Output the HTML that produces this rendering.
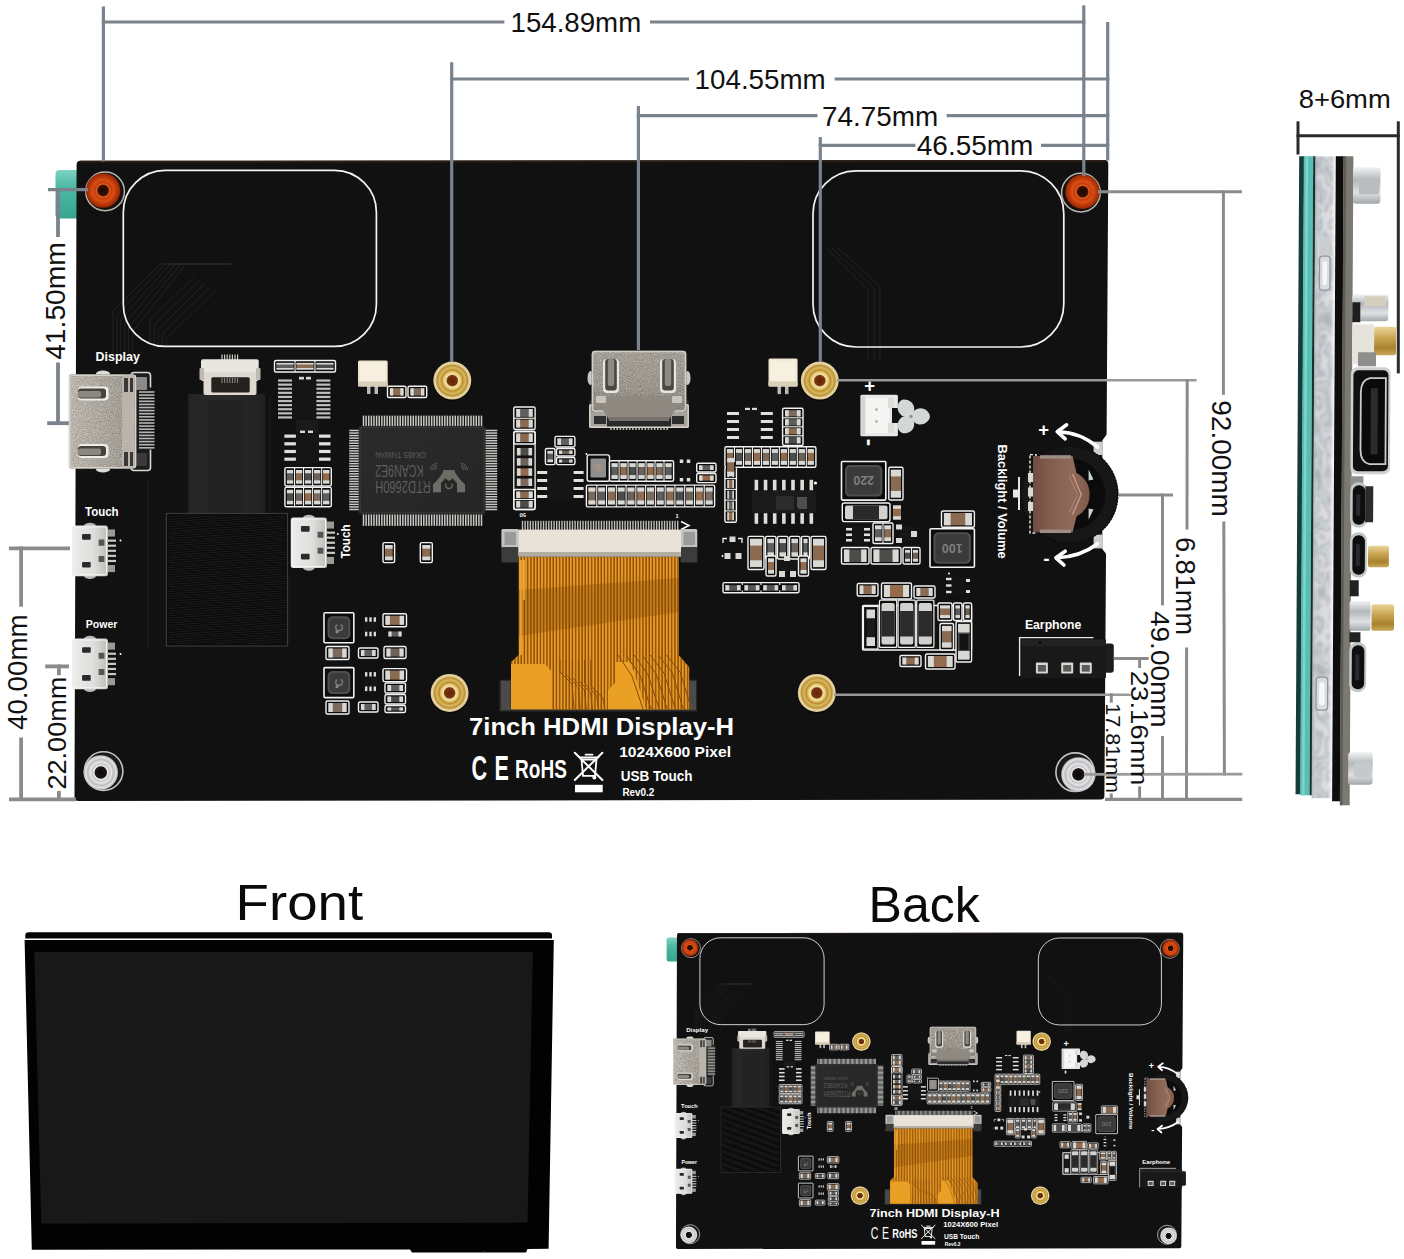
<!DOCTYPE html>
<html lang="en"><head><meta charset="utf-8"><title>7inch HDMI Display-H dimensions</title>
<style>html,body{margin:0;padding:0;background:#fff}body{width:1404px;height:1259px;overflow:hidden}svg{display:block}text{font-family:'Liberation Sans', 'Noto Sans CJK SC', sans-serif}</style></head><body>
<svg width="1404" height="1259" viewBox="0 0 1404 1259">

<defs>
<linearGradient id="gTeal" x1="0" y1="0" x2="0" y2="1"><stop offset="0" stop-color="#7fd3c2"/><stop offset="0.35" stop-color="#4db9a4"/><stop offset="1" stop-color="#36a48f"/></linearGradient>
<linearGradient id="gSheen" x1="0" y1="0" x2="1" y2="0"><stop offset="0" stop-color="#1a1a1a" stop-opacity="0"/><stop offset="0.5" stop-color="#1a1a1a" stop-opacity="0.6"/><stop offset="1" stop-color="#1a1a1a" stop-opacity="0"/></linearGradient>
<linearGradient id="gHdmi" x1="0" y1="0" x2="1" y2="0"><stop offset="0" stop-color="#b9b5ad"/><stop offset="0.5" stop-color="#aaa69e"/><stop offset="1" stop-color="#9a968e"/></linearGradient>
<linearGradient id="gHdmiC" x1="0" y1="0" x2="0" y2="1"><stop offset="0" stop-color="#a29e96"/><stop offset="0.6" stop-color="#9a968e"/><stop offset="1" stop-color="#86827a"/></linearGradient>
<linearGradient id="gUsb" x1="0" y1="0" x2="1" y2="0"><stop offset="0" stop-color="#ececea"/><stop offset="0.6" stop-color="#dededc"/><stop offset="1" stop-color="#bcbcb8"/></linearGradient>
<linearGradient id="gTape" x1="0" y1="0" x2="1" y2="0"><stop offset="0" stop-color="#242424"/><stop offset="0.5" stop-color="#2b2b2b"/><stop offset="1" stop-color="#202020"/></linearGradient>
<linearGradient id="gChip" x1="0" y1="0" x2="1" y2="1"><stop offset="0" stop-color="#2b2b2b"/><stop offset="1" stop-color="#252525"/></linearGradient>
<linearGradient id="gCopper" x1="0" y1="0" x2="1" y2="0"><stop offset="0" stop-color="#6e4d42"/><stop offset="0.35" stop-color="#85604f"/><stop offset="0.7" stop-color="#8f6a5a"/><stop offset="1" stop-color="#80584a"/></linearGradient>
<linearGradient id="gMetal" x1="0" y1="0" x2="1" y2="0"><stop offset="0" stop-color="#8e9498" stop-opacity="0.55"/><stop offset="0.25" stop-color="#ffffff" stop-opacity="0"/><stop offset="0.8" stop-color="#ffffff" stop-opacity="0.15"/><stop offset="1" stop-color="#ffffff" stop-opacity="0.7"/></linearGradient>
<linearGradient id="gSilverV" x1="0" y1="0" x2="0" y2="1"><stop offset="0" stop-color="#f2f3f4"/><stop offset="0.35" stop-color="#b4b8bb"/><stop offset="0.7" stop-color="#dfe1e3"/><stop offset="1" stop-color="#a4a8ab"/></linearGradient>
<linearGradient id="gBrass" x1="0" y1="0" x2="0" y2="1"><stop offset="0" stop-color="#e9d59a"/><stop offset="0.4" stop-color="#c9a552"/><stop offset="0.75" stop-color="#a8822e"/><stop offset="1" stop-color="#c8a85a"/></linearGradient>
<filter id="fMetal" x="0" y="0" width="100%" height="100%" color-interpolation-filters="sRGB"><feTurbulence type="fractalNoise" baseFrequency="0.075 0.04" numOctaves="2" seed="11"/><feColorMatrix type="matrix" values="1.5 0 0 0 -0.25  1.5 0 0 0 -0.25  1.5 0 0 0 -0.25  0 0 0 0 1"/><feComponentTransfer><feFuncR type="discrete" tableValues="0.66 0.70 0.78 0.72 0.84 0.76 0.70 0.80"/><feFuncG type="discrete" tableValues="0.68 0.72 0.80 0.74 0.85 0.78 0.72 0.81"/><feFuncB type="discrete" tableValues="0.70 0.74 0.81 0.76 0.86 0.80 0.74 0.82"/></feComponentTransfer><feGaussianBlur stdDeviation="0.8"/><feComposite in2="SourceGraphic" operator="in"/></filter>
<radialGradient id="gRed"><stop offset="0" stop-color="#1c0802"/><stop offset="0.30" stop-color="#3a0e02"/><stop offset="0.37" stop-color="#e2601f"/><stop offset="0.47" stop-color="#c43d0c"/><stop offset="0.62" stop-color="#d94e14"/><stop offset="0.8" stop-color="#bb380a"/><stop offset="1" stop-color="#932604"/></radialGradient>
<radialGradient id="gGold"><stop offset="0" stop-color="#5e2406"/><stop offset="0.27" stop-color="#7a3510"/><stop offset="0.33" stop-color="#f3e2a4"/><stop offset="0.45" stop-color="#e6cc7c"/><stop offset="0.55" stop-color="#bb8e30"/><stop offset="0.68" stop-color="#d9b95e"/><stop offset="0.8" stop-color="#b98f38"/><stop offset="0.9" stop-color="#e9d8a6"/><stop offset="1" stop-color="#d7c190"/></radialGradient>
<radialGradient id="gSilver"><stop offset="0" stop-color="#0c0808"/><stop offset="0.33" stop-color="#1a1414"/><stop offset="0.39" stop-color="#f0f0f0"/><stop offset="0.5" stop-color="#c6c6ca"/><stop offset="0.62" stop-color="#e6e6e8"/><stop offset="0.75" stop-color="#bcbcc0"/><stop offset="0.88" stop-color="#e2e2e4"/><stop offset="1" stop-color="#b4b4b8"/></radialGradient>
<filter id="fGrain" x="0" y="0" width="100%" height="100%" color-interpolation-filters="sRGB"><feTurbulence type="fractalNoise" baseFrequency="0.75" numOctaves="2" seed="4" result="n"/><feColorMatrix in="n" type="matrix" values="0.33 0.33 0.33 0 0  0.33 0.33 0.33 0 0  0.33 0.33 0.33 0 0  0 0 0 0 1" result="g"/><feComposite in="SourceGraphic" in2="g" operator="arithmetic" k1="0" k2="1" k3="0.55" k4="-0.27" result="c"/><feComposite in="c" in2="SourceGraphic" operator="in"/></filter>
<pattern id="pRib" width="6" height="2.4" patternUnits="userSpaceOnUse" patternTransform="rotate(-4)"><rect width="6" height="2.4" fill="#0a0a0a"/><rect y="1.5" width="6" height="0.9" fill="#1c1c1c"/></pattern>
<pattern id="pFlex" x="518.8" width="3.2" height="8" patternUnits="userSpaceOnUse"><rect x="1.8" width="1.4" height="8" fill="#8c4c0a"/></pattern>
<pattern id="pMetal" width="19.8" height="46" patternUnits="userSpaceOnUse"><rect width="19.8" height="46" fill="#b5babe"/><path d="M0 4 L9 0 L14 9 L6 15 Z" fill="#cfd3d6"/><path d="M10 14 L19.8 10 L19.8 24 L12 27 Z" fill="#9fa5a9"/><path d="M1 22 L9 19 L12 31 L3 34 Z" fill="#d9dcde"/><path d="M9 33 L18 30 L19.8 42 L11 46 Z" fill="#c3c7ca"/><path d="M0 38 L7 36 L8 46 L0 46 Z" fill="#a7adb1"/></pattern>
</defs>

<rect x="0" y="0" width="1404" height="1259" fill="#ffffff"/>
<g id="board-large" font-weight="bold">
<rect x="55.5" y="170" width="23.5" height="48.5" rx="4" fill="url(#gTeal)"/>
<path d="M80.5 160.8 L1104.5 160 Q1108.3 160 1108.3 164 L1106.6 434.5 L1102.3 440.4 L1102.3 549 L1106 553.8 L1104.4 796 Q1104.4 799.6 1100.5 799.6 L78.5 801 Q74.4 801 74.5 797 L76.6 165 Q76.6 160.8 80.5 160.8 Z" fill="#111111"/>
<path d="M80.5 160.8 L1104.5 160 L1104.5 162 L80.5 162.8 Z" fill="#2a1c16"/>
<path d="M232 264 L160 264 L113 311 L113 360" stroke="#262626" stroke-width="0.9" fill="none"/>
<path d="M230.96 264 L165.2 264 L116.9 315.16 L116.9 360" stroke="#262626" stroke-width="0.9" fill="none"/>
<path d="M229.92 264 L170.4 264 L120.8 319.32 L120.8 360" stroke="#262626" stroke-width="0.9" fill="none"/>
<path d="M228.88 264 L175.6 264 L124.7 323.48 L124.7 360" stroke="#262626" stroke-width="0.9" fill="none"/>
<path d="M227.84 264 L180.8 264 L128.6 327.64 L128.6 360" stroke="#262626" stroke-width="0.9" fill="none"/>
<path d="M226.8 264 L186 264 L132.5 331.8 L132.5 360" stroke="#262626" stroke-width="0.9" fill="none"/>
<path d="M196 275 L150 320 L150 345" stroke="#262626" stroke-width="0.9" fill="none"/>
<path d="M200.6 279.14 L154.14 324.6 L154.14 345" stroke="#262626" stroke-width="0.9" fill="none"/>
<path d="M205.2 283.28 L158.28 329.2 L158.28 345" stroke="#262626" stroke-width="0.9" fill="none"/>
<path d="M209.8 287.42 L162.42 333.8 L162.42 345" stroke="#262626" stroke-width="0.9" fill="none"/>
<path d="M214.4 291.56 L166.56 338.4 L166.56 345" stroke="#262626" stroke-width="0.9" fill="none"/>
<path d="M826 248 L868 290 L868 360" stroke="#262626" stroke-width="0.9" fill="none"/>
<path d="M832 248 L874 288.2 L874 360" stroke="#262626" stroke-width="0.9" fill="none"/>
<path d="M838 248 L880 286.4 L880 360" stroke="#262626" stroke-width="0.9" fill="none"/>
<path d="M148 480 L148 650 M270 395 L270 512 M289 575 L289 645" stroke="#1f1f1f" stroke-width="1" fill="none"/>
<rect x="123.3" y="170.4" width="253.1" height="176" rx="42" fill="none" stroke="#f4f4f4" stroke-width="1.7"/>
<rect x="813" y="170.8" width="250.8" height="176.2" rx="43" fill="none" stroke="#f4f4f4" stroke-width="1.7"/>
<rect x="131" y="372.5" width="20" height="98" rx="2" fill="#1c1c1c"/>
<rect x="131" y="372.5" width="19.5" height="98" rx="3" fill="none" stroke="#d8d8d4" stroke-width="1.6" stroke-dasharray="30 62 200"/>
<rect x="139" y="391.2" width="15.5" height="1.6" fill="#b4b4b0"/>
<rect x="139" y="394.3" width="15.5" height="1.6" fill="#b4b4b0"/>
<rect x="139" y="397.4" width="15.5" height="1.6" fill="#b4b4b0"/>
<rect x="139" y="400.5" width="15.5" height="1.6" fill="#b4b4b0"/>
<rect x="139" y="403.6" width="15.5" height="1.6" fill="#b4b4b0"/>
<rect x="139" y="406.7" width="15.5" height="1.6" fill="#b4b4b0"/>
<rect x="139" y="409.8" width="15.5" height="1.6" fill="#b4b4b0"/>
<rect x="139" y="412.9" width="15.5" height="1.6" fill="#b4b4b0"/>
<rect x="139" y="416" width="15.5" height="1.6" fill="#b4b4b0"/>
<rect x="139" y="419.1" width="15.5" height="1.6" fill="#b4b4b0"/>
<rect x="139" y="422.2" width="15.5" height="1.6" fill="#b4b4b0"/>
<rect x="139" y="425.3" width="15.5" height="1.6" fill="#b4b4b0"/>
<rect x="139" y="428.4" width="15.5" height="1.6" fill="#b4b4b0"/>
<rect x="139" y="431.5" width="15.5" height="1.6" fill="#b4b4b0"/>
<rect x="139" y="434.6" width="15.5" height="1.6" fill="#b4b4b0"/>
<rect x="139" y="437.7" width="15.5" height="1.6" fill="#b4b4b0"/>
<rect x="139" y="440.8" width="15.5" height="1.6" fill="#b4b4b0"/>
<rect x="139" y="443.9" width="15.5" height="1.6" fill="#b4b4b0"/>
<rect x="139" y="447" width="15.5" height="1.6" fill="#b4b4b0"/>
<rect x="135" y="377" width="12" height="13" rx="1" fill="#8a8a88"/>
<rect x="135" y="453" width="12" height="13" rx="1" fill="#3a3a3a"/>
<ellipse cx="103" cy="373.5" rx="7" ry="3" fill="#dcdcd8"/>
<ellipse cx="103" cy="469.5" rx="7" ry="3" fill="#dcdcd8"/>
<rect x="68.8" y="374.3" width="67.7" height="94.4" rx="3" fill="url(#gHdmi)" filter="url(#fGrain)"/>
<rect x="69.8" y="375.3" width="65.7" height="92.4" rx="3" fill="none" stroke="#d6d2ca" stroke-width="1.6"/>
<rect x="122" y="375.3" width="12" height="92.4" fill="#b9b5ad"/>
<rect x="124" y="378" width="4" height="14" fill="#3a3836"/>
<rect x="130" y="378" width="3" height="14" fill="#3a3836"/>
<rect x="124" y="452" width="4" height="14" fill="#3a3836"/>
<rect x="130" y="452" width="3" height="14" fill="#3a3836"/>
<rect x="78" y="386.5" width="30.5" height="14" rx="4" fill="#efece6"/>
<rect x="78" y="388.5" width="28" height="10" rx="3" fill="#46423e"/>
<rect x="78" y="391" width="23" height="6.5" rx="2" fill="#8c8880"/>
<rect x="78" y="444" width="30.5" height="14" rx="4" fill="#efece6"/>
<rect x="78" y="446" width="28" height="10" rx="3" fill="#46423e"/>
<rect x="78" y="448.5" width="23" height="6.5" rx="2" fill="#8c8880"/>
<text x="95.6" y="361.2" font-size="12.6" fill="#fff" font-weight="bold" textLength="44.3" lengthAdjust="spacingAndGlyphs">Display</text>
<rect x="107" y="539.54" width="9" height="2.2" fill="#c8c8c4"/>
<rect x="107" y="544.62" width="9" height="2.2" fill="#c8c8c4"/>
<rect x="107" y="549.7" width="9" height="2.2" fill="#c8c8c4"/>
<rect x="107" y="554.78" width="9" height="2.2" fill="#c8c8c4"/>
<rect x="107" y="559.86" width="9" height="2.2" fill="#c8c8c4"/>
<rect x="106" y="529.46" width="9" height="7.11" fill="#9a9a96"/>
<rect x="106" y="565.02" width="9" height="7.11" fill="#9a9a96"/>
<ellipse cx="90" cy="525.9" rx="6" ry="3.2" fill="#b8b8b4"/>
<ellipse cx="90" cy="575.7" rx="6" ry="3.2" fill="#b8b8b4"/>
<rect x="72" y="525.4" width="36" height="50.8" rx="2.5" fill="url(#gUsb)"/>
<rect x="73.5" y="526.9" width="33" height="47.8" rx="2" fill="none" stroke="#f4f4f2" stroke-width="1"/>
<rect x="82.08" y="534.04" width="8.64" height="5.59" rx="1" fill="#2a2a2a"/>
<rect x="82.08" y="561.98" width="8.64" height="5.59" rx="1" fill="#2a2a2a"/>
<rect x="98.64" y="539.62" width="5.76" height="6.1" rx="0.5" fill="#555"/>
<rect x="98.64" y="555.88" width="5.76" height="6.1" rx="0.5" fill="#555"/>
<circle cx="120.5" cy="540.5" r="1" fill="#fff"/>
<text x="85" y="515.8" font-size="12" fill="#fff" font-weight="bold" textLength="33.6" lengthAdjust="spacingAndGlyphs">Touch</text>
<rect x="107" y="652.64" width="9" height="2.2" fill="#c8c8c4"/>
<rect x="107" y="657.72" width="9" height="2.2" fill="#c8c8c4"/>
<rect x="107" y="662.8" width="9" height="2.2" fill="#c8c8c4"/>
<rect x="107" y="667.88" width="9" height="2.2" fill="#c8c8c4"/>
<rect x="107" y="672.96" width="9" height="2.2" fill="#c8c8c4"/>
<rect x="106" y="642.56" width="9" height="7.11" fill="#9a9a96"/>
<rect x="106" y="678.12" width="9" height="7.11" fill="#9a9a96"/>
<ellipse cx="90" cy="639" rx="6" ry="3.2" fill="#b8b8b4"/>
<ellipse cx="90" cy="688.8" rx="6" ry="3.2" fill="#b8b8b4"/>
<rect x="72" y="638.5" width="36" height="50.8" rx="2.5" fill="url(#gUsb)"/>
<rect x="73.5" y="640" width="33" height="47.8" rx="2" fill="none" stroke="#f4f4f2" stroke-width="1"/>
<rect x="82.08" y="647.14" width="8.64" height="5.59" rx="1" fill="#2a2a2a"/>
<rect x="82.08" y="675.08" width="8.64" height="5.59" rx="1" fill="#2a2a2a"/>
<rect x="98.64" y="652.72" width="5.76" height="6.1" rx="0.5" fill="#555"/>
<rect x="98.64" y="668.98" width="5.76" height="6.1" rx="0.5" fill="#555"/>
<circle cx="120.5" cy="654" r="1" fill="#fff"/>
<text x="85.8" y="628.4" font-size="11.6" fill="#fff" font-weight="bold" textLength="31.6" lengthAdjust="spacingAndGlyphs">Power</text>
<rect x="188.2" y="394" width="77" height="120" fill="url(#gTape)"/>
<rect x="208" y="400" width="38" height="114" fill="#232323"/>
<rect x="221.4" y="354.5" width="1.2" height="6.5" fill="#c8c8c4"/>
<rect x="224" y="354.5" width="1.2" height="6.5" fill="#c8c8c4"/>
<rect x="226.6" y="354.5" width="1.2" height="6.5" fill="#c8c8c4"/>
<rect x="229.2" y="354.5" width="1.2" height="6.5" fill="#c8c8c4"/>
<rect x="231.8" y="354.5" width="1.2" height="6.5" fill="#c8c8c4"/>
<rect x="234.4" y="354.5" width="1.2" height="6.5" fill="#c8c8c4"/>
<rect x="237" y="354.5" width="1.2" height="6.5" fill="#c8c8c4"/>
<rect x="201" y="359.2" width="57.7" height="21.8" rx="2" fill="#e9e6e0"/>
<rect x="203.5" y="372" width="53" height="23" rx="2" fill="#dedad2"/>
<rect x="199.5" y="368" width="4.5" height="12" rx="1" fill="#bdbab4"/>
<rect x="256" y="368" width="4.5" height="12" rx="1" fill="#bdbab4"/>
<rect x="211.3" y="377.2" width="38.4" height="15.4" rx="1.5" fill="#24221f"/>
<rect x="221.5" y="378" width="1" height="5" fill="#8c8a84"/>
<rect x="224.1" y="378" width="1" height="5" fill="#8c8a84"/>
<rect x="226.7" y="378" width="1" height="5" fill="#8c8a84"/>
<rect x="229.3" y="378" width="1" height="5" fill="#8c8a84"/>
<rect x="231.9" y="378" width="1" height="5" fill="#8c8a84"/>
<rect x="234.5" y="378" width="1" height="5" fill="#8c8a84"/>
<rect x="237.1" y="378" width="1" height="5" fill="#8c8a84"/>
<rect x="166.4" y="513.5" width="121" height="132.5" fill="#0b0b0b" stroke="#3a3a3a" stroke-width="1.2"/>
<rect x="168.5" y="515.5" width="117" height="128.5" fill="url(#pRib)"/>
<rect x="274.5" y="360.5" width="61" height="11.5" rx="1.5" fill="#0c0c0c" stroke="#f2f2f2" stroke-width="1.4"/>
<rect x="276.5" y="362.9" width="17.13" height="6.7" fill="#5e5e5c"/>
<rect x="276.5" y="362.9" width="17.13" height="1.61" fill="#d8d8d4"/>
<rect x="276.5" y="367.99" width="17.13" height="1.61" fill="#d8d8d4"/>
<line x1="295.03" y1="360.5" x2="295.03" y2="372" stroke="#f2f2f2" stroke-width="1.1"/>
<rect x="296.43" y="362.9" width="17.13" height="6.7" fill="#8a6a50"/>
<rect x="296.43" y="362.9" width="17.13" height="1.61" fill="#d8d8d4"/>
<rect x="296.43" y="367.99" width="17.13" height="1.61" fill="#d8d8d4"/>
<line x1="314.97" y1="360.5" x2="314.97" y2="372" stroke="#f2f2f2" stroke-width="1.1"/>
<rect x="316.37" y="362.9" width="17.13" height="6.7" fill="#4c4c4a"/>
<rect x="316.37" y="362.9" width="17.13" height="1.61" fill="#d8d8d4"/>
<rect x="316.37" y="367.99" width="17.13" height="1.61" fill="#d8d8d4"/>
<rect x="278" y="379.42" width="15" height="2.25" fill="#bcbcb8"/>
<rect x="315.4" y="379.42" width="15" height="2.25" fill="#bcbcb8"/>
<rect x="278" y="383.52" width="15" height="2.25" fill="#bcbcb8"/>
<rect x="315.4" y="383.52" width="15" height="2.25" fill="#bcbcb8"/>
<rect x="278" y="387.62" width="15" height="2.25" fill="#bcbcb8"/>
<rect x="315.4" y="387.62" width="15" height="2.25" fill="#bcbcb8"/>
<rect x="278" y="391.72" width="15" height="2.25" fill="#bcbcb8"/>
<rect x="315.4" y="391.72" width="15" height="2.25" fill="#bcbcb8"/>
<rect x="278" y="395.82" width="15" height="2.25" fill="#bcbcb8"/>
<rect x="315.4" y="395.82" width="15" height="2.25" fill="#bcbcb8"/>
<rect x="278" y="399.92" width="15" height="2.25" fill="#bcbcb8"/>
<rect x="315.4" y="399.92" width="15" height="2.25" fill="#bcbcb8"/>
<rect x="278" y="404.02" width="15" height="2.25" fill="#bcbcb8"/>
<rect x="315.4" y="404.02" width="15" height="2.25" fill="#bcbcb8"/>
<rect x="278" y="408.12" width="15" height="2.25" fill="#bcbcb8"/>
<rect x="315.4" y="408.12" width="15" height="2.25" fill="#bcbcb8"/>
<rect x="278" y="412.22" width="15" height="2.25" fill="#bcbcb8"/>
<rect x="315.4" y="412.22" width="15" height="2.25" fill="#bcbcb8"/>
<rect x="278" y="416.32" width="15" height="2.25" fill="#bcbcb8"/>
<rect x="315.4" y="416.32" width="15" height="2.25" fill="#bcbcb8"/>
<rect x="292" y="378.5" width="24.4" height="41" rx="1" fill="#151515"/>
<rect x="299" y="376.8" width="5" height="2.7" fill="#d8d8d4"/>
<rect x="306" y="376.8" width="5" height="2.7" fill="#d8d8d4"/>
<rect x="296" y="420" width="22" height="12" fill="#1a1a1a"/>
<rect x="284.4" y="434.54" width="12.5" height="3.2" fill="#e0e0dc"/>
<rect x="318" y="434.54" width="12.5" height="3.2" fill="#e0e0dc"/>
<rect x="284.4" y="442.21" width="12.5" height="3.2" fill="#e0e0dc"/>
<rect x="318" y="442.21" width="12.5" height="3.2" fill="#e0e0dc"/>
<rect x="284.4" y="449.89" width="12.5" height="3.2" fill="#e0e0dc"/>
<rect x="318" y="449.89" width="12.5" height="3.2" fill="#e0e0dc"/>
<rect x="284.4" y="457.56" width="12.5" height="3.2" fill="#e0e0dc"/>
<rect x="318" y="457.56" width="12.5" height="3.2" fill="#e0e0dc"/>
<rect x="295.9" y="432.3" width="23.1" height="30.7" rx="1" fill="#151515"/>
<rect x="300" y="430.6" width="5" height="2.4" fill="#d8d8d4"/>
<rect x="308" y="430.6" width="5" height="2.4" fill="#d8d8d4"/>
<rect x="284.9" y="467.6" width="46.4" height="18.4" rx="1.5" fill="#0c0c0c" stroke="#f2f2f2" stroke-width="1.4"/>
<rect x="286.9" y="470" width="6.24" height="13.6" fill="#5e5e5c"/>
<rect x="286.9" y="470" width="6.24" height="3.26" fill="#d8d8d4"/>
<rect x="286.9" y="480.34" width="6.24" height="3.26" fill="#d8d8d4"/>
<line x1="294.54" y1="467.6" x2="294.54" y2="486" stroke="#f2f2f2" stroke-width="1.1"/>
<rect x="295.94" y="470" width="6.24" height="13.6" fill="#8a6a50"/>
<rect x="295.94" y="470" width="6.24" height="3.26" fill="#d8d8d4"/>
<rect x="295.94" y="480.34" width="6.24" height="3.26" fill="#d8d8d4"/>
<line x1="303.58" y1="467.6" x2="303.58" y2="486" stroke="#f2f2f2" stroke-width="1.1"/>
<rect x="304.98" y="470" width="6.24" height="13.6" fill="#4c4c4a"/>
<rect x="304.98" y="470" width="6.24" height="3.26" fill="#d8d8d4"/>
<rect x="304.98" y="480.34" width="6.24" height="3.26" fill="#d8d8d4"/>
<line x1="312.62" y1="467.6" x2="312.62" y2="486" stroke="#f2f2f2" stroke-width="1.1"/>
<rect x="314.02" y="470" width="6.24" height="13.6" fill="#6c625a"/>
<rect x="314.02" y="470" width="6.24" height="3.26" fill="#d8d8d4"/>
<rect x="314.02" y="480.34" width="6.24" height="3.26" fill="#d8d8d4"/>
<line x1="321.66" y1="467.6" x2="321.66" y2="486" stroke="#f2f2f2" stroke-width="1.1"/>
<rect x="323.06" y="470" width="6.24" height="13.6" fill="#946b4c"/>
<rect x="323.06" y="470" width="6.24" height="3.26" fill="#d8d8d4"/>
<rect x="323.06" y="480.34" width="6.24" height="3.26" fill="#d8d8d4"/>
<rect x="284.9" y="487.4" width="46.4" height="19.3" rx="1.5" fill="#0c0c0c" stroke="#f2f2f2" stroke-width="1.4"/>
<rect x="286.9" y="489.8" width="6.24" height="14.5" fill="#4c4c4a"/>
<rect x="286.9" y="489.8" width="6.24" height="3.48" fill="#d8d8d4"/>
<rect x="286.9" y="500.82" width="6.24" height="3.48" fill="#d8d8d4"/>
<line x1="294.54" y1="487.4" x2="294.54" y2="506.7" stroke="#f2f2f2" stroke-width="1.1"/>
<rect x="295.94" y="489.8" width="6.24" height="14.5" fill="#6c625a"/>
<rect x="295.94" y="489.8" width="6.24" height="3.48" fill="#d8d8d4"/>
<rect x="295.94" y="500.82" width="6.24" height="3.48" fill="#d8d8d4"/>
<line x1="303.58" y1="487.4" x2="303.58" y2="506.7" stroke="#f2f2f2" stroke-width="1.1"/>
<rect x="304.98" y="489.8" width="6.24" height="14.5" fill="#946b4c"/>
<rect x="304.98" y="489.8" width="6.24" height="3.48" fill="#d8d8d4"/>
<rect x="304.98" y="500.82" width="6.24" height="3.48" fill="#d8d8d4"/>
<line x1="312.62" y1="487.4" x2="312.62" y2="506.7" stroke="#f2f2f2" stroke-width="1.1"/>
<rect x="314.02" y="489.8" width="6.24" height="14.5" fill="#7c6a5c"/>
<rect x="314.02" y="489.8" width="6.24" height="3.48" fill="#d8d8d4"/>
<rect x="314.02" y="500.82" width="6.24" height="3.48" fill="#d8d8d4"/>
<line x1="321.66" y1="487.4" x2="321.66" y2="506.7" stroke="#f2f2f2" stroke-width="1.1"/>
<rect x="323.06" y="489.8" width="6.24" height="14.5" fill="#5e5e5c"/>
<rect x="323.06" y="489.8" width="6.24" height="3.48" fill="#d8d8d4"/>
<rect x="323.06" y="500.82" width="6.24" height="3.48" fill="#d8d8d4"/>
<rect x="367" y="385.5" width="3.5" height="8.5" fill="#b8b8b4"/>
<rect x="374.5" y="385.5" width="3.5" height="8.5" fill="#b8b8b4"/>
<rect x="358" y="360.5" width="29.7" height="26" rx="1.5" fill="#efe6d2"/>
<rect x="360" y="362.5" width="25.7" height="19" rx="1" fill="#f7f0e0"/>
<rect x="358" y="381.5" width="29.7" height="5" rx="1" fill="#d9cfb8"/>
<rect x="387.5" y="386.2" width="18.5" height="11.3" rx="1.5" fill="#0c0c0c" stroke="#f2f2f2" stroke-width="1.4"/>
<rect x="389.9" y="388.2" width="13.7" height="7.3" fill="#8a6a50"/>
<rect x="389.9" y="388.2" width="3.29" height="7.3" fill="#d8d8d4"/>
<rect x="400.31" y="388.2" width="3.29" height="7.3" fill="#d8d8d4"/>
<rect x="408" y="386.2" width="18.7" height="11.3" rx="1.5" fill="#0c0c0c" stroke="#f2f2f2" stroke-width="1.4"/>
<rect x="410.4" y="388.2" width="13.9" height="7.3" fill="#7c6a5c"/>
<rect x="410.4" y="388.2" width="3.34" height="7.3" fill="#d8d8d4"/>
<rect x="420.96" y="388.2" width="3.34" height="7.3" fill="#d8d8d4"/>
<g fill="#c9c9c5">
<rect x="362.75" y="415.6" width="1.5" height="11.4" fill="#c9c9c5"/>
<rect x="362.75" y="513" width="1.5" height="12.9" fill="#c9c9c5"/>
<rect x="365.37" y="415.6" width="1.5" height="11.4" fill="#c9c9c5"/>
<rect x="365.37" y="513" width="1.5" height="12.9" fill="#c9c9c5"/>
<rect x="367.99" y="415.6" width="1.5" height="11.4" fill="#c9c9c5"/>
<rect x="367.99" y="513" width="1.5" height="12.9" fill="#c9c9c5"/>
<rect x="370.62" y="415.6" width="1.5" height="11.4" fill="#c9c9c5"/>
<rect x="370.62" y="513" width="1.5" height="12.9" fill="#c9c9c5"/>
<rect x="373.24" y="415.6" width="1.5" height="11.4" fill="#c9c9c5"/>
<rect x="373.24" y="513" width="1.5" height="12.9" fill="#c9c9c5"/>
<rect x="375.86" y="415.6" width="1.5" height="11.4" fill="#c9c9c5"/>
<rect x="375.86" y="513" width="1.5" height="12.9" fill="#c9c9c5"/>
<rect x="378.48" y="415.6" width="1.5" height="11.4" fill="#c9c9c5"/>
<rect x="378.48" y="513" width="1.5" height="12.9" fill="#c9c9c5"/>
<rect x="381.11" y="415.6" width="1.5" height="11.4" fill="#c9c9c5"/>
<rect x="381.11" y="513" width="1.5" height="12.9" fill="#c9c9c5"/>
<rect x="383.73" y="415.6" width="1.5" height="11.4" fill="#c9c9c5"/>
<rect x="383.73" y="513" width="1.5" height="12.9" fill="#c9c9c5"/>
<rect x="386.35" y="415.6" width="1.5" height="11.4" fill="#c9c9c5"/>
<rect x="386.35" y="513" width="1.5" height="12.9" fill="#c9c9c5"/>
<rect x="388.97" y="415.6" width="1.5" height="11.4" fill="#c9c9c5"/>
<rect x="388.97" y="513" width="1.5" height="12.9" fill="#c9c9c5"/>
<rect x="391.59" y="415.6" width="1.5" height="11.4" fill="#c9c9c5"/>
<rect x="391.59" y="513" width="1.5" height="12.9" fill="#c9c9c5"/>
<rect x="394.22" y="415.6" width="1.5" height="11.4" fill="#c9c9c5"/>
<rect x="394.22" y="513" width="1.5" height="12.9" fill="#c9c9c5"/>
<rect x="396.84" y="415.6" width="1.5" height="11.4" fill="#c9c9c5"/>
<rect x="396.84" y="513" width="1.5" height="12.9" fill="#c9c9c5"/>
<rect x="399.46" y="415.6" width="1.5" height="11.4" fill="#c9c9c5"/>
<rect x="399.46" y="513" width="1.5" height="12.9" fill="#c9c9c5"/>
<rect x="402.08" y="415.6" width="1.5" height="11.4" fill="#c9c9c5"/>
<rect x="402.08" y="513" width="1.5" height="12.9" fill="#c9c9c5"/>
<rect x="404.71" y="415.6" width="1.5" height="11.4" fill="#c9c9c5"/>
<rect x="404.71" y="513" width="1.5" height="12.9" fill="#c9c9c5"/>
<rect x="407.33" y="415.6" width="1.5" height="11.4" fill="#c9c9c5"/>
<rect x="407.33" y="513" width="1.5" height="12.9" fill="#c9c9c5"/>
<rect x="409.95" y="415.6" width="1.5" height="11.4" fill="#c9c9c5"/>
<rect x="409.95" y="513" width="1.5" height="12.9" fill="#c9c9c5"/>
<rect x="412.57" y="415.6" width="1.5" height="11.4" fill="#c9c9c5"/>
<rect x="412.57" y="513" width="1.5" height="12.9" fill="#c9c9c5"/>
<rect x="415.19" y="415.6" width="1.5" height="11.4" fill="#c9c9c5"/>
<rect x="415.19" y="513" width="1.5" height="12.9" fill="#c9c9c5"/>
<rect x="417.82" y="415.6" width="1.5" height="11.4" fill="#c9c9c5"/>
<rect x="417.82" y="513" width="1.5" height="12.9" fill="#c9c9c5"/>
<rect x="420.44" y="415.6" width="1.5" height="11.4" fill="#c9c9c5"/>
<rect x="420.44" y="513" width="1.5" height="12.9" fill="#c9c9c5"/>
<rect x="423.06" y="415.6" width="1.5" height="11.4" fill="#c9c9c5"/>
<rect x="423.06" y="513" width="1.5" height="12.9" fill="#c9c9c5"/>
<rect x="425.68" y="415.6" width="1.5" height="11.4" fill="#c9c9c5"/>
<rect x="425.68" y="513" width="1.5" height="12.9" fill="#c9c9c5"/>
<rect x="428.31" y="415.6" width="1.5" height="11.4" fill="#c9c9c5"/>
<rect x="428.31" y="513" width="1.5" height="12.9" fill="#c9c9c5"/>
<rect x="430.93" y="415.6" width="1.5" height="11.4" fill="#c9c9c5"/>
<rect x="430.93" y="513" width="1.5" height="12.9" fill="#c9c9c5"/>
<rect x="433.55" y="415.6" width="1.5" height="11.4" fill="#c9c9c5"/>
<rect x="433.55" y="513" width="1.5" height="12.9" fill="#c9c9c5"/>
<rect x="436.17" y="415.6" width="1.5" height="11.4" fill="#c9c9c5"/>
<rect x="436.17" y="513" width="1.5" height="12.9" fill="#c9c9c5"/>
<rect x="438.79" y="415.6" width="1.5" height="11.4" fill="#c9c9c5"/>
<rect x="438.79" y="513" width="1.5" height="12.9" fill="#c9c9c5"/>
<rect x="441.42" y="415.6" width="1.5" height="11.4" fill="#c9c9c5"/>
<rect x="441.42" y="513" width="1.5" height="12.9" fill="#c9c9c5"/>
<rect x="444.04" y="415.6" width="1.5" height="11.4" fill="#c9c9c5"/>
<rect x="444.04" y="513" width="1.5" height="12.9" fill="#c9c9c5"/>
<rect x="446.66" y="415.6" width="1.5" height="11.4" fill="#c9c9c5"/>
<rect x="446.66" y="513" width="1.5" height="12.9" fill="#c9c9c5"/>
<rect x="449.28" y="415.6" width="1.5" height="11.4" fill="#c9c9c5"/>
<rect x="449.28" y="513" width="1.5" height="12.9" fill="#c9c9c5"/>
<rect x="451.91" y="415.6" width="1.5" height="11.4" fill="#c9c9c5"/>
<rect x="451.91" y="513" width="1.5" height="12.9" fill="#c9c9c5"/>
<rect x="454.53" y="415.6" width="1.5" height="11.4" fill="#c9c9c5"/>
<rect x="454.53" y="513" width="1.5" height="12.9" fill="#c9c9c5"/>
<rect x="457.15" y="415.6" width="1.5" height="11.4" fill="#c9c9c5"/>
<rect x="457.15" y="513" width="1.5" height="12.9" fill="#c9c9c5"/>
<rect x="459.77" y="415.6" width="1.5" height="11.4" fill="#c9c9c5"/>
<rect x="459.77" y="513" width="1.5" height="12.9" fill="#c9c9c5"/>
<rect x="462.39" y="415.6" width="1.5" height="11.4" fill="#c9c9c5"/>
<rect x="462.39" y="513" width="1.5" height="12.9" fill="#c9c9c5"/>
<rect x="465.02" y="415.6" width="1.5" height="11.4" fill="#c9c9c5"/>
<rect x="465.02" y="513" width="1.5" height="12.9" fill="#c9c9c5"/>
<rect x="467.64" y="415.6" width="1.5" height="11.4" fill="#c9c9c5"/>
<rect x="467.64" y="513" width="1.5" height="12.9" fill="#c9c9c5"/>
<rect x="470.26" y="415.6" width="1.5" height="11.4" fill="#c9c9c5"/>
<rect x="470.26" y="513" width="1.5" height="12.9" fill="#c9c9c5"/>
<rect x="472.88" y="415.6" width="1.5" height="11.4" fill="#c9c9c5"/>
<rect x="472.88" y="513" width="1.5" height="12.9" fill="#c9c9c5"/>
<rect x="475.51" y="415.6" width="1.5" height="11.4" fill="#c9c9c5"/>
<rect x="475.51" y="513" width="1.5" height="12.9" fill="#c9c9c5"/>
<rect x="478.13" y="415.6" width="1.5" height="11.4" fill="#c9c9c5"/>
<rect x="478.13" y="513" width="1.5" height="12.9" fill="#c9c9c5"/>
<rect x="480.75" y="415.6" width="1.5" height="11.4" fill="#c9c9c5"/>
<rect x="480.75" y="513" width="1.5" height="12.9" fill="#c9c9c5"/>
<rect x="349.2" y="429.75" width="10.8" height="1.5" fill="#c9c9c5"/>
<rect x="484.5" y="429.75" width="12.7" height="1.5" fill="#c9c9c5"/>
<rect x="349.2" y="432.3" width="10.8" height="1.5" fill="#c9c9c5"/>
<rect x="484.5" y="432.3" width="12.7" height="1.5" fill="#c9c9c5"/>
<rect x="349.2" y="434.85" width="10.8" height="1.5" fill="#c9c9c5"/>
<rect x="484.5" y="434.85" width="12.7" height="1.5" fill="#c9c9c5"/>
<rect x="349.2" y="437.4" width="10.8" height="1.5" fill="#c9c9c5"/>
<rect x="484.5" y="437.4" width="12.7" height="1.5" fill="#c9c9c5"/>
<rect x="349.2" y="439.94" width="10.8" height="1.5" fill="#c9c9c5"/>
<rect x="484.5" y="439.94" width="12.7" height="1.5" fill="#c9c9c5"/>
<rect x="349.2" y="442.49" width="10.8" height="1.5" fill="#c9c9c5"/>
<rect x="484.5" y="442.49" width="12.7" height="1.5" fill="#c9c9c5"/>
<rect x="349.2" y="445.04" width="10.8" height="1.5" fill="#c9c9c5"/>
<rect x="484.5" y="445.04" width="12.7" height="1.5" fill="#c9c9c5"/>
<rect x="349.2" y="447.59" width="10.8" height="1.5" fill="#c9c9c5"/>
<rect x="484.5" y="447.59" width="12.7" height="1.5" fill="#c9c9c5"/>
<rect x="349.2" y="450.14" width="10.8" height="1.5" fill="#c9c9c5"/>
<rect x="484.5" y="450.14" width="12.7" height="1.5" fill="#c9c9c5"/>
<rect x="349.2" y="452.69" width="10.8" height="1.5" fill="#c9c9c5"/>
<rect x="484.5" y="452.69" width="12.7" height="1.5" fill="#c9c9c5"/>
<rect x="349.2" y="455.23" width="10.8" height="1.5" fill="#c9c9c5"/>
<rect x="484.5" y="455.23" width="12.7" height="1.5" fill="#c9c9c5"/>
<rect x="349.2" y="457.78" width="10.8" height="1.5" fill="#c9c9c5"/>
<rect x="484.5" y="457.78" width="12.7" height="1.5" fill="#c9c9c5"/>
<rect x="349.2" y="460.33" width="10.8" height="1.5" fill="#c9c9c5"/>
<rect x="484.5" y="460.33" width="12.7" height="1.5" fill="#c9c9c5"/>
<rect x="349.2" y="462.88" width="10.8" height="1.5" fill="#c9c9c5"/>
<rect x="484.5" y="462.88" width="12.7" height="1.5" fill="#c9c9c5"/>
<rect x="349.2" y="465.43" width="10.8" height="1.5" fill="#c9c9c5"/>
<rect x="484.5" y="465.43" width="12.7" height="1.5" fill="#c9c9c5"/>
<rect x="349.2" y="467.98" width="10.8" height="1.5" fill="#c9c9c5"/>
<rect x="484.5" y="467.98" width="12.7" height="1.5" fill="#c9c9c5"/>
<rect x="349.2" y="470.52" width="10.8" height="1.5" fill="#c9c9c5"/>
<rect x="484.5" y="470.52" width="12.7" height="1.5" fill="#c9c9c5"/>
<rect x="349.2" y="473.07" width="10.8" height="1.5" fill="#c9c9c5"/>
<rect x="484.5" y="473.07" width="12.7" height="1.5" fill="#c9c9c5"/>
<rect x="349.2" y="475.62" width="10.8" height="1.5" fill="#c9c9c5"/>
<rect x="484.5" y="475.62" width="12.7" height="1.5" fill="#c9c9c5"/>
<rect x="349.2" y="478.17" width="10.8" height="1.5" fill="#c9c9c5"/>
<rect x="484.5" y="478.17" width="12.7" height="1.5" fill="#c9c9c5"/>
<rect x="349.2" y="480.72" width="10.8" height="1.5" fill="#c9c9c5"/>
<rect x="484.5" y="480.72" width="12.7" height="1.5" fill="#c9c9c5"/>
<rect x="349.2" y="483.27" width="10.8" height="1.5" fill="#c9c9c5"/>
<rect x="484.5" y="483.27" width="12.7" height="1.5" fill="#c9c9c5"/>
<rect x="349.2" y="485.81" width="10.8" height="1.5" fill="#c9c9c5"/>
<rect x="484.5" y="485.81" width="12.7" height="1.5" fill="#c9c9c5"/>
<rect x="349.2" y="488.36" width="10.8" height="1.5" fill="#c9c9c5"/>
<rect x="484.5" y="488.36" width="12.7" height="1.5" fill="#c9c9c5"/>
<rect x="349.2" y="490.91" width="10.8" height="1.5" fill="#c9c9c5"/>
<rect x="484.5" y="490.91" width="12.7" height="1.5" fill="#c9c9c5"/>
<rect x="349.2" y="493.46" width="10.8" height="1.5" fill="#c9c9c5"/>
<rect x="484.5" y="493.46" width="12.7" height="1.5" fill="#c9c9c5"/>
<rect x="349.2" y="496.01" width="10.8" height="1.5" fill="#c9c9c5"/>
<rect x="484.5" y="496.01" width="12.7" height="1.5" fill="#c9c9c5"/>
<rect x="349.2" y="498.56" width="10.8" height="1.5" fill="#c9c9c5"/>
<rect x="484.5" y="498.56" width="12.7" height="1.5" fill="#c9c9c5"/>
<rect x="349.2" y="501.1" width="10.8" height="1.5" fill="#c9c9c5"/>
<rect x="484.5" y="501.1" width="12.7" height="1.5" fill="#c9c9c5"/>
<rect x="349.2" y="503.65" width="10.8" height="1.5" fill="#c9c9c5"/>
<rect x="484.5" y="503.65" width="12.7" height="1.5" fill="#c9c9c5"/>
<rect x="349.2" y="506.2" width="10.8" height="1.5" fill="#c9c9c5"/>
<rect x="484.5" y="506.2" width="12.7" height="1.5" fill="#c9c9c5"/>
<rect x="349.2" y="508.75" width="10.8" height="1.5" fill="#c9c9c5"/>
<rect x="484.5" y="508.75" width="12.7" height="1.5" fill="#c9c9c5"/>
</g>
<rect x="358.7" y="425.9" width="126.9" height="88.5" rx="2" fill="url(#gChip)"/>
<rect x="360.2" y="427.4" width="123.9" height="85.5" rx="2" fill="none" stroke="#3a3a3a" stroke-width="1"/>
<g transform="rotate(180 422 470)" fill="#5e5e5b" font-weight="normal">
<text x="413.2" y="459.3" font-size="16.6" textLength="55.7" lengthAdjust="spacingAndGlyphs">RTD2660H</text>
<text x="420.5" y="475.1" font-size="15.6" textLength="48.4" lengthAdjust="spacingAndGlyphs">KCAN9E2</text>
<text x="418" y="488.4" font-size="8.4" textLength="50.9" lengthAdjust="spacingAndGlyphs">GK49S TAIWAN</text>
</g>
<g fill="#6e6c66">
<path d="M433 492.2 L433 484.5 L437.5 480 L444.5 470.5 L448 473 L444 480 L441 483 L441 492.2 Z"/>
<path d="M465 492.2 L465 484.5 L460.5 480 L453.5 470.5 L450 473 L454 480 L457 483 L457 492.2 Z"/>
<path d="M443.5 470 L454.5 470 L456 476 L449 481 L442 476 Z"/>
</g>
<path d="M446 483.5 A3.4 3.4 0 1 0 452 483.5" fill="none" stroke="#6e6c66" stroke-width="1.3"/>
<g fill="none" stroke="#62605a" stroke-width="1">
<path d="M434.5 470 A2.5 2.5 0 0 1 437 467.5"/>
<path d="M463.5 470 A2.5 2.5 0 0 0 461 467.5"/>
<path d="M432.5 470 A4.5 4.5 0 0 1 437 465.5"/>
<path d="M465.5 470 A4.5 4.5 0 0 0 461 465.5"/>
<path d="M430.5 470 A6.5 6.5 0 0 1 437 463.5"/>
<path d="M467.5 470 A6.5 6.5 0 0 0 461 463.5"/>
</g>
<rect x="383" y="542.6" width="11.6" height="20" rx="1.5" fill="#0c0c0c" stroke="#f2f2f2" stroke-width="1.4"/>
<rect x="385" y="545" width="7.6" height="15.2" fill="#8a6a50"/>
<rect x="385" y="545" width="7.6" height="3.65" fill="#d8d8d4"/>
<rect x="385" y="556.55" width="7.6" height="3.65" fill="#d8d8d4"/>
<rect x="420.3" y="542.6" width="12" height="20" rx="1.5" fill="#0c0c0c" stroke="#f2f2f2" stroke-width="1.4"/>
<rect x="422.3" y="545" width="8" height="15.2" fill="#8a6a50"/>
<rect x="422.3" y="545" width="8" height="3.65" fill="#d8d8d4"/>
<rect x="422.3" y="556.55" width="8" height="3.65" fill="#d8d8d4"/>
<rect x="326" y="531.55" width="9" height="2.2" fill="#c8c8c4"/>
<rect x="326" y="536.6" width="9" height="2.2" fill="#c8c8c4"/>
<rect x="326" y="541.65" width="9" height="2.2" fill="#c8c8c4"/>
<rect x="326" y="546.7" width="9" height="2.2" fill="#c8c8c4"/>
<rect x="326" y="551.75" width="9" height="2.2" fill="#c8c8c4"/>
<rect x="325" y="521.54" width="9" height="7.07" fill="#9a9a96"/>
<rect x="325" y="556.89" width="9" height="7.07" fill="#9a9a96"/>
<ellipse cx="308.9" cy="518" rx="6" ry="3.2" fill="#b8b8b4"/>
<ellipse cx="308.9" cy="567.5" rx="6" ry="3.2" fill="#b8b8b4"/>
<rect x="290.8" y="517.5" width="36.2" height="50.5" rx="2.5" fill="url(#gUsb)"/>
<rect x="292.3" y="519" width="33.2" height="47.5" rx="2" fill="none" stroke="#f4f4f2" stroke-width="1"/>
<rect x="300.94" y="526.09" width="8.69" height="5.55" rx="1" fill="#2a2a2a"/>
<rect x="300.94" y="553.86" width="8.69" height="5.55" rx="1" fill="#2a2a2a"/>
<rect x="317.59" y="531.64" width="5.79" height="6.06" rx="0.5" fill="#555"/>
<rect x="317.59" y="547.8" width="5.79" height="6.06" rx="0.5" fill="#555"/>
<circle cx="337.8" cy="534" r="1" fill="#fff"/>
<text x="349.8" y="558.5" font-size="12" fill="#fff" font-weight="bold" textLength="34" lengthAdjust="spacingAndGlyphs" transform="rotate(-90 349.8 558.5)">Touch</text>
<rect x="324" y="612.8" width="29.8" height="30" rx="1" fill="#0c0c0c" stroke="#f2f2f2" stroke-width="1.6"/>
<rect x="327.5" y="616.3" width="22.8" height="23" rx="5" fill="#4e4e4e"/>
<rect x="329.5" y="618.3" width="18.8" height="19" rx="4" fill="#3a3a3a"/>
<text x="338.9" y="631.76" font-size="11" fill="#7e7e7e" text-anchor="middle" transform="rotate(-90 338.9 627.8)">C</text>
<circle cx="337" cy="631.8" r="1.6" fill="#8a8a8a"/>
<rect x="364.97" y="617.3" width="2.4" height="5.5" fill="#dadad6"/>
<rect x="364.97" y="630.8" width="2.4" height="5.5" fill="#dadad6"/>
<rect x="369.3" y="617.3" width="2.4" height="5.5" fill="#dadad6"/>
<rect x="369.3" y="630.8" width="2.4" height="5.5" fill="#dadad6"/>
<rect x="373.63" y="617.3" width="2.4" height="5.5" fill="#dadad6"/>
<rect x="373.63" y="630.8" width="2.4" height="5.5" fill="#dadad6"/>
<rect x="364" y="621.8" width="13" height="10" rx="1" fill="#151515"/>
<rect x="383" y="613.8" width="23.5" height="13" rx="1.5" fill="#0c0c0c" stroke="#f2f2f2" stroke-width="1.4"/>
<rect x="385.4" y="615.8" width="18.7" height="9" fill="#8a6a50"/>
<rect x="385.4" y="615.8" width="4.49" height="9" fill="#d8d8d4"/>
<rect x="399.61" y="615.8" width="4.49" height="9" fill="#d8d8d4"/>
<rect x="324" y="667.6" width="29.8" height="30" rx="1" fill="#0c0c0c" stroke="#f2f2f2" stroke-width="1.6"/>
<rect x="327.5" y="671.1" width="22.8" height="23" rx="5" fill="#4e4e4e"/>
<rect x="329.5" y="673.1" width="18.8" height="19" rx="4" fill="#3a3a3a"/>
<text x="338.9" y="686.56" font-size="11" fill="#7e7e7e" text-anchor="middle" transform="rotate(-90 338.9 682.6)">C</text>
<circle cx="337" cy="686.6" r="1.6" fill="#8a8a8a"/>
<rect x="364.97" y="672.1" width="2.4" height="5.5" fill="#dadad6"/>
<rect x="364.97" y="685.6" width="2.4" height="5.5" fill="#dadad6"/>
<rect x="369.3" y="672.1" width="2.4" height="5.5" fill="#dadad6"/>
<rect x="369.3" y="685.6" width="2.4" height="5.5" fill="#dadad6"/>
<rect x="373.63" y="672.1" width="2.4" height="5.5" fill="#dadad6"/>
<rect x="373.63" y="685.6" width="2.4" height="5.5" fill="#dadad6"/>
<rect x="364" y="676.6" width="13" height="10" rx="1" fill="#151515"/>
<rect x="383" y="668.6" width="23.5" height="13" rx="1.5" fill="#0c0c0c" stroke="#f2f2f2" stroke-width="1.4"/>
<rect x="385.4" y="670.6" width="18.7" height="9" fill="#8a6a50"/>
<rect x="385.4" y="670.6" width="4.49" height="9" fill="#d8d8d4"/>
<rect x="399.61" y="670.6" width="4.49" height="9" fill="#d8d8d4"/>
<rect x="388.4" y="631.5" width="13.2" height="5" fill="#5e5e5c"/>
<rect x="388.4" y="631.5" width="3.17" height="5" fill="#d8d8d4"/>
<rect x="398.43" y="631.5" width="3.17" height="5" fill="#d8d8d4"/>
<rect x="326" y="646.5" width="23" height="13" rx="1.5" fill="#0c0c0c" stroke="#f2f2f2" stroke-width="1.4"/>
<rect x="328.4" y="648.5" width="18.2" height="9" fill="#7c6a5c"/>
<rect x="328.4" y="648.5" width="4.37" height="9" fill="#d8d8d4"/>
<rect x="342.23" y="648.5" width="4.37" height="9" fill="#d8d8d4"/>
<rect x="358.5" y="648" width="19.5" height="10" rx="1.5" fill="#0c0c0c" stroke="#f2f2f2" stroke-width="1.4"/>
<rect x="360.9" y="650" width="14.7" height="6" fill="#5e5e5c"/>
<rect x="360.9" y="650" width="3.53" height="6" fill="#d8d8d4"/>
<rect x="372.07" y="650" width="3.53" height="6" fill="#d8d8d4"/>
<rect x="384" y="646.5" width="22" height="12" rx="1.5" fill="#0c0c0c" stroke="#f2f2f2" stroke-width="1.4"/>
<rect x="386.4" y="648.5" width="17.2" height="8" fill="#6c625a"/>
<rect x="386.4" y="648.5" width="4.13" height="8" fill="#d8d8d4"/>
<rect x="399.47" y="648.5" width="4.13" height="8" fill="#d8d8d4"/>
<rect x="385" y="683" width="20.5" height="10" rx="1.5" fill="#0c0c0c" stroke="#f2f2f2" stroke-width="1.4"/>
<rect x="387.4" y="685" width="15.7" height="6" fill="#5e5e5c"/>
<rect x="387.4" y="685" width="3.77" height="6" fill="#d8d8d4"/>
<rect x="399.33" y="685" width="3.77" height="6" fill="#d8d8d4"/>
<rect x="385" y="694.5" width="20.5" height="9.5" rx="1.5" fill="#0c0c0c" stroke="#f2f2f2" stroke-width="1.4"/>
<rect x="387.4" y="696.5" width="15.7" height="5.5" fill="#4c4c4a"/>
<rect x="387.4" y="696.5" width="3.77" height="5.5" fill="#d8d8d4"/>
<rect x="399.33" y="696.5" width="3.77" height="5.5" fill="#d8d8d4"/>
<rect x="385" y="705.5" width="20.5" height="7" rx="1.5" fill="#0c0c0c" stroke="#f2f2f2" stroke-width="1.4"/>
<rect x="387.4" y="707.5" width="15.7" height="3" fill="#5e5e5c"/>
<rect x="387.4" y="707.5" width="3.77" height="3" fill="#d8d8d4"/>
<rect x="399.33" y="707.5" width="3.77" height="3" fill="#d8d8d4"/>
<rect x="326" y="701" width="23" height="13" rx="1.5" fill="#0c0c0c" stroke="#f2f2f2" stroke-width="1.4"/>
<rect x="328.4" y="703" width="18.2" height="9" fill="#7c6a5c"/>
<rect x="328.4" y="703" width="4.37" height="9" fill="#d8d8d4"/>
<rect x="342.23" y="703" width="4.37" height="9" fill="#d8d8d4"/>
<rect x="358.5" y="702" width="19.5" height="10" rx="1.5" fill="#0c0c0c" stroke="#f2f2f2" stroke-width="1.4"/>
<rect x="360.9" y="704" width="14.7" height="6" fill="#5e5e5c"/>
<rect x="360.9" y="704" width="3.53" height="6" fill="#d8d8d4"/>
<rect x="372.07" y="704" width="3.53" height="6" fill="#d8d8d4"/>
<rect x="610.2" y="414" width="1.6" height="16" fill="#b4b4b0"/>
<rect x="613.32" y="414" width="1.6" height="16" fill="#b4b4b0"/>
<rect x="616.44" y="414" width="1.6" height="16" fill="#b4b4b0"/>
<rect x="619.56" y="414" width="1.6" height="16" fill="#b4b4b0"/>
<rect x="622.68" y="414" width="1.6" height="16" fill="#b4b4b0"/>
<rect x="625.8" y="414" width="1.6" height="16" fill="#b4b4b0"/>
<rect x="628.92" y="414" width="1.6" height="16" fill="#b4b4b0"/>
<rect x="632.04" y="414" width="1.6" height="16" fill="#b4b4b0"/>
<rect x="635.16" y="414" width="1.6" height="16" fill="#b4b4b0"/>
<rect x="638.28" y="414" width="1.6" height="16" fill="#b4b4b0"/>
<rect x="641.4" y="414" width="1.6" height="16" fill="#b4b4b0"/>
<rect x="644.52" y="414" width="1.6" height="16" fill="#b4b4b0"/>
<rect x="647.64" y="414" width="1.6" height="16" fill="#b4b4b0"/>
<rect x="650.76" y="414" width="1.6" height="16" fill="#b4b4b0"/>
<rect x="653.88" y="414" width="1.6" height="16" fill="#b4b4b0"/>
<rect x="657" y="414" width="1.6" height="16" fill="#b4b4b0"/>
<rect x="660.12" y="414" width="1.6" height="16" fill="#b4b4b0"/>
<rect x="663.24" y="414" width="1.6" height="16" fill="#b4b4b0"/>
<rect x="666.36" y="414" width="1.6" height="16" fill="#b4b4b0"/>
<ellipse cx="590.5" cy="378" rx="3" ry="7" fill="#c8c8c4"/>
<ellipse cx="687.5" cy="378" rx="3" ry="7" fill="#c8c8c4"/>
<rect x="589" y="400" width="100" height="28" rx="2" fill="#2a2a2a"/>
<rect x="589" y="404" width="18" height="24" rx="1.5" fill="#a6a39c"/>
<rect x="671" y="404" width="18" height="24" rx="1.5" fill="#a6a39c"/>
<rect x="594" y="416" width="12" height="8" fill="#2e2e2e"/>
<rect x="672" y="416" width="12" height="8" fill="#2e2e2e"/>
<rect x="589.8" y="404.8" width="98.4" height="22.4" rx="2" fill="none" stroke="#d8d4cc" stroke-width="1.4"/>
<rect x="591.5" y="350.5" width="95" height="61.5" rx="3" fill="url(#gHdmiC)" filter="url(#fGrain)"/>
<rect x="592.5" y="351.5" width="93" height="59.5" rx="3" fill="none" stroke="#d2cec6" stroke-width="1.6"/>
<path d="M593.5 396 L684.5 396 L668.5 420 L609.5 420 Z" fill="#8e8a82"/>
<rect x="609" y="417" width="60" height="4" fill="#77736c"/>
<rect x="603" y="359" width="16" height="34" rx="4" fill="#e8e5de"/>
<rect x="605.2" y="359" width="11.6" height="31.5" rx="3" fill="#4a4640"/>
<rect x="607.8" y="359" width="6.4" height="27" rx="2" fill="#8e8a82"/>
<rect x="660" y="359" width="16" height="34" rx="4" fill="#e8e5de"/>
<rect x="662.2" y="359" width="11.6" height="31.5" rx="3" fill="#4a4640"/>
<rect x="664.8" y="359" width="6.4" height="27" rx="2" fill="#8e8a82"/>
<rect x="596" y="396" width="10" height="7" rx="1" fill="#c9c5bd"/>
<rect x="672" y="396" width="10" height="7" rx="1" fill="#c9c5bd"/>
<rect x="513.8" y="407" width="21.3" height="22.5" rx="1.5" fill="#0c0c0c" stroke="#f2f2f2" stroke-width="1.4"/>
<rect x="516.2" y="409" width="16.5" height="7.85" fill="#5e5e5c"/>
<rect x="516.2" y="409" width="3.96" height="7.85" fill="#d8d8d4"/>
<rect x="528.74" y="409" width="3.96" height="7.85" fill="#d8d8d4"/>
<line x1="513.8" y1="418.25" x2="535.1" y2="418.25" stroke="#f2f2f2" stroke-width="1.1"/>
<rect x="516.2" y="419.65" width="16.5" height="7.85" fill="#8a6a50"/>
<rect x="516.2" y="419.65" width="3.96" height="7.85" fill="#d8d8d4"/>
<rect x="528.74" y="419.65" width="3.96" height="7.85" fill="#d8d8d4"/>
<rect x="513.8" y="431.5" width="21.3" height="12.5" rx="1.5" fill="#0c0c0c" stroke="#f2f2f2" stroke-width="1.4"/>
<rect x="516.2" y="433.5" width="16.5" height="8.5" fill="#8a6a50"/>
<rect x="516.2" y="433.5" width="3.96" height="8.5" fill="#d8d8d4"/>
<rect x="528.74" y="433.5" width="3.96" height="8.5" fill="#d8d8d4"/>
<rect x="516.9" y="448" width="15.2" height="7.4" fill="#4c4c4a"/>
<rect x="516.9" y="448" width="3.65" height="7.4" fill="#d8d8d4"/>
<rect x="528.45" y="448" width="3.65" height="7.4" fill="#d8d8d4"/>
<rect x="516.9" y="458.2" width="15.2" height="7.4" fill="#6c625a"/>
<rect x="516.9" y="458.2" width="3.65" height="7.4" fill="#d8d8d4"/>
<rect x="528.45" y="458.2" width="3.65" height="7.4" fill="#d8d8d4"/>
<rect x="516.9" y="468.4" width="15.2" height="7.4" fill="#946b4c"/>
<rect x="516.9" y="468.4" width="3.65" height="7.4" fill="#d8d8d4"/>
<rect x="528.45" y="468.4" width="3.65" height="7.4" fill="#d8d8d4"/>
<rect x="516.9" y="478.6" width="15.2" height="7.4" fill="#7c6a5c"/>
<rect x="516.9" y="478.6" width="3.65" height="7.4" fill="#d8d8d4"/>
<rect x="528.45" y="478.6" width="3.65" height="7.4" fill="#d8d8d4"/>
<rect x="513.8" y="489.5" width="21.3" height="20" rx="1.5" fill="#0c0c0c" stroke="#f2f2f2" stroke-width="1.4"/>
<rect x="516.2" y="491.5" width="16.5" height="6.6" fill="#8a6a50"/>
<rect x="516.2" y="491.5" width="3.96" height="6.6" fill="#d8d8d4"/>
<rect x="528.74" y="491.5" width="3.96" height="6.6" fill="#d8d8d4"/>
<line x1="513.8" y1="499.5" x2="535.1" y2="499.5" stroke="#f2f2f2" stroke-width="1.1"/>
<rect x="516.2" y="500.9" width="16.5" height="6.6" fill="#4c4c4a"/>
<rect x="516.2" y="500.9" width="3.96" height="6.6" fill="#d8d8d4"/>
<rect x="528.74" y="500.9" width="3.96" height="6.6" fill="#d8d8d4"/>
<rect x="513.8" y="431.5" width="21.3" height="78" rx="2" fill="none" stroke="#f2f2f2" stroke-width="1.3"/>
<rect x="555" y="436.4" width="19.9" height="10.6" rx="1.5" fill="#0c0c0c" stroke="#f2f2f2" stroke-width="1.4"/>
<rect x="557.4" y="438.4" width="15.1" height="6.6" fill="#5e5e5c"/>
<rect x="557.4" y="438.4" width="3.62" height="6.6" fill="#d8d8d4"/>
<rect x="568.88" y="438.4" width="3.62" height="6.6" fill="#d8d8d4"/>
<rect x="545.4" y="448.5" width="9.6" height="16.1" rx="1.5" fill="#0c0c0c" stroke="#f2f2f2" stroke-width="1.4"/>
<rect x="547.4" y="450.9" width="5.6" height="11.3" fill="#5e5e5c"/>
<rect x="547.4" y="450.9" width="5.6" height="2.71" fill="#d8d8d4"/>
<rect x="547.4" y="459.49" width="5.6" height="2.71" fill="#d8d8d4"/>
<rect x="556.5" y="448.5" width="18.4" height="7.5" rx="1.5" fill="#0c0c0c" stroke="#f2f2f2" stroke-width="1.4"/>
<rect x="558.9" y="450.5" width="13.6" height="3.5" fill="#6c625a"/>
<rect x="558.9" y="450.5" width="3.26" height="3.5" fill="#d8d8d4"/>
<rect x="569.24" y="450.5" width="3.26" height="3.5" fill="#d8d8d4"/>
<rect x="556.5" y="457.5" width="18.4" height="7.1" rx="1.5" fill="#0c0c0c" stroke="#f2f2f2" stroke-width="1.4"/>
<rect x="558.9" y="459.5" width="13.6" height="3.1" fill="#4c4c4a"/>
<rect x="558.9" y="459.5" width="3.26" height="3.1" fill="#d8d8d4"/>
<rect x="569.24" y="459.5" width="3.26" height="3.1" fill="#d8d8d4"/>
<rect x="537.2" y="471" width="11" height="3" fill="#e0e0dc"/>
<rect x="572.6" y="471" width="11" height="3" fill="#e0e0dc"/>
<rect x="537.2" y="479" width="11" height="3" fill="#e0e0dc"/>
<rect x="572.6" y="479" width="11" height="3" fill="#e0e0dc"/>
<rect x="537.2" y="487" width="11" height="3" fill="#e0e0dc"/>
<rect x="572.6" y="487" width="11" height="3" fill="#e0e0dc"/>
<rect x="537.2" y="495" width="11" height="3" fill="#e0e0dc"/>
<rect x="572.6" y="495" width="11" height="3" fill="#e0e0dc"/>
<rect x="547.2" y="468.5" width="26.4" height="32" rx="1" fill="#151515"/>
<rect x="587.2" y="454.9" width="22.3" height="26.4" rx="2" fill="#0c0c0c" stroke="#f2f2f2" stroke-width="1.4"/>
<rect x="590.5" y="458.5" width="15.5" height="19" rx="1" fill="#8e8e8c"/>
<rect x="595.5" y="464" width="5.5" height="7" fill="#a89088"/>
<circle cx="586.5" cy="454" r="1" fill="#fff"/>
<rect x="609.5" y="460.8" width="64.1" height="20.5" rx="1.5" fill="#0c0c0c" stroke="#f2f2f2" stroke-width="1.4"/>
<rect x="611.5" y="463.2" width="6.19" height="15.7" fill="#5e5e5c"/>
<rect x="611.5" y="463.2" width="6.19" height="3.77" fill="#d8d8d4"/>
<rect x="611.5" y="475.13" width="6.19" height="3.77" fill="#d8d8d4"/>
<line x1="619.09" y1="460.8" x2="619.09" y2="481.3" stroke="#f2f2f2" stroke-width="1.1"/>
<rect x="620.49" y="463.2" width="6.19" height="15.7" fill="#8a6a50"/>
<rect x="620.49" y="463.2" width="6.19" height="3.77" fill="#d8d8d4"/>
<rect x="620.49" y="475.13" width="6.19" height="3.77" fill="#d8d8d4"/>
<line x1="628.07" y1="460.8" x2="628.07" y2="481.3" stroke="#f2f2f2" stroke-width="1.1"/>
<rect x="629.47" y="463.2" width="6.19" height="15.7" fill="#4c4c4a"/>
<rect x="629.47" y="463.2" width="6.19" height="3.77" fill="#d8d8d4"/>
<rect x="629.47" y="475.13" width="6.19" height="3.77" fill="#d8d8d4"/>
<line x1="637.06" y1="460.8" x2="637.06" y2="481.3" stroke="#f2f2f2" stroke-width="1.1"/>
<rect x="638.46" y="463.2" width="6.19" height="15.7" fill="#6c625a"/>
<rect x="638.46" y="463.2" width="6.19" height="3.77" fill="#d8d8d4"/>
<rect x="638.46" y="475.13" width="6.19" height="3.77" fill="#d8d8d4"/>
<line x1="646.04" y1="460.8" x2="646.04" y2="481.3" stroke="#f2f2f2" stroke-width="1.1"/>
<rect x="647.44" y="463.2" width="6.19" height="15.7" fill="#946b4c"/>
<rect x="647.44" y="463.2" width="6.19" height="3.77" fill="#d8d8d4"/>
<rect x="647.44" y="475.13" width="6.19" height="3.77" fill="#d8d8d4"/>
<line x1="655.03" y1="460.8" x2="655.03" y2="481.3" stroke="#f2f2f2" stroke-width="1.1"/>
<rect x="656.43" y="463.2" width="6.19" height="15.7" fill="#7c6a5c"/>
<rect x="656.43" y="463.2" width="6.19" height="3.77" fill="#d8d8d4"/>
<rect x="656.43" y="475.13" width="6.19" height="3.77" fill="#d8d8d4"/>
<line x1="664.01" y1="460.8" x2="664.01" y2="481.3" stroke="#f2f2f2" stroke-width="1.1"/>
<rect x="665.41" y="463.2" width="6.19" height="15.7" fill="#5e5e5c"/>
<rect x="665.41" y="463.2" width="6.19" height="3.77" fill="#d8d8d4"/>
<rect x="665.41" y="475.13" width="6.19" height="3.77" fill="#d8d8d4"/>
<rect x="586.4" y="485.1" width="128.2" height="21.8" rx="1.5" fill="#0c0c0c" stroke="#f2f2f2" stroke-width="1.4"/>
<rect x="588.4" y="487.5" width="6.97" height="17" fill="#7c6a5c"/>
<rect x="588.4" y="487.5" width="6.97" height="4.08" fill="#d8d8d4"/>
<rect x="588.4" y="500.42" width="6.97" height="4.08" fill="#d8d8d4"/>
<line x1="596.77" y1="485.1" x2="596.77" y2="506.9" stroke="#f2f2f2" stroke-width="1.1"/>
<rect x="598.17" y="487.5" width="6.97" height="17" fill="#5e5e5c"/>
<rect x="598.17" y="487.5" width="6.97" height="4.08" fill="#d8d8d4"/>
<rect x="598.17" y="500.42" width="6.97" height="4.08" fill="#d8d8d4"/>
<line x1="606.54" y1="485.1" x2="606.54" y2="506.9" stroke="#f2f2f2" stroke-width="1.1"/>
<rect x="607.94" y="487.5" width="6.97" height="17" fill="#8a6a50"/>
<rect x="607.94" y="487.5" width="6.97" height="4.08" fill="#d8d8d4"/>
<rect x="607.94" y="500.42" width="6.97" height="4.08" fill="#d8d8d4"/>
<line x1="616.31" y1="485.1" x2="616.31" y2="506.9" stroke="#f2f2f2" stroke-width="1.1"/>
<rect x="617.71" y="487.5" width="6.97" height="17" fill="#4c4c4a"/>
<rect x="617.71" y="487.5" width="6.97" height="4.08" fill="#d8d8d4"/>
<rect x="617.71" y="500.42" width="6.97" height="4.08" fill="#d8d8d4"/>
<line x1="626.08" y1="485.1" x2="626.08" y2="506.9" stroke="#f2f2f2" stroke-width="1.1"/>
<rect x="627.48" y="487.5" width="6.97" height="17" fill="#6c625a"/>
<rect x="627.48" y="487.5" width="6.97" height="4.08" fill="#d8d8d4"/>
<rect x="627.48" y="500.42" width="6.97" height="4.08" fill="#d8d8d4"/>
<line x1="635.85" y1="485.1" x2="635.85" y2="506.9" stroke="#f2f2f2" stroke-width="1.1"/>
<rect x="637.25" y="487.5" width="6.97" height="17" fill="#946b4c"/>
<rect x="637.25" y="487.5" width="6.97" height="4.08" fill="#d8d8d4"/>
<rect x="637.25" y="500.42" width="6.97" height="4.08" fill="#d8d8d4"/>
<line x1="645.62" y1="485.1" x2="645.62" y2="506.9" stroke="#f2f2f2" stroke-width="1.1"/>
<rect x="647.02" y="487.5" width="6.97" height="17" fill="#7c6a5c"/>
<rect x="647.02" y="487.5" width="6.97" height="4.08" fill="#d8d8d4"/>
<rect x="647.02" y="500.42" width="6.97" height="4.08" fill="#d8d8d4"/>
<line x1="655.38" y1="485.1" x2="655.38" y2="506.9" stroke="#f2f2f2" stroke-width="1.1"/>
<rect x="656.78" y="487.5" width="6.97" height="17" fill="#5e5e5c"/>
<rect x="656.78" y="487.5" width="6.97" height="4.08" fill="#d8d8d4"/>
<rect x="656.78" y="500.42" width="6.97" height="4.08" fill="#d8d8d4"/>
<line x1="665.15" y1="485.1" x2="665.15" y2="506.9" stroke="#f2f2f2" stroke-width="1.1"/>
<rect x="666.55" y="487.5" width="6.97" height="17" fill="#8a6a50"/>
<rect x="666.55" y="487.5" width="6.97" height="4.08" fill="#d8d8d4"/>
<rect x="666.55" y="500.42" width="6.97" height="4.08" fill="#d8d8d4"/>
<line x1="674.92" y1="485.1" x2="674.92" y2="506.9" stroke="#f2f2f2" stroke-width="1.1"/>
<rect x="676.32" y="487.5" width="6.97" height="17" fill="#4c4c4a"/>
<rect x="676.32" y="487.5" width="6.97" height="4.08" fill="#d8d8d4"/>
<rect x="676.32" y="500.42" width="6.97" height="4.08" fill="#d8d8d4"/>
<line x1="684.69" y1="485.1" x2="684.69" y2="506.9" stroke="#f2f2f2" stroke-width="1.1"/>
<rect x="686.09" y="487.5" width="6.97" height="17" fill="#6c625a"/>
<rect x="686.09" y="487.5" width="6.97" height="4.08" fill="#d8d8d4"/>
<rect x="686.09" y="500.42" width="6.97" height="4.08" fill="#d8d8d4"/>
<line x1="694.46" y1="485.1" x2="694.46" y2="506.9" stroke="#f2f2f2" stroke-width="1.1"/>
<rect x="695.86" y="487.5" width="6.97" height="17" fill="#946b4c"/>
<rect x="695.86" y="487.5" width="6.97" height="4.08" fill="#d8d8d4"/>
<rect x="695.86" y="500.42" width="6.97" height="4.08" fill="#d8d8d4"/>
<line x1="704.23" y1="485.1" x2="704.23" y2="506.9" stroke="#f2f2f2" stroke-width="1.1"/>
<rect x="705.63" y="487.5" width="6.97" height="17" fill="#7c6a5c"/>
<rect x="705.63" y="487.5" width="6.97" height="4.08" fill="#d8d8d4"/>
<rect x="705.63" y="500.42" width="6.97" height="4.08" fill="#d8d8d4"/>
<rect x="679.75" y="459.5" width="3.5" height="4.5" fill="#e0e0dc"/>
<rect x="679.75" y="477" width="3.5" height="4.5" fill="#e0e0dc"/>
<rect x="686.75" y="459.5" width="3.5" height="4.5" fill="#e0e0dc"/>
<rect x="686.75" y="477" width="3.5" height="4.5" fill="#e0e0dc"/>
<rect x="678" y="463" width="14" height="15" rx="1" fill="#151515"/>
<rect x="696.7" y="463.3" width="19.3" height="8.7" rx="1.5" fill="#0c0c0c" stroke="#f2f2f2" stroke-width="1.4"/>
<rect x="699.1" y="465.3" width="14.5" height="4.7" fill="#5e5e5c"/>
<rect x="699.1" y="465.3" width="3.48" height="4.7" fill="#d8d8d4"/>
<rect x="710.12" y="465.3" width="3.48" height="4.7" fill="#d8d8d4"/>
<rect x="696.7" y="473.5" width="19.3" height="9.1" rx="1.5" fill="#0c0c0c" stroke="#f2f2f2" stroke-width="1.4"/>
<rect x="699.1" y="475.5" width="14.5" height="5.1" fill="#946b4c"/>
<rect x="699.1" y="475.5" width="3.48" height="5.1" fill="#d8d8d4"/>
<rect x="710.12" y="475.5" width="3.48" height="5.1" fill="#d8d8d4"/>
<text x="517" y="517.4" font-size="5.8" fill="#fff" font-weight="bold" transform="rotate(180 521.5 515)">50</text>
<text x="675.5" y="517.6" font-size="5.6" fill="#fff" font-weight="bold">1</text>
<path d="M681 521.5 L689 525.5 L681 529.5" fill="none" stroke="#fff" stroke-width="1.5"/>
<rect x="499.4" y="679.7" width="197.5" height="31.9" rx="1" fill="#2c2c2c"/>
<rect x="501" y="681" width="9.5" height="29" fill="#4a4a4a"/>
<rect x="689.5" y="681" width="6.5" height="29" fill="#4a4a4a"/>
<path d="M518.8 557 L678.7 557 L678.7 655 L689.2 667.3 L689.2 709.4 L511 709.4 L511 662 L518.8 655 Z" fill="#e89c24"/>
<path d="M518.8 557 L678.7 557 L678.7 655 L689.2 667.3 L689.2 709.4 L511 709.4 L511 662 L518.8 655 Z" fill="url(#pFlex)"/>
<path d="M518.8 590 L678.7 578 L678.7 612 L518.8 636 Z" fill="#7a3c00" opacity="0.28"/>
<path d="M511 664 L545 664 L552 672 L552 709 L511 709 Z" fill="#eaa024"/>
<path d="M616 662 L630 662 L634 672 L646 709 L608 709 L608 690 L616 682 Z" fill="#eaa024"/>
<path d="M521 560 L521 655 M524 560 L524 600" stroke="#f0b040" stroke-width="1.6" fill="none"/>
<g fill="none" stroke="#8a4a08" stroke-width="1">
<path d="M618 655 L632 676 L643 709"/>
<path d="M626.06 655 L640.06 675.38 L651.06 709"/>
<path d="M634.12 655 L648.12 674.76 L659.12 709"/>
<path d="M642.18 655 L656.18 674.14 L667.18 709"/>
<path d="M650.24 655 L664.24 673.52 L675.24 709"/>
<path d="M658.3 655 L672.3 672.9 L683.3 709"/>
<path d="M666.36 655 L680.36 672.28 L691.36 709"/>
<path d="M560 660 L560 672 L572 684 L574 709"/>
<path d="M566.16 660 L566.16 674.8 L578.16 686.8 L580.16 709"/>
<path d="M572.32 660 L572.32 677.6 L584.32 689.6 L586.32 709"/>
<path d="M578.48 660 L578.48 680.4 L590.48 692.4 L592.48 709"/>
<path d="M584.64 660 L584.64 683.2 L596.64 695.2 L598.64 709"/>
<path d="M590.8 660 L590.8 686 L602.8 698 L604.8 709"/>
</g>
<rect x="521.8" y="520.8" width="1.4" height="10.2" fill="#bdbdb9"/>
<rect x="524.43" y="520.8" width="1.4" height="10.2" fill="#bdbdb9"/>
<rect x="527.06" y="520.8" width="1.4" height="10.2" fill="#bdbdb9"/>
<rect x="529.69" y="520.8" width="1.4" height="10.2" fill="#bdbdb9"/>
<rect x="532.32" y="520.8" width="1.4" height="10.2" fill="#bdbdb9"/>
<rect x="534.95" y="520.8" width="1.4" height="10.2" fill="#bdbdb9"/>
<rect x="537.58" y="520.8" width="1.4" height="10.2" fill="#bdbdb9"/>
<rect x="540.21" y="520.8" width="1.4" height="10.2" fill="#bdbdb9"/>
<rect x="542.84" y="520.8" width="1.4" height="10.2" fill="#bdbdb9"/>
<rect x="545.47" y="520.8" width="1.4" height="10.2" fill="#bdbdb9"/>
<rect x="548.11" y="520.8" width="1.4" height="10.2" fill="#bdbdb9"/>
<rect x="550.74" y="520.8" width="1.4" height="10.2" fill="#bdbdb9"/>
<rect x="553.37" y="520.8" width="1.4" height="10.2" fill="#bdbdb9"/>
<rect x="556" y="520.8" width="1.4" height="10.2" fill="#bdbdb9"/>
<rect x="558.63" y="520.8" width="1.4" height="10.2" fill="#bdbdb9"/>
<rect x="561.26" y="520.8" width="1.4" height="10.2" fill="#bdbdb9"/>
<rect x="563.89" y="520.8" width="1.4" height="10.2" fill="#bdbdb9"/>
<rect x="566.52" y="520.8" width="1.4" height="10.2" fill="#bdbdb9"/>
<rect x="569.15" y="520.8" width="1.4" height="10.2" fill="#bdbdb9"/>
<rect x="571.78" y="520.8" width="1.4" height="10.2" fill="#bdbdb9"/>
<rect x="574.41" y="520.8" width="1.4" height="10.2" fill="#bdbdb9"/>
<rect x="577.04" y="520.8" width="1.4" height="10.2" fill="#bdbdb9"/>
<rect x="579.67" y="520.8" width="1.4" height="10.2" fill="#bdbdb9"/>
<rect x="582.3" y="520.8" width="1.4" height="10.2" fill="#bdbdb9"/>
<rect x="584.93" y="520.8" width="1.4" height="10.2" fill="#bdbdb9"/>
<rect x="587.56" y="520.8" width="1.4" height="10.2" fill="#bdbdb9"/>
<rect x="590.19" y="520.8" width="1.4" height="10.2" fill="#bdbdb9"/>
<rect x="592.82" y="520.8" width="1.4" height="10.2" fill="#bdbdb9"/>
<rect x="595.45" y="520.8" width="1.4" height="10.2" fill="#bdbdb9"/>
<rect x="598.08" y="520.8" width="1.4" height="10.2" fill="#bdbdb9"/>
<rect x="600.72" y="520.8" width="1.4" height="10.2" fill="#bdbdb9"/>
<rect x="603.35" y="520.8" width="1.4" height="10.2" fill="#bdbdb9"/>
<rect x="605.98" y="520.8" width="1.4" height="10.2" fill="#bdbdb9"/>
<rect x="608.61" y="520.8" width="1.4" height="10.2" fill="#bdbdb9"/>
<rect x="611.24" y="520.8" width="1.4" height="10.2" fill="#bdbdb9"/>
<rect x="613.87" y="520.8" width="1.4" height="10.2" fill="#bdbdb9"/>
<rect x="616.5" y="520.8" width="1.4" height="10.2" fill="#bdbdb9"/>
<rect x="619.13" y="520.8" width="1.4" height="10.2" fill="#bdbdb9"/>
<rect x="621.76" y="520.8" width="1.4" height="10.2" fill="#bdbdb9"/>
<rect x="624.39" y="520.8" width="1.4" height="10.2" fill="#bdbdb9"/>
<rect x="627.02" y="520.8" width="1.4" height="10.2" fill="#bdbdb9"/>
<rect x="629.65" y="520.8" width="1.4" height="10.2" fill="#bdbdb9"/>
<rect x="632.28" y="520.8" width="1.4" height="10.2" fill="#bdbdb9"/>
<rect x="634.91" y="520.8" width="1.4" height="10.2" fill="#bdbdb9"/>
<rect x="637.54" y="520.8" width="1.4" height="10.2" fill="#bdbdb9"/>
<rect x="640.17" y="520.8" width="1.4" height="10.2" fill="#bdbdb9"/>
<rect x="642.8" y="520.8" width="1.4" height="10.2" fill="#bdbdb9"/>
<rect x="645.43" y="520.8" width="1.4" height="10.2" fill="#bdbdb9"/>
<rect x="648.06" y="520.8" width="1.4" height="10.2" fill="#bdbdb9"/>
<rect x="650.69" y="520.8" width="1.4" height="10.2" fill="#bdbdb9"/>
<rect x="653.33" y="520.8" width="1.4" height="10.2" fill="#bdbdb9"/>
<rect x="655.96" y="520.8" width="1.4" height="10.2" fill="#bdbdb9"/>
<rect x="658.59" y="520.8" width="1.4" height="10.2" fill="#bdbdb9"/>
<rect x="661.22" y="520.8" width="1.4" height="10.2" fill="#bdbdb9"/>
<rect x="663.85" y="520.8" width="1.4" height="10.2" fill="#bdbdb9"/>
<rect x="666.48" y="520.8" width="1.4" height="10.2" fill="#bdbdb9"/>
<rect x="669.11" y="520.8" width="1.4" height="10.2" fill="#bdbdb9"/>
<rect x="671.74" y="520.8" width="1.4" height="10.2" fill="#bdbdb9"/>
<rect x="674.37" y="520.8" width="1.4" height="10.2" fill="#bdbdb9"/>
<rect x="677" y="520.8" width="1.4" height="10.2" fill="#bdbdb9"/>
<rect x="501.4" y="528.9" width="17.4" height="19.1" rx="1.5" fill="#c4c4c2"/>
<rect x="680.5" y="528.9" width="16.8" height="19.1" rx="1.5" fill="#c4c4c2"/>
<rect x="504.5" y="532" width="11.5" height="13" fill="#9a9a98"/>
<rect x="683.5" y="532" width="11.5" height="13" fill="#9a9a98"/>
<rect x="501.4" y="547" width="17.4" height="15.4" rx="1.5" fill="#3c3c3c"/>
<rect x="680.5" y="547" width="16.8" height="15.4" rx="1.5" fill="#3c3c3c"/>
<rect x="518.3" y="529.6" width="162.7" height="25" fill="#e8e2d8"/>
<rect x="518.3" y="552" width="162.7" height="4.8" fill="#b4aea2"/>
<rect x="777.5" y="385.6" width="3.5" height="8.5" fill="#b8b8b4"/>
<rect x="785" y="385.6" width="3.5" height="8.5" fill="#b8b8b4"/>
<rect x="768.5" y="358.6" width="29.1" height="28" rx="1.5" fill="#efe6d2"/>
<rect x="770.5" y="360.6" width="25.1" height="21" rx="1" fill="#f7f0e0"/>
<rect x="768.5" y="381.6" width="29.1" height="5" rx="1" fill="#d9cfb8"/>
<rect x="727" y="412" width="13" height="3" fill="#e0e0dc"/>
<rect x="759.8" y="412" width="13" height="3" fill="#e0e0dc"/>
<rect x="727" y="420" width="13" height="3" fill="#e0e0dc"/>
<rect x="759.8" y="420" width="13" height="3" fill="#e0e0dc"/>
<rect x="727" y="428" width="13" height="3" fill="#e0e0dc"/>
<rect x="759.8" y="428" width="13" height="3" fill="#e0e0dc"/>
<rect x="727" y="436" width="13" height="3" fill="#e0e0dc"/>
<rect x="759.8" y="436" width="13" height="3" fill="#e0e0dc"/>
<rect x="739" y="409.5" width="21.8" height="32" rx="1" fill="#151515"/>
<rect x="745" y="407.8" width="5" height="2.2" fill="#d8d8d4"/>
<rect x="752" y="407.8" width="5" height="2.2" fill="#d8d8d4"/>
<rect x="782.6" y="408.2" width="20.4" height="37.2" rx="1.5" fill="#0c0c0c" stroke="#f2f2f2" stroke-width="1.4"/>
<rect x="785" y="410.2" width="15.6" height="6.2" fill="#7c6a5c"/>
<rect x="785" y="410.2" width="3.74" height="6.2" fill="#d8d8d4"/>
<rect x="796.86" y="410.2" width="3.74" height="6.2" fill="#d8d8d4"/>
<line x1="782.6" y1="417.8" x2="803" y2="417.8" stroke="#f2f2f2" stroke-width="1.1"/>
<rect x="785" y="419.2" width="15.6" height="6.2" fill="#5e5e5c"/>
<rect x="785" y="419.2" width="3.74" height="6.2" fill="#d8d8d4"/>
<rect x="796.86" y="419.2" width="3.74" height="6.2" fill="#d8d8d4"/>
<line x1="782.6" y1="426.8" x2="803" y2="426.8" stroke="#f2f2f2" stroke-width="1.1"/>
<rect x="785" y="428.2" width="15.6" height="6.2" fill="#8a6a50"/>
<rect x="785" y="428.2" width="3.74" height="6.2" fill="#d8d8d4"/>
<rect x="796.86" y="428.2" width="3.74" height="6.2" fill="#d8d8d4"/>
<line x1="782.6" y1="435.8" x2="803" y2="435.8" stroke="#f2f2f2" stroke-width="1.1"/>
<rect x="785" y="437.2" width="15.6" height="6.2" fill="#4c4c4a"/>
<rect x="785" y="437.2" width="3.74" height="6.2" fill="#d8d8d4"/>
<rect x="796.86" y="437.2" width="3.74" height="6.2" fill="#d8d8d4"/>
<rect x="724.9" y="446.7" width="91" height="20.5" rx="1.5" fill="#0c0c0c" stroke="#f2f2f2" stroke-width="1.4"/>
<rect x="726.9" y="449.1" width="6.18" height="15.7" fill="#8a6a50"/>
<rect x="726.9" y="449.1" width="6.18" height="3.77" fill="#d8d8d4"/>
<rect x="726.9" y="461.03" width="6.18" height="3.77" fill="#d8d8d4"/>
<line x1="734.48" y1="446.7" x2="734.48" y2="467.2" stroke="#f2f2f2" stroke-width="1.1"/>
<rect x="735.88" y="449.1" width="6.18" height="15.7" fill="#4c4c4a"/>
<rect x="735.88" y="449.1" width="6.18" height="3.77" fill="#d8d8d4"/>
<rect x="735.88" y="461.03" width="6.18" height="3.77" fill="#d8d8d4"/>
<line x1="743.46" y1="446.7" x2="743.46" y2="467.2" stroke="#f2f2f2" stroke-width="1.1"/>
<rect x="744.86" y="449.1" width="6.18" height="15.7" fill="#6c625a"/>
<rect x="744.86" y="449.1" width="6.18" height="3.77" fill="#d8d8d4"/>
<rect x="744.86" y="461.03" width="6.18" height="3.77" fill="#d8d8d4"/>
<line x1="752.44" y1="446.7" x2="752.44" y2="467.2" stroke="#f2f2f2" stroke-width="1.1"/>
<rect x="753.84" y="449.1" width="6.18" height="15.7" fill="#946b4c"/>
<rect x="753.84" y="449.1" width="6.18" height="3.77" fill="#d8d8d4"/>
<rect x="753.84" y="461.03" width="6.18" height="3.77" fill="#d8d8d4"/>
<line x1="761.42" y1="446.7" x2="761.42" y2="467.2" stroke="#f2f2f2" stroke-width="1.1"/>
<rect x="762.82" y="449.1" width="6.18" height="15.7" fill="#7c6a5c"/>
<rect x="762.82" y="449.1" width="6.18" height="3.77" fill="#d8d8d4"/>
<rect x="762.82" y="461.03" width="6.18" height="3.77" fill="#d8d8d4"/>
<line x1="770.4" y1="446.7" x2="770.4" y2="467.2" stroke="#f2f2f2" stroke-width="1.1"/>
<rect x="771.8" y="449.1" width="6.18" height="15.7" fill="#5e5e5c"/>
<rect x="771.8" y="449.1" width="6.18" height="3.77" fill="#d8d8d4"/>
<rect x="771.8" y="461.03" width="6.18" height="3.77" fill="#d8d8d4"/>
<line x1="779.38" y1="446.7" x2="779.38" y2="467.2" stroke="#f2f2f2" stroke-width="1.1"/>
<rect x="780.78" y="449.1" width="6.18" height="15.7" fill="#8a6a50"/>
<rect x="780.78" y="449.1" width="6.18" height="3.77" fill="#d8d8d4"/>
<rect x="780.78" y="461.03" width="6.18" height="3.77" fill="#d8d8d4"/>
<line x1="788.36" y1="446.7" x2="788.36" y2="467.2" stroke="#f2f2f2" stroke-width="1.1"/>
<rect x="789.76" y="449.1" width="6.18" height="15.7" fill="#4c4c4a"/>
<rect x="789.76" y="449.1" width="6.18" height="3.77" fill="#d8d8d4"/>
<rect x="789.76" y="461.03" width="6.18" height="3.77" fill="#d8d8d4"/>
<line x1="797.34" y1="446.7" x2="797.34" y2="467.2" stroke="#f2f2f2" stroke-width="1.1"/>
<rect x="798.74" y="449.1" width="6.18" height="15.7" fill="#6c625a"/>
<rect x="798.74" y="449.1" width="6.18" height="3.77" fill="#d8d8d4"/>
<rect x="798.74" y="461.03" width="6.18" height="3.77" fill="#d8d8d4"/>
<line x1="806.32" y1="446.7" x2="806.32" y2="467.2" stroke="#f2f2f2" stroke-width="1.1"/>
<rect x="807.72" y="449.1" width="6.18" height="15.7" fill="#946b4c"/>
<rect x="807.72" y="449.1" width="6.18" height="3.77" fill="#d8d8d4"/>
<rect x="807.72" y="461.03" width="6.18" height="3.77" fill="#d8d8d4"/>
<rect x="724.9" y="467.2" width="11.5" height="55.1" rx="1.5" fill="#0c0c0c" stroke="#f2f2f2" stroke-width="1.4"/>
<rect x="727.3" y="469.2" width="6.7" height="7.98" fill="#5e5e5c"/>
<rect x="727.3" y="469.2" width="1.61" height="7.98" fill="#d8d8d4"/>
<rect x="732.39" y="469.2" width="1.61" height="7.98" fill="#d8d8d4"/>
<line x1="724.9" y1="478.58" x2="736.4" y2="478.58" stroke="#f2f2f2" stroke-width="1.1"/>
<rect x="727.3" y="479.98" width="6.7" height="7.98" fill="#8a6a50"/>
<rect x="727.3" y="479.98" width="1.61" height="7.98" fill="#d8d8d4"/>
<rect x="732.39" y="479.98" width="1.61" height="7.98" fill="#d8d8d4"/>
<line x1="724.9" y1="489.36" x2="736.4" y2="489.36" stroke="#f2f2f2" stroke-width="1.1"/>
<rect x="727.3" y="490.76" width="6.7" height="7.98" fill="#4c4c4a"/>
<rect x="727.3" y="490.76" width="1.61" height="7.98" fill="#d8d8d4"/>
<rect x="732.39" y="490.76" width="1.61" height="7.98" fill="#d8d8d4"/>
<line x1="724.9" y1="500.14" x2="736.4" y2="500.14" stroke="#f2f2f2" stroke-width="1.1"/>
<rect x="727.3" y="501.54" width="6.7" height="7.98" fill="#6c625a"/>
<rect x="727.3" y="501.54" width="1.61" height="7.98" fill="#d8d8d4"/>
<rect x="732.39" y="501.54" width="1.61" height="7.98" fill="#d8d8d4"/>
<line x1="724.9" y1="510.92" x2="736.4" y2="510.92" stroke="#f2f2f2" stroke-width="1.1"/>
<rect x="727.3" y="512.32" width="6.7" height="7.98" fill="#946b4c"/>
<rect x="727.3" y="512.32" width="1.61" height="7.98" fill="#d8d8d4"/>
<rect x="732.39" y="512.32" width="1.61" height="7.98" fill="#d8d8d4"/>
<rect x="726" y="462" width="9.5" height="8" fill="#0c0c0c"/>
<rect x="727.2" y="458" width="7" height="18" fill="#8a6a50"/>
<rect x="727.2" y="458" width="7" height="4.32" fill="#d8d8d4"/>
<rect x="727.2" y="471.68" width="7" height="4.32" fill="#d8d8d4"/>
<rect x="754.58" y="479.8" width="3.6" height="11.5" fill="#dcdcd8"/>
<rect x="754.58" y="512.3" width="3.6" height="11.5" fill="#dcdcd8"/>
<rect x="763.74" y="479.8" width="3.6" height="11.5" fill="#dcdcd8"/>
<rect x="763.74" y="512.3" width="3.6" height="11.5" fill="#dcdcd8"/>
<rect x="772.89" y="479.8" width="3.6" height="11.5" fill="#dcdcd8"/>
<rect x="772.89" y="512.3" width="3.6" height="11.5" fill="#dcdcd8"/>
<rect x="782.05" y="479.8" width="3.6" height="11.5" fill="#dcdcd8"/>
<rect x="782.05" y="512.3" width="3.6" height="11.5" fill="#dcdcd8"/>
<rect x="791.21" y="479.8" width="3.6" height="11.5" fill="#dcdcd8"/>
<rect x="791.21" y="512.3" width="3.6" height="11.5" fill="#dcdcd8"/>
<rect x="800.36" y="479.8" width="3.6" height="11.5" fill="#dcdcd8"/>
<rect x="800.36" y="512.3" width="3.6" height="11.5" fill="#dcdcd8"/>
<rect x="809.52" y="479.8" width="3.6" height="11.5" fill="#dcdcd8"/>
<rect x="809.52" y="512.3" width="3.6" height="11.5" fill="#dcdcd8"/>
<rect x="751.8" y="490.3" width="64.1" height="23" rx="1" fill="#1b1b1b"/>
<circle cx="815.5" cy="483" r="1.6" fill="#fff"/>
<path d="M797 497 L807 497 L807 509 L799 509 A6 6 0 0 1 797 503 Z" fill="#4e4e4e"/>
<rect x="776" y="496" width="18" height="14" fill="#2c2c2c"/>
<path d="M723 543 L723 538.5 L727 538.5 M738 538.5 L742 538.5 L742 543" stroke="#f2f2f2" stroke-width="1.3" fill="none"/>
<rect x="729.5" y="536.5" width="6" height="5.5" fill="#d8d8d4"/>
<rect x="724.5" y="553" width="6" height="6" fill="#d8d8d4"/>
<rect x="735.5" y="553" width="6" height="6" fill="#d8d8d4"/>
<circle cx="722.5" cy="556" r="1" fill="#fff"/>
<rect x="748" y="536.4" width="16" height="33.1" rx="1.5" fill="#0c0c0c" stroke="#f2f2f2" stroke-width="1.4"/>
<rect x="750" y="538.8" width="12" height="28.3" fill="#8a6a50"/>
<rect x="750" y="538.8" width="12" height="6.79" fill="#d8d8d4"/>
<rect x="750" y="560.31" width="12" height="6.79" fill="#d8d8d4"/>
<rect x="765.5" y="536.4" width="10.5" height="22.6" rx="1.5" fill="#0c0c0c" stroke="#f2f2f2" stroke-width="1.4"/>
<rect x="767.5" y="538.8" width="6.5" height="17.8" fill="#5e5e5c"/>
<rect x="767.5" y="538.8" width="6.5" height="4.27" fill="#d8d8d4"/>
<rect x="767.5" y="552.33" width="6.5" height="4.27" fill="#d8d8d4"/>
<rect x="777.5" y="536.4" width="10.5" height="22.6" rx="1.5" fill="#0c0c0c" stroke="#f2f2f2" stroke-width="1.4"/>
<rect x="779.5" y="538.8" width="6.5" height="17.8" fill="#4c4c4a"/>
<rect x="779.5" y="538.8" width="6.5" height="4.27" fill="#d8d8d4"/>
<rect x="779.5" y="552.33" width="6.5" height="4.27" fill="#d8d8d4"/>
<rect x="789.5" y="536.4" width="10.5" height="22.6" rx="1.5" fill="#0c0c0c" stroke="#f2f2f2" stroke-width="1.4"/>
<rect x="791.5" y="538.8" width="6.5" height="17.8" fill="#6c625a"/>
<rect x="791.5" y="538.8" width="6.5" height="4.27" fill="#d8d8d4"/>
<rect x="791.5" y="552.33" width="6.5" height="4.27" fill="#d8d8d4"/>
<rect x="801.5" y="536.4" width="8" height="22.6" rx="1.5" fill="#0c0c0c" stroke="#f2f2f2" stroke-width="1.4"/>
<rect x="803.5" y="538.8" width="4" height="17.8" fill="#5e5e5c"/>
<rect x="803.5" y="538.8" width="4" height="4.27" fill="#d8d8d4"/>
<rect x="803.5" y="552.33" width="4" height="4.27" fill="#d8d8d4"/>
<rect x="811" y="536.4" width="15" height="33.1" rx="1.5" fill="#0c0c0c" stroke="#f2f2f2" stroke-width="1.4"/>
<rect x="813" y="538.8" width="11" height="28.3" fill="#8a6a50"/>
<rect x="813" y="538.8" width="11" height="6.79" fill="#d8d8d4"/>
<rect x="813" y="560.31" width="11" height="6.79" fill="#d8d8d4"/>
<rect x="766" y="556" width="10" height="20" rx="1.5" fill="#0c0c0c" stroke="#f2f2f2" stroke-width="1.4"/>
<rect x="768" y="558.4" width="6" height="15.2" fill="#946b4c"/>
<rect x="768" y="558.4" width="6" height="3.65" fill="#d8d8d4"/>
<rect x="768" y="569.95" width="6" height="3.65" fill="#d8d8d4"/>
<rect x="798.5" y="556" width="10" height="20" rx="1.5" fill="#0c0c0c" stroke="#f2f2f2" stroke-width="1.4"/>
<rect x="800.5" y="558.4" width="6" height="15.2" fill="#946b4c"/>
<rect x="800.5" y="558.4" width="6" height="3.65" fill="#d8d8d4"/>
<rect x="800.5" y="569.95" width="6" height="3.65" fill="#d8d8d4"/>
<rect x="778" y="560" width="19" height="12" fill="#161616"/>
<rect x="784" y="556" width="6" height="5" fill="#d8d8d4"/>
<rect x="779" y="571" width="6" height="6" fill="#d8d8d4"/>
<rect x="790" y="571" width="6" height="6" fill="#d8d8d4"/>
<rect x="723" y="582.6" width="76" height="10.2" rx="1.5" fill="#0c0c0c" stroke="#f2f2f2" stroke-width="1.4"/>
<rect x="725" y="585" width="15.9" height="5.4" fill="#5e5e5c"/>
<rect x="725" y="585" width="15.9" height="1.3" fill="#d8d8d4"/>
<rect x="725" y="589.1" width="15.9" height="1.3" fill="#d8d8d4"/>
<line x1="742.3" y1="582.6" x2="742.3" y2="592.8" stroke="#f2f2f2" stroke-width="1.1"/>
<rect x="743.7" y="585" width="15.9" height="5.4" fill="#8a6a50"/>
<rect x="743.7" y="585" width="15.9" height="1.3" fill="#d8d8d4"/>
<rect x="743.7" y="589.1" width="15.9" height="1.3" fill="#d8d8d4"/>
<line x1="761" y1="582.6" x2="761" y2="592.8" stroke="#f2f2f2" stroke-width="1.1"/>
<rect x="762.4" y="585" width="15.9" height="5.4" fill="#4c4c4a"/>
<rect x="762.4" y="585" width="15.9" height="1.3" fill="#d8d8d4"/>
<rect x="762.4" y="589.1" width="15.9" height="1.3" fill="#d8d8d4"/>
<line x1="779.7" y1="582.6" x2="779.7" y2="592.8" stroke="#f2f2f2" stroke-width="1.1"/>
<rect x="781.1" y="585" width="15.9" height="5.4" fill="#6c625a"/>
<rect x="781.1" y="585" width="15.9" height="1.3" fill="#d8d8d4"/>
<rect x="781.1" y="589.1" width="15.9" height="1.3" fill="#d8d8d4"/>
<rect x="726" y="585" width="70" height="5.4" fill="#0c0c0c"/>
<rect x="725.6" y="585.2" width="15" height="5.1" fill="#555"/>
<rect x="725.6" y="585.2" width="3.6" height="5.1" fill="#d8d8d4"/>
<rect x="737" y="585.2" width="3.6" height="5.1" fill="#d8d8d4"/>
<rect x="744.4" y="585.2" width="15" height="5.1" fill="#555"/>
<rect x="744.4" y="585.2" width="3.6" height="5.1" fill="#d8d8d4"/>
<rect x="755.8" y="585.2" width="3.6" height="5.1" fill="#d8d8d4"/>
<rect x="763.2" y="585.2" width="15" height="5.1" fill="#555"/>
<rect x="763.2" y="585.2" width="3.6" height="5.1" fill="#d8d8d4"/>
<rect x="774.6" y="585.2" width="3.6" height="5.1" fill="#d8d8d4"/>
<rect x="782" y="585.2" width="15" height="5.1" fill="#555"/>
<rect x="782" y="585.2" width="3.6" height="5.1" fill="#d8d8d4"/>
<rect x="793.4" y="585.2" width="3.6" height="5.1" fill="#d8d8d4"/>
<text x="869.7" y="392.3" font-size="18.5" fill="#fff" font-weight="bold" text-anchor="middle">+</text>
<text x="868.8" y="442.3" font-size="22" fill="#fff" font-weight="bold" text-anchor="middle" transform="rotate(90 868.8 442.3) translate(0 6)">-</text>
<rect x="860.4" y="394.8" width="37.5" height="41.4" rx="1.5" fill="#e9e9e7"/>
<rect x="866" y="398" width="23" height="35" rx="1" fill="#f5f5f3"/>
<rect x="888" y="398" width="6" height="10" fill="#dcdcda"/>
<rect x="888" y="423" width="6" height="10" fill="#dcdcda"/>
<rect x="892" y="408" width="6.5" height="15" fill="#111"/>
<rect x="861.5" y="396" width="3.5" height="39" fill="#d4d4d2"/>
<circle cx="876.5" cy="409.5" r="1.5" fill="#b8b8b6"/>
<circle cx="876.5" cy="421.5" r="1.5" fill="#b8b8b6"/>
<path d="M911 416.4 C913 408.5 921 406 926.6 410.5 C931 414.5 931 418.5 926.6 422.3 C921 426.8 913 424.3 911 416.4 Z" fill="#d3d7d6" transform="rotate(238 911 416.4)"/>
<path d="M911 416.4 C913 408.5 921 406 926.6 410.5 C931 414.5 931 418.5 926.6 422.3 C921 426.8 913 424.3 911 416.4 Z" fill="#d3d7d6" transform="rotate(0 911 416.4)"/>
<path d="M911 416.4 C913 408.5 921 406 926.6 410.5 C931 414.5 931 418.5 926.6 422.3 C921 426.8 913 424.3 911 416.4 Z" fill="#d3d7d6" transform="rotate(122 911 416.4)"/>
<circle cx="911" cy="416.4" r="1.6" fill="#8e9290"/>
<rect x="841.5" y="461.5" width="44.3" height="38.6" rx="1" fill="#0c0c0c" stroke="#f2f2f2" stroke-width="1.6"/>
<rect x="845" y="465" width="37.3" height="31.6" rx="5" fill="#4e4e4e"/>
<rect x="847" y="467" width="33.3" height="27.6" rx="4" fill="#3a3a3a"/>
<text x="863.65" y="485.3" font-size="12.5" fill="#7e7e7e" text-anchor="middle" transform="rotate(180 863.65 480.8)">220</text>
<rect x="842.3" y="503" width="47.7" height="18.6" rx="2" fill="#0c0c0c" stroke="#f2f2f2" stroke-width="1.4"/>
<rect x="845" y="505.5" width="42.5" height="13.7" rx="2" fill="#d2d2ce"/>
<rect x="853" y="505.5" width="26" height="13.7" fill="#2a2a2a"/>
<rect x="888.8" y="467.3" width="14.2" height="32.7" rx="1.5" fill="#0c0c0c" stroke="#f2f2f2" stroke-width="1.4"/>
<rect x="890.8" y="469.7" width="10.2" height="27.9" fill="#8a6a50"/>
<rect x="890.8" y="469.7" width="10.2" height="6.7" fill="#d8d8d4"/>
<rect x="890.8" y="490.9" width="10.2" height="6.7" fill="#d8d8d4"/>
<rect x="893" y="505.4" width="8" height="14.2" fill="#946b4c"/>
<rect x="893" y="505.4" width="8" height="3.41" fill="#d8d8d4"/>
<rect x="893" y="516.19" width="8" height="3.41" fill="#d8d8d4"/>
<rect x="846" y="527.95" width="7" height="2.6" fill="#e0e0dc"/>
<rect x="863" y="527.95" width="7" height="2.6" fill="#e0e0dc"/>
<rect x="846" y="533.45" width="7" height="2.6" fill="#e0e0dc"/>
<rect x="863" y="533.45" width="7" height="2.6" fill="#e0e0dc"/>
<rect x="846" y="538.95" width="7" height="2.6" fill="#e0e0dc"/>
<rect x="863" y="538.95" width="7" height="2.6" fill="#e0e0dc"/>
<rect x="852" y="526.5" width="12" height="16.5" rx="1" fill="#151515"/>
<rect x="873" y="523" width="20" height="20.5" rx="1.5" fill="#0c0c0c" stroke="#f2f2f2" stroke-width="1.4"/>
<rect x="875" y="525.4" width="6.6" height="15.7" fill="#5e5e5c"/>
<rect x="875" y="525.4" width="6.6" height="3.77" fill="#d8d8d4"/>
<rect x="875" y="537.33" width="6.6" height="3.77" fill="#d8d8d4"/>
<line x1="883" y1="523" x2="883" y2="543.5" stroke="#f2f2f2" stroke-width="1.1"/>
<rect x="884.4" y="525.4" width="6.6" height="15.7" fill="#8a6a50"/>
<rect x="884.4" y="525.4" width="6.6" height="3.77" fill="#d8d8d4"/>
<rect x="884.4" y="537.33" width="6.6" height="3.77" fill="#d8d8d4"/>
<rect x="899" y="526" width="15" height="15" fill="#161616"/>
<rect x="896" y="524.5" width="6" height="5" fill="#d8d8d4"/>
<rect x="896" y="538" width="6" height="5" fill="#d8d8d4"/>
<rect x="911" y="531" width="6" height="6" fill="#d8d8d4"/>
<rect x="841.5" y="547.5" width="27.5" height="16.5" rx="1.5" fill="#0c0c0c" stroke="#f2f2f2" stroke-width="1.4"/>
<rect x="843.9" y="549.5" width="22.7" height="12.5" fill="#4c4c4a"/>
<rect x="843.9" y="549.5" width="5.45" height="12.5" fill="#d8d8d4"/>
<rect x="861.15" y="549.5" width="5.45" height="12.5" fill="#d8d8d4"/>
<rect x="871" y="547.5" width="30" height="16.5" rx="1.5" fill="#0c0c0c" stroke="#f2f2f2" stroke-width="1.4"/>
<rect x="873.4" y="549.5" width="25.2" height="12.5" fill="#4c4c4a"/>
<rect x="873.4" y="549.5" width="6.05" height="12.5" fill="#d8d8d4"/>
<rect x="892.55" y="549.5" width="6.05" height="12.5" fill="#d8d8d4"/>
<rect x="903" y="547.5" width="17" height="16.5" rx="1.5" fill="#0c0c0c" stroke="#f2f2f2" stroke-width="1.4"/>
<rect x="905" y="549.9" width="5.1" height="11.7" fill="#4c4c4a"/>
<rect x="905" y="549.9" width="5.1" height="2.81" fill="#d8d8d4"/>
<rect x="905" y="558.79" width="5.1" height="2.81" fill="#d8d8d4"/>
<line x1="911.5" y1="547.5" x2="911.5" y2="564" stroke="#f2f2f2" stroke-width="1.1"/>
<rect x="912.9" y="549.9" width="5.1" height="11.7" fill="#6c625a"/>
<rect x="912.9" y="549.9" width="5.1" height="2.81" fill="#d8d8d4"/>
<rect x="912.9" y="558.79" width="5.1" height="2.81" fill="#d8d8d4"/>
<rect x="941.5" y="511" width="32.9" height="16.3" rx="1.5" fill="#0c0c0c" stroke="#f2f2f2" stroke-width="1.4"/>
<rect x="943.9" y="513" width="28.1" height="12.3" fill="#8a6a50"/>
<rect x="943.9" y="513" width="6.74" height="12.3" fill="#d8d8d4"/>
<rect x="965.26" y="513" width="6.74" height="12.3" fill="#d8d8d4"/>
<rect x="930" y="528.7" width="44.4" height="38.6" rx="1" fill="#0c0c0c" stroke="#f2f2f2" stroke-width="1.6"/>
<rect x="933.5" y="532.2" width="37.4" height="31.6" rx="5" fill="#4e4e4e"/>
<rect x="935.5" y="534.2" width="33.4" height="27.6" rx="4" fill="#3a3a3a"/>
<text x="952.2" y="552.5" font-size="12.5" fill="#7e7e7e" text-anchor="middle" transform="rotate(180 952.2 548)">100</text>
<rect x="952" y="577" width="14" height="17" fill="#141414"/>
<rect x="946" y="577.8" width="5.5" height="2.4" fill="#e0e0dc"/>
<rect x="946" y="584.3" width="5.5" height="2.4" fill="#e0e0dc"/>
<rect x="946" y="590.8" width="5.5" height="2.4" fill="#e0e0dc"/>
<rect x="966" y="579" width="4" height="3" fill="#e0e0dc"/>
<rect x="966" y="590" width="4" height="3" fill="#e0e0dc"/>
<circle cx="949" cy="573.5" r="1" fill="#fff"/>
<rect x="857.2" y="583.5" width="20.8" height="12.5" rx="1.5" fill="#0c0c0c" stroke="#f2f2f2" stroke-width="1.4"/>
<rect x="859.6" y="585.5" width="16" height="8.5" fill="#8a6a50"/>
<rect x="859.6" y="585.5" width="3.84" height="8.5" fill="#d8d8d4"/>
<rect x="871.76" y="585.5" width="3.84" height="8.5" fill="#d8d8d4"/>
<rect x="881.5" y="583" width="30" height="16" rx="1.5" fill="#0c0c0c" stroke="#f2f2f2" stroke-width="1.4"/>
<rect x="883.9" y="585" width="25.2" height="12" fill="#946b4c"/>
<rect x="883.9" y="585" width="6.05" height="12" fill="#d8d8d4"/>
<rect x="903.05" y="585" width="6.05" height="12" fill="#d8d8d4"/>
<rect x="914" y="586" width="21" height="12" rx="1.5" fill="#0c0c0c" stroke="#f2f2f2" stroke-width="1.4"/>
<rect x="916.4" y="588" width="16.2" height="8" fill="#8a6a50"/>
<rect x="916.4" y="588" width="3.89" height="8" fill="#d8d8d4"/>
<rect x="928.71" y="588" width="3.89" height="8" fill="#d8d8d4"/>
<rect x="862.5" y="605.5" width="109.1" height="44.5" rx="1" fill="none" stroke="#f2f2f2" stroke-width="1.3" stroke-dasharray="0"/>
<rect x="863.5" y="606.5" width="14.5" height="42.5" fill="#0c0c0c" stroke="#f2f2f2" stroke-width="1.2"/>
<rect x="866.5" y="609.5" width="8.5" height="36.5" fill="#1a1a1a"/>
<rect x="866.5" y="609.5" width="8.5" height="8.76" fill="#d8d8d4"/>
<rect x="866.5" y="637.24" width="8.5" height="8.76" fill="#d8d8d4"/>
<rect x="879.5" y="600.2" width="17.2" height="47.2" rx="1" fill="#0c0c0c" stroke="#f2f2f2" stroke-width="1.2"/>
<rect x="881.5" y="603" width="13.2" height="41.5" rx="2" fill="#d0d0cc"/>
<rect x="881.5" y="611" width="13.2" height="25.5" fill="#2b2b2b"/>
<rect x="898.1" y="600.2" width="17.2" height="47.2" rx="1" fill="#0c0c0c" stroke="#f2f2f2" stroke-width="1.2"/>
<rect x="900.1" y="603" width="13.2" height="41.5" rx="2" fill="#d0d0cc"/>
<rect x="900.1" y="611" width="13.2" height="25.5" fill="#2b2b2b"/>
<rect x="916.7" y="600.2" width="17.2" height="47.2" rx="1" fill="#0c0c0c" stroke="#f2f2f2" stroke-width="1.2"/>
<rect x="918.7" y="603" width="13.2" height="41.5" rx="2" fill="#d0d0cc"/>
<rect x="918.7" y="611" width="13.2" height="25.5" fill="#2b2b2b"/>
<rect x="938" y="603" width="14" height="17.5" rx="1.5" fill="#0c0c0c" stroke="#f2f2f2" stroke-width="1.4"/>
<rect x="940" y="605.4" width="10" height="12.7" fill="#8a6a50"/>
<rect x="940" y="605.4" width="10" height="3.05" fill="#d8d8d4"/>
<rect x="940" y="615.05" width="10" height="3.05" fill="#d8d8d4"/>
<rect x="953.5" y="603" width="8.5" height="17.5" rx="1.5" fill="#0c0c0c" stroke="#f2f2f2" stroke-width="1.4"/>
<rect x="955.5" y="605.4" width="4.5" height="12.7" fill="#5e5e5c"/>
<rect x="955.5" y="605.4" width="4.5" height="3.05" fill="#d8d8d4"/>
<rect x="955.5" y="615.05" width="4.5" height="3.05" fill="#d8d8d4"/>
<rect x="963.5" y="603" width="8.1" height="17.5" rx="1.5" fill="#0c0c0c" stroke="#f2f2f2" stroke-width="1.4"/>
<rect x="965.5" y="605.4" width="4.1" height="12.7" fill="#6c625a"/>
<rect x="965.5" y="605.4" width="4.1" height="3.05" fill="#d8d8d4"/>
<rect x="965.5" y="615.05" width="4.1" height="3.05" fill="#d8d8d4"/>
<rect x="940" y="623.5" width="13.5" height="26.5" rx="1.5" fill="#0c0c0c" stroke="#f2f2f2" stroke-width="1.4"/>
<rect x="942" y="625.9" width="9.5" height="21.7" fill="#8a6a50"/>
<rect x="942" y="625.9" width="9.5" height="5.21" fill="#d8d8d4"/>
<rect x="942" y="642.39" width="9.5" height="5.21" fill="#d8d8d4"/>
<rect x="956" y="621.5" width="15.6" height="40.5" rx="1.5" fill="#0c0c0c" stroke="#f2f2f2" stroke-width="1.4"/>
<rect x="958" y="623.9" width="11.6" height="35.7" fill="#4c4c4a"/>
<rect x="958" y="623.9" width="11.6" height="8.57" fill="#d8d8d4"/>
<rect x="958" y="651.03" width="11.6" height="8.57" fill="#d8d8d4"/>
<rect x="959.5" y="634" width="9" height="16" fill="#141414"/>
<rect x="900" y="655.5" width="21" height="11" rx="1.5" fill="#0c0c0c" stroke="#f2f2f2" stroke-width="1.4"/>
<rect x="902.4" y="657.5" width="16.2" height="7" fill="#8a6a50"/>
<rect x="902.4" y="657.5" width="3.89" height="7" fill="#d8d8d4"/>
<rect x="914.71" y="657.5" width="3.89" height="7" fill="#d8d8d4"/>
<rect x="925.5" y="654" width="29.5" height="15" rx="1.5" fill="#0c0c0c" stroke="#f2f2f2" stroke-width="1.4"/>
<rect x="927.9" y="656" width="24.7" height="11" fill="#946b4c"/>
<rect x="927.9" y="656" width="5.93" height="11" fill="#d8d8d4"/>
<rect x="946.67" y="656" width="5.93" height="11" fill="#d8d8d4"/>
<text x="998.2" y="444.6" font-size="12.6" fill="#fff" font-weight="bold" textLength="114" lengthAdjust="spacingAndGlyphs" transform="rotate(90 998.2 444.6)">Backlight / Volume</text>
<rect x="1018" y="477" width="2" height="33" fill="#e6e6e6"/>
<rect x="1013" y="489.5" width="5" height="8" fill="#e6e6e6"/>
<rect x="1093.6" y="441.7" width="8.8" height="13.3" fill="#cfcfcf"/>
<rect x="1093.6" y="534.6" width="8.8" height="13.8" fill="#cfcfcf"/>
<path d="M1097.6 447 Q1080 432.5 1058.5 431.8" fill="none" stroke="#fff" stroke-width="3.6" stroke-linecap="round" stroke-linejoin="round"/>
<path d="M1066.6 424.8 L1057.2 431.7 L1065.2 438.8" fill="none" stroke="#fff" stroke-width="3.6" stroke-linecap="round" stroke-linejoin="round"/>
<path d="M1097.6 543.8 Q1080 557 1057.3 557.7" fill="none" stroke="#fff" stroke-width="3.6" stroke-linecap="round" stroke-linejoin="round"/>
<path d="M1065.2 551.2 L1055.9 557.8 L1063.9 565" fill="none" stroke="#fff" stroke-width="3.6" stroke-linecap="round" stroke-linejoin="round"/>
<text x="1043.6" y="436" font-size="18.5" fill="#fff" font-weight="bold" text-anchor="middle">+</text>
<text x="1046.3" y="565.2" font-size="19" fill="#fff" font-weight="bold" text-anchor="middle">-</text>
<circle cx="1069.4" cy="494.4" r="49" fill="#171717"/>
<circle cx="1069.4" cy="494.4" r="48.3" fill="none" stroke="#0a0a0a" stroke-width="1.6" stroke-dasharray="1.6 1.6"/>
<circle cx="1069.4" cy="494.4" r="36" fill="#0b0b0b"/>
<path d="M1088.6 469.5 L1093.5 479.5 L1088.6 480.5 Z M1088.6 519.5 L1093.5 509.5 L1088.6 508.5 Z" fill="#c9d2d6"/>
<rect x="1030" y="454.6" width="6" height="78.4" fill="none" stroke="#e9e9e9" stroke-width="1.4" stroke-dasharray="3 2"/>
<rect x="1028" y="473" width="5.5" height="9" fill="#d9d9d5"/>
<rect x="1028" y="487.5" width="5.5" height="9" fill="#d9d9d5"/>
<rect x="1028" y="502" width="5.5" height="9" fill="#d9d9d5"/>
<path d="M1033 456 L1072.6 456 L1076.5 473 Q1089.6 480 1089.6 494.5 Q1089.6 509 1076.5 516.5 L1072.6 532.2 L1033 532.2 Z" fill="url(#gCopper)"/>
<path d="M1072.5 474 L1081.2 494.6 L1072.5 514.5" fill="none" stroke="#caa090" stroke-width="1.2"/>
<path d="M1069.3 476.5 L1077.6 494.6 L1069.3 512.5" fill="none" stroke="#b48474" stroke-width="1"/>
<rect x="1040" y="455.2" width="31" height="3.4" fill="#a08e86"/>
<rect x="1040" y="529.6" width="31" height="3.4" fill="#a08e86"/>
<text x="1024.9" y="629" font-size="12.3" fill="#fff" font-weight="bold" textLength="56.5" lengthAdjust="spacingAndGlyphs">Earphone</text>
<path d="M1093.5 637.6 L1019.6 637.6 L1019.6 676" fill="none" stroke="#e8e8e8" stroke-width="1.4"/>
<rect x="1104" y="643.5" width="9.8" height="29.3" rx="3" fill="#1d1d1d"/>
<rect x="1021.5" y="639.5" width="84.5" height="38.5" rx="1" fill="#191919"/>
<rect x="1021.5" y="639.5" width="84.5" height="6.5" fill="#232323"/>
<circle cx="1040" cy="642.5" r="1.4" fill="#080808"/>
<rect x="1035.9" y="662.6" width="12" height="11" rx="1" fill="#d6d6d2"/>
<rect x="1037.9" y="665" width="8" height="6.6" fill="#5a5a58"/>
<rect x="1061.2" y="662.6" width="12" height="11" rx="1" fill="#d6d6d2"/>
<rect x="1063.2" y="665" width="8" height="6.6" fill="#5a5a58"/>
<rect x="1079.8" y="662.6" width="12" height="11" rx="1" fill="#d6d6d2"/>
<rect x="1081.8" y="665" width="8" height="6.6" fill="#5a5a58"/>
<circle cx="105.1" cy="191.4" r="19.3" fill="#17110f" stroke="#b9b5af" stroke-width="1.5"/>
<circle cx="103.1" cy="190.5" r="17.2" fill="url(#gRed)"/>
<circle cx="1080.9" cy="192.6" r="19.3" fill="#17110f" stroke="#b9b5af" stroke-width="1.5"/>
<circle cx="1082.6" cy="191.7" r="17.2" fill="url(#gRed)"/>
<circle cx="452.3" cy="381.2" r="19.8" fill="#0a0908"/>
<circle cx="452.3" cy="380.6" r="19" fill="url(#gGold)"/>
<circle cx="819.8" cy="381.2" r="19.8" fill="#0a0908"/>
<circle cx="819.8" cy="380.6" r="19" fill="url(#gGold)"/>
<circle cx="449.6" cy="693.5" r="19.8" fill="#0a0908"/>
<circle cx="449.6" cy="692.9" r="19" fill="url(#gGold)"/>
<circle cx="816.8" cy="693.5" r="19.8" fill="#0a0908"/>
<circle cx="816.8" cy="692.9" r="19" fill="url(#gGold)"/>
<circle cx="103.6" cy="771.1" r="19.3" fill="#1b1a19" stroke="#c4c4c4" stroke-width="1.6"/>
<circle cx="100.8" cy="772.5" r="17.2" fill="url(#gSilver)"/>
<circle cx="1075.2" cy="772.2" r="19.3" fill="#1b1a19" stroke="#c4c4c4" stroke-width="1.6"/>
<circle cx="1078.4" cy="774.4" r="17.2" fill="url(#gSilver)"/>
<text x="469" y="735.3" font-size="23.6" fill="#fff" font-weight="bold" textLength="265" lengthAdjust="spacingAndGlyphs">7inch HDMI Display-H</text>
<text x="619.2" y="757.4" font-size="13.8" fill="#fff" font-weight="bold" textLength="111.8" lengthAdjust="spacingAndGlyphs">1024X600 Pixel</text>
<text x="620.7" y="780.9" font-size="13.8" fill="#fff" font-weight="bold" textLength="71.8" lengthAdjust="spacingAndGlyphs">USB Touch</text>
<text x="622.4" y="795.9" font-size="10" fill="#fff" font-weight="bold" textLength="32" lengthAdjust="spacingAndGlyphs">Rev0.2</text>
<text transform="translate(471.4 780.4) scale(0.617 1)" font-size="35" letter-spacing="12" fill="#fff">CE</text>
<text x="515.1" y="778" font-size="26.4" fill="#fff" font-weight="bold" textLength="51.7" lengthAdjust="spacingAndGlyphs">RoHS</text>
<path d="M574.8 752.8 L602.4 780 M602.4 752.8 L574.8 780" stroke="#fff" fill="none" stroke-linecap="round" stroke-width="2"/>
<path d="M581.5 759.5 L596.5 759.5 L595 775.8 L583 775.8 Z" stroke="#fff" fill="none" stroke-linecap="round" stroke-width="1.8"/>
<path d="M579.5 757.3 L598.5 757.3 M585.5 754.6 L592.5 754.6" stroke="#fff" fill="none" stroke-linecap="round" stroke-width="1.8"/>
<circle cx="594.4" cy="777.6" r="2" fill="#fff"/>
<rect x="575" y="784.8" width="27.7" height="7.5" fill="#fff"/>
</g>
<g id="dimensions">
<line x1="103.4" y1="6.4" x2="103.4" y2="161.5" stroke="#7a828c" stroke-width="3.2"/>
<line x1="101.8" y1="22" x2="504.4" y2="22" stroke="#7a828c" stroke-width="3.2"/>
<line x1="650" y1="22" x2="1085.4" y2="22" stroke="#7a828c" stroke-width="3.2"/>
<line x1="1083.8" y1="5.3" x2="1083.8" y2="176" stroke="#7a828c" stroke-width="3.2"/>
<line x1="1107.7" y1="22" x2="1107.7" y2="160.5" stroke="#7a828c" stroke-width="3.2"/>
<line x1="451.7" y1="62.3" x2="451.7" y2="362" stroke="#7a828c" stroke-width="3.2"/>
<line x1="450.1" y1="79" x2="689" y2="79" stroke="#7a828c" stroke-width="3.2"/>
<line x1="834.6" y1="79" x2="1109.3" y2="79" stroke="#7a828c" stroke-width="3.2"/>
<line x1="638.4" y1="106" x2="638.4" y2="350" stroke="#7a828c" stroke-width="3.2"/>
<line x1="636.8" y1="115.7" x2="817.5" y2="115.7" stroke="#7a828c" stroke-width="3.2"/>
<line x1="946.7" y1="115.7" x2="1109.3" y2="115.7" stroke="#7a828c" stroke-width="3.2"/>
<line x1="820.3" y1="137" x2="820.3" y2="362" stroke="#7a828c" stroke-width="3.2"/>
<line x1="818.7" y1="145.3" x2="915.4" y2="145.3" stroke="#7a828c" stroke-width="3.2"/>
<line x1="1041" y1="145.3" x2="1109.3" y2="145.3" stroke="#7a828c" stroke-width="3.2"/>
<text x="510.5" y="32" font-size="27.4" fill="#111" textLength="130.7" lengthAdjust="spacingAndGlyphs">154.89mm</text>
<text x="694.6" y="89" font-size="27.4" fill="#111" textLength="131.1" lengthAdjust="spacingAndGlyphs">104.55mm</text>
<text x="822" y="125.7" font-size="27.4" fill="#111" textLength="116.2" lengthAdjust="spacingAndGlyphs">74.75mm</text>
<text x="916.8" y="155.4" font-size="27.4" fill="#111" textLength="116.5" lengthAdjust="spacingAndGlyphs">46.55mm</text>
<line x1="1098" y1="191.8" x2="1242" y2="191.8" stroke="#8b8b8b" stroke-width="3"/>
<line x1="1223.4" y1="190.3" x2="1223.4" y2="394.8" stroke="#8b8b8b" stroke-width="3"/>
<line x1="1223.8" y1="521.5" x2="1224.4" y2="775.4" stroke="#8b8b8b" stroke-width="3"/>
<line x1="837" y1="380.3" x2="1196.6" y2="380.3" stroke="#999" stroke-width="2.6"/>
<line x1="1187.2" y1="379" x2="1187" y2="529.6" stroke="#8b8b8b" stroke-width="3"/>
<line x1="1186.6" y1="647.4" x2="1186.5" y2="801" stroke="#8b8b8b" stroke-width="3"/>
<line x1="1119" y1="495" x2="1173" y2="495" stroke="#8b8b8b" stroke-width="3"/>
<line x1="1162.5" y1="493.5" x2="1162.5" y2="605.4" stroke="#8b8b8b" stroke-width="3"/>
<line x1="1162.5" y1="736" x2="1162.5" y2="801" stroke="#8b8b8b" stroke-width="3"/>
<line x1="1113.7" y1="658.4" x2="1148.6" y2="658.4" stroke="#8b8b8b" stroke-width="3"/>
<line x1="1139.6" y1="657" x2="1139.6" y2="668" stroke="#8b8b8b" stroke-width="3"/>
<line x1="1139.6" y1="786.4" x2="1139.6" y2="801" stroke="#8b8b8b" stroke-width="3"/>
<line x1="834" y1="694.7" x2="1130.6" y2="694.7" stroke="#999" stroke-width="2.6"/>
<line x1="1111.3" y1="693.3" x2="1111.3" y2="702.7" stroke="#8b8b8b" stroke-width="3"/>
<line x1="1111.3" y1="793.5" x2="1111.3" y2="801" stroke="#8b8b8b" stroke-width="3"/>
<line x1="1084" y1="774.3" x2="1242.3" y2="774.1" stroke="#9a9a9a" stroke-width="2.8"/>
<line x1="1105" y1="799.4" x2="1242.3" y2="799.4" stroke="#8b8b8b" stroke-width="3.4"/>
<text x="1212.3" y="400.3" font-size="27.4" fill="#111" textLength="116.5" lengthAdjust="spacingAndGlyphs" transform="rotate(90 1212.3 400.3)">92.00mm</text>
<text x="1176.3" y="537" font-size="27.4" fill="#111" textLength="98" lengthAdjust="spacingAndGlyphs" transform="rotate(90 1176.3 537)">6.81mm</text>
<text x="1150.8" y="611" font-size="26.4" fill="#111" textLength="116.6" lengthAdjust="spacingAndGlyphs" transform="rotate(90 1150.8 611)">49.00mm</text>
<text x="1130.8" y="670.8" font-size="24" fill="#111" textLength="114.7" lengthAdjust="spacingAndGlyphs" transform="rotate(90 1130.8 670.8)">23.16mm</text>
<text x="1105.9" y="703.3" font-size="21" fill="#111" textLength="89.7" lengthAdjust="spacingAndGlyphs" transform="rotate(90 1105.9 703.3)">17.81mm</text>
<line x1="48" y1="189.7" x2="88" y2="189.7" stroke="#7a828c" stroke-width="3.2"/>
<line x1="58" y1="188.2" x2="58" y2="237" stroke="#7a828c" stroke-width="3.8"/>
<line x1="58" y1="362.5" x2="58" y2="424.8" stroke="#7a828c" stroke-width="3.8"/>
<line x1="47.2" y1="423.2" x2="68.8" y2="423.2" stroke="#7a828c" stroke-width="3.8"/>
<text x="64.6" y="359.8" font-size="27.6" fill="#111" textLength="117.5" lengthAdjust="spacingAndGlyphs" transform="rotate(-90 64.6 359.8)">41.50mm</text>
<line x1="8.9" y1="548.3" x2="70" y2="548.3" stroke="#8b8b8b" stroke-width="3.8"/>
<line x1="21.1" y1="546.5" x2="21.1" y2="606.7" stroke="#8b8b8b" stroke-width="3.8"/>
<line x1="21.1" y1="737.5" x2="21.1" y2="801" stroke="#8b8b8b" stroke-width="3.8"/>
<line x1="9" y1="799.3" x2="76" y2="799.3" stroke="#8b8b8b" stroke-width="3.8"/>
<text x="26.6" y="730" font-size="27" fill="#111" textLength="115.7" lengthAdjust="spacingAndGlyphs" transform="rotate(-90 26.6 730)">40.00mm</text>
<line x1="45.2" y1="666.4" x2="69" y2="666.4" stroke="#8b8b8b" stroke-width="3.8"/>
<line x1="58.9" y1="664.5" x2="58.9" y2="675.2" stroke="#8b8b8b" stroke-width="3.8"/>
<line x1="58.9" y1="791" x2="58.9" y2="801" stroke="#8b8b8b" stroke-width="3.8"/>
<text x="66.4" y="789.6" font-size="25.4" fill="#111" textLength="113" lengthAdjust="spacingAndGlyphs" transform="rotate(-90 66.4 789.6)">22.00mm</text>
</g>
<g id="side-view">
<line x1="1298" y1="121.3" x2="1298" y2="154.5" stroke="#2b2b2b" stroke-width="3"/>
<line x1="1296.5" y1="135.8" x2="1399.8" y2="135.8" stroke="#2b2b2b" stroke-width="3"/>
<line x1="1398.3" y1="121.3" x2="1398.3" y2="373.4" stroke="#2b2b2b" stroke-width="3"/>
<text x="1298.7" y="107.7" font-size="26" fill="#111" textLength="92" lengthAdjust="spacingAndGlyphs">8+6mm</text>
<g transform="translate(1299.2 156.2) skewX(-0.33)">
<rect x="0" y="0" width="5" height="638" fill="#173b3a"/>
<rect x="4.6" y="0" width="9.4" height="639" fill="#58beb2"/>
<rect x="6.5" y="0" width="2.5" height="639" fill="#7fd4ca"/>
<rect x="14" y="0" width="2.4" height="639" fill="#16302f"/>
<rect x="16.2" y="0" width="19.8" height="642" fill="#b5babe" filter="url(#fMetal)"/>
<rect x="16.2" y="0" width="19.8" height="642" fill="url(#gMetal)"/>
<rect x="21" y="100" width="10.5" height="34" rx="3" fill="#d8dcdf" stroke="#8e9498" stroke-width="1.2"/>
<rect x="24" y="105" width="4.5" height="24" rx="2" fill="#f4f6f7"/>
<rect x="20" y="521" width="11.5" height="33" rx="3" fill="#d8dcdf" stroke="#8e9498" stroke-width="1.2"/>
<rect x="23" y="526" width="5.5" height="23" rx="2" fill="#f4f6f7"/>
<rect x="36.6" y="0" width="8" height="645" fill="#0d0d0d"/>
<rect x="44.4" y="0" width="9.8" height="649" fill="#7b7972"/>
<rect x="44.4" y="0" width="2.6" height="649" fill="#5e5c56"/>
<rect x="54" y="11" width="27.4" height="36.5" rx="3" fill="url(#gSilverV)"/>
<rect x="60" y="22" width="20" height="16" rx="2" fill="#b9bdc0"/>
<rect x="54" y="138" width="36" height="27" rx="3" fill="url(#gSilverV)"/>
<rect x="54" y="146" width="8" height="20" fill="#1e1e1e"/>
<rect x="66" y="140" width="22" height="10" fill="#d6cfc0"/>
<rect x="54" y="168" width="22" height="40" rx="2" fill="#e6e3dc"/>
<rect x="76" y="170.5" width="22" height="28.5" rx="2" fill="url(#gBrass)"/>
<rect x="60" y="196" width="18" height="14" fill="#8e8e8c"/>
<rect x="53" y="211" width="39.6" height="107" rx="6" fill="#cfd2d4"/>
<rect x="55.5" y="214" width="35" height="101" rx="5" fill="#101010"/>
<path d="M63 236 Q63 224 72 222 L88 222 L88 308 L72 308 Q63 306 63 294 Z" fill="#0a0a0a" stroke="#c9ccce" stroke-width="1.8"/>
<rect x="73" y="232" width="7" height="66" fill="#2c2c30"/>
<rect x="53" y="320" width="13" height="10" fill="#8e8e8c"/>
<rect x="53" y="326" width="17" height="45.5" rx="8" fill="#c4c7c9"/>
<rect x="55.5" y="329" width="12.5" height="39.5" rx="6" fill="#0e0e0e"/>
<rect x="59" y="338" width="4" height="21.5" fill="#2a2a2e"/>
<rect x="53" y="376" width="17" height="45.5" rx="8" fill="#c4c7c9"/>
<rect x="55.5" y="379" width="12.5" height="39.5" rx="6" fill="#0e0e0e"/>
<rect x="59" y="388" width="4" height="21.5" fill="#2a2a2e"/>
<rect x="53" y="486" width="17" height="50" rx="8" fill="#c4c7c9"/>
<rect x="55.5" y="489" width="12.5" height="44" rx="6" fill="#0e0e0e"/>
<rect x="59" y="498" width="4" height="26" fill="#2a2a2e"/>
<rect x="68" y="330" width="8" height="36" fill="#2c2c2c"/>
<rect x="71" y="389.5" width="21" height="21.5" rx="2" fill="url(#gBrass)"/>
<rect x="53" y="444.8" width="21" height="29.7" rx="2" fill="url(#gSilverV)"/>
<rect x="75" y="448" width="22.5" height="26.5" rx="2" fill="url(#gBrass)"/>
<rect x="53" y="424" width="9" height="16" fill="#222"/>
<rect x="53" y="476" width="11" height="10" fill="#222"/>
<rect x="52.5" y="596" width="24.5" height="32.5" rx="3" fill="url(#gSilverV)"/>
<rect x="58" y="606" width="18" height="15" rx="2" fill="#c6c9cb"/>
</g>
</g>
<g id="front-view">
<path d="M28.5 932.3 L549 932.3 Q552 932.3 552 935.5 L552 938.6 L25.3 938.6 L25.3 935.5 Q25.3 932.3 28.5 932.3 Z" fill="#050505"/>
<path d="M24.6 939.9 L553.8 939.9 L548.6 1248.8 L527.5 1249 L526 1252.5 L412 1252.5 L410 1249.4 L31.8 1249.8 Z" fill="#020202"/>
<path d="M34.3 952 L532.8 952 L527.6 1222.6 L41.2 1223.6 Z" fill="#181818"/>
<line x1="484" y1="1251" x2="484" y2="1253" stroke="#666" stroke-width="1"/>
<text x="235.6" y="919.6" font-size="50.5" fill="#0a0a0a" textLength="127.5" lengthAdjust="spacingAndGlyphs">Front</text>
<text x="868.6" y="922.2" font-size="50.5" fill="#0a0a0a" textLength="111.2" lengthAdjust="spacingAndGlyphs">Back</text>
</g>
<g id="board-small" transform="translate(639.4 853.7) scale(0.4907 0.4935)">
<rect x="55.5" y="170" width="23.5" height="48.5" rx="4" fill="url(#gTeal)"/>
<path d="M80.5 160.8 L1104.5 160 Q1108.3 160 1108.3 164 L1106.6 434.5 L1102.3 440.4 L1102.3 549 L1106 553.8 L1104.4 796 Q1104.4 799.6 1100.5 799.6 L78.5 801 Q74.4 801 74.5 797 L76.6 165 Q76.6 160.8 80.5 160.8 Z" fill="#111111"/>
<path d="M80.5 160.8 L1104.5 160 L1104.5 162 L80.5 162.8 Z" fill="#2a1c16"/>
<path d="M232 264 L160 264 L113 311 L113 360" stroke="#262626" stroke-width="0.9" fill="none"/>
<path d="M230.96 264 L165.2 264 L116.9 315.16 L116.9 360" stroke="#262626" stroke-width="0.9" fill="none"/>
<path d="M229.92 264 L170.4 264 L120.8 319.32 L120.8 360" stroke="#262626" stroke-width="0.9" fill="none"/>
<path d="M228.88 264 L175.6 264 L124.7 323.48 L124.7 360" stroke="#262626" stroke-width="0.9" fill="none"/>
<path d="M227.84 264 L180.8 264 L128.6 327.64 L128.6 360" stroke="#262626" stroke-width="0.9" fill="none"/>
<path d="M226.8 264 L186 264 L132.5 331.8 L132.5 360" stroke="#262626" stroke-width="0.9" fill="none"/>
<path d="M196 275 L150 320 L150 345" stroke="#262626" stroke-width="0.9" fill="none"/>
<path d="M200.6 279.14 L154.14 324.6 L154.14 345" stroke="#262626" stroke-width="0.9" fill="none"/>
<path d="M205.2 283.28 L158.28 329.2 L158.28 345" stroke="#262626" stroke-width="0.9" fill="none"/>
<path d="M209.8 287.42 L162.42 333.8 L162.42 345" stroke="#262626" stroke-width="0.9" fill="none"/>
<path d="M214.4 291.56 L166.56 338.4 L166.56 345" stroke="#262626" stroke-width="0.9" fill="none"/>
<path d="M826 248 L868 290 L868 360" stroke="#262626" stroke-width="0.9" fill="none"/>
<path d="M832 248 L874 288.2 L874 360" stroke="#262626" stroke-width="0.9" fill="none"/>
<path d="M838 248 L880 286.4 L880 360" stroke="#262626" stroke-width="0.9" fill="none"/>
<path d="M148 480 L148 650 M270 395 L270 512 M289 575 L289 645" stroke="#1f1f1f" stroke-width="1" fill="none"/>
<rect x="123.3" y="170.4" width="253.1" height="176" rx="42" fill="none" stroke="#f4f4f4" stroke-width="1.7"/>
<rect x="813" y="170.8" width="250.8" height="176.2" rx="43" fill="none" stroke="#f4f4f4" stroke-width="1.7"/>
<rect x="131" y="372.5" width="20" height="98" rx="2" fill="#1c1c1c"/>
<rect x="131" y="372.5" width="19.5" height="98" rx="3" fill="none" stroke="#d8d8d4" stroke-width="1.6" stroke-dasharray="30 62 200"/>
<rect x="139" y="391.2" width="15.5" height="1.6" fill="#b4b4b0"/>
<rect x="139" y="394.3" width="15.5" height="1.6" fill="#b4b4b0"/>
<rect x="139" y="397.4" width="15.5" height="1.6" fill="#b4b4b0"/>
<rect x="139" y="400.5" width="15.5" height="1.6" fill="#b4b4b0"/>
<rect x="139" y="403.6" width="15.5" height="1.6" fill="#b4b4b0"/>
<rect x="139" y="406.7" width="15.5" height="1.6" fill="#b4b4b0"/>
<rect x="139" y="409.8" width="15.5" height="1.6" fill="#b4b4b0"/>
<rect x="139" y="412.9" width="15.5" height="1.6" fill="#b4b4b0"/>
<rect x="139" y="416" width="15.5" height="1.6" fill="#b4b4b0"/>
<rect x="139" y="419.1" width="15.5" height="1.6" fill="#b4b4b0"/>
<rect x="139" y="422.2" width="15.5" height="1.6" fill="#b4b4b0"/>
<rect x="139" y="425.3" width="15.5" height="1.6" fill="#b4b4b0"/>
<rect x="139" y="428.4" width="15.5" height="1.6" fill="#b4b4b0"/>
<rect x="139" y="431.5" width="15.5" height="1.6" fill="#b4b4b0"/>
<rect x="139" y="434.6" width="15.5" height="1.6" fill="#b4b4b0"/>
<rect x="139" y="437.7" width="15.5" height="1.6" fill="#b4b4b0"/>
<rect x="139" y="440.8" width="15.5" height="1.6" fill="#b4b4b0"/>
<rect x="139" y="443.9" width="15.5" height="1.6" fill="#b4b4b0"/>
<rect x="139" y="447" width="15.5" height="1.6" fill="#b4b4b0"/>
<rect x="135" y="377" width="12" height="13" rx="1" fill="#8a8a88"/>
<rect x="135" y="453" width="12" height="13" rx="1" fill="#3a3a3a"/>
<ellipse cx="103" cy="373.5" rx="7" ry="3" fill="#dcdcd8"/>
<ellipse cx="103" cy="469.5" rx="7" ry="3" fill="#dcdcd8"/>
<rect x="68.8" y="374.3" width="67.7" height="94.4" rx="3" fill="url(#gHdmi)" filter="url(#fGrain)"/>
<rect x="69.8" y="375.3" width="65.7" height="92.4" rx="3" fill="none" stroke="#d6d2ca" stroke-width="1.6"/>
<rect x="122" y="375.3" width="12" height="92.4" fill="#b9b5ad"/>
<rect x="124" y="378" width="4" height="14" fill="#3a3836"/>
<rect x="130" y="378" width="3" height="14" fill="#3a3836"/>
<rect x="124" y="452" width="4" height="14" fill="#3a3836"/>
<rect x="130" y="452" width="3" height="14" fill="#3a3836"/>
<rect x="78" y="386.5" width="30.5" height="14" rx="4" fill="#efece6"/>
<rect x="78" y="388.5" width="28" height="10" rx="3" fill="#46423e"/>
<rect x="78" y="391" width="23" height="6.5" rx="2" fill="#8c8880"/>
<rect x="78" y="444" width="30.5" height="14" rx="4" fill="#efece6"/>
<rect x="78" y="446" width="28" height="10" rx="3" fill="#46423e"/>
<rect x="78" y="448.5" width="23" height="6.5" rx="2" fill="#8c8880"/>
<text x="95.6" y="361.2" font-size="12.6" fill="#fff" font-weight="bold" textLength="44.3" lengthAdjust="spacingAndGlyphs">Display</text>
<rect x="107" y="539.54" width="9" height="2.2" fill="#c8c8c4"/>
<rect x="107" y="544.62" width="9" height="2.2" fill="#c8c8c4"/>
<rect x="107" y="549.7" width="9" height="2.2" fill="#c8c8c4"/>
<rect x="107" y="554.78" width="9" height="2.2" fill="#c8c8c4"/>
<rect x="107" y="559.86" width="9" height="2.2" fill="#c8c8c4"/>
<rect x="106" y="529.46" width="9" height="7.11" fill="#9a9a96"/>
<rect x="106" y="565.02" width="9" height="7.11" fill="#9a9a96"/>
<ellipse cx="90" cy="525.9" rx="6" ry="3.2" fill="#b8b8b4"/>
<ellipse cx="90" cy="575.7" rx="6" ry="3.2" fill="#b8b8b4"/>
<rect x="72" y="525.4" width="36" height="50.8" rx="2.5" fill="url(#gUsb)"/>
<rect x="73.5" y="526.9" width="33" height="47.8" rx="2" fill="none" stroke="#f4f4f2" stroke-width="1"/>
<rect x="82.08" y="534.04" width="8.64" height="5.59" rx="1" fill="#2a2a2a"/>
<rect x="82.08" y="561.98" width="8.64" height="5.59" rx="1" fill="#2a2a2a"/>
<rect x="98.64" y="539.62" width="5.76" height="6.1" rx="0.5" fill="#555"/>
<rect x="98.64" y="555.88" width="5.76" height="6.1" rx="0.5" fill="#555"/>
<circle cx="120.5" cy="540.5" r="1" fill="#fff"/>
<text x="85" y="515.8" font-size="12" fill="#fff" font-weight="bold" textLength="33.6" lengthAdjust="spacingAndGlyphs">Touch</text>
<rect x="107" y="652.64" width="9" height="2.2" fill="#c8c8c4"/>
<rect x="107" y="657.72" width="9" height="2.2" fill="#c8c8c4"/>
<rect x="107" y="662.8" width="9" height="2.2" fill="#c8c8c4"/>
<rect x="107" y="667.88" width="9" height="2.2" fill="#c8c8c4"/>
<rect x="107" y="672.96" width="9" height="2.2" fill="#c8c8c4"/>
<rect x="106" y="642.56" width="9" height="7.11" fill="#9a9a96"/>
<rect x="106" y="678.12" width="9" height="7.11" fill="#9a9a96"/>
<ellipse cx="90" cy="639" rx="6" ry="3.2" fill="#b8b8b4"/>
<ellipse cx="90" cy="688.8" rx="6" ry="3.2" fill="#b8b8b4"/>
<rect x="72" y="638.5" width="36" height="50.8" rx="2.5" fill="url(#gUsb)"/>
<rect x="73.5" y="640" width="33" height="47.8" rx="2" fill="none" stroke="#f4f4f2" stroke-width="1"/>
<rect x="82.08" y="647.14" width="8.64" height="5.59" rx="1" fill="#2a2a2a"/>
<rect x="82.08" y="675.08" width="8.64" height="5.59" rx="1" fill="#2a2a2a"/>
<rect x="98.64" y="652.72" width="5.76" height="6.1" rx="0.5" fill="#555"/>
<rect x="98.64" y="668.98" width="5.76" height="6.1" rx="0.5" fill="#555"/>
<circle cx="120.5" cy="654" r="1" fill="#fff"/>
<text x="85.8" y="628.4" font-size="11.6" fill="#fff" font-weight="bold" textLength="31.6" lengthAdjust="spacingAndGlyphs">Power</text>
<rect x="188.2" y="394" width="77" height="120" fill="url(#gTape)"/>
<rect x="208" y="400" width="38" height="114" fill="#232323"/>
<rect x="221.4" y="354.5" width="1.2" height="6.5" fill="#c8c8c4"/>
<rect x="224" y="354.5" width="1.2" height="6.5" fill="#c8c8c4"/>
<rect x="226.6" y="354.5" width="1.2" height="6.5" fill="#c8c8c4"/>
<rect x="229.2" y="354.5" width="1.2" height="6.5" fill="#c8c8c4"/>
<rect x="231.8" y="354.5" width="1.2" height="6.5" fill="#c8c8c4"/>
<rect x="234.4" y="354.5" width="1.2" height="6.5" fill="#c8c8c4"/>
<rect x="237" y="354.5" width="1.2" height="6.5" fill="#c8c8c4"/>
<rect x="201" y="359.2" width="57.7" height="21.8" rx="2" fill="#e9e6e0"/>
<rect x="203.5" y="372" width="53" height="23" rx="2" fill="#dedad2"/>
<rect x="199.5" y="368" width="4.5" height="12" rx="1" fill="#bdbab4"/>
<rect x="256" y="368" width="4.5" height="12" rx="1" fill="#bdbab4"/>
<rect x="211.3" y="377.2" width="38.4" height="15.4" rx="1.5" fill="#24221f"/>
<rect x="221.5" y="378" width="1" height="5" fill="#8c8a84"/>
<rect x="224.1" y="378" width="1" height="5" fill="#8c8a84"/>
<rect x="226.7" y="378" width="1" height="5" fill="#8c8a84"/>
<rect x="229.3" y="378" width="1" height="5" fill="#8c8a84"/>
<rect x="231.9" y="378" width="1" height="5" fill="#8c8a84"/>
<rect x="234.5" y="378" width="1" height="5" fill="#8c8a84"/>
<rect x="237.1" y="378" width="1" height="5" fill="#8c8a84"/>
<rect x="166.4" y="513.5" width="121" height="132.5" fill="#0b0b0b" stroke="#3a3a3a" stroke-width="1.2"/>
<rect x="168.5" y="515.5" width="117" height="128.5" fill="url(#pRib)"/>
<rect x="274.5" y="360.5" width="61" height="11.5" rx="1.5" fill="#0c0c0c" stroke="#f2f2f2" stroke-width="1.4"/>
<rect x="276.5" y="362.9" width="17.13" height="6.7" fill="#5e5e5c"/>
<rect x="276.5" y="362.9" width="17.13" height="1.61" fill="#d8d8d4"/>
<rect x="276.5" y="367.99" width="17.13" height="1.61" fill="#d8d8d4"/>
<line x1="295.03" y1="360.5" x2="295.03" y2="372" stroke="#f2f2f2" stroke-width="1.1"/>
<rect x="296.43" y="362.9" width="17.13" height="6.7" fill="#8a6a50"/>
<rect x="296.43" y="362.9" width="17.13" height="1.61" fill="#d8d8d4"/>
<rect x="296.43" y="367.99" width="17.13" height="1.61" fill="#d8d8d4"/>
<line x1="314.97" y1="360.5" x2="314.97" y2="372" stroke="#f2f2f2" stroke-width="1.1"/>
<rect x="316.37" y="362.9" width="17.13" height="6.7" fill="#4c4c4a"/>
<rect x="316.37" y="362.9" width="17.13" height="1.61" fill="#d8d8d4"/>
<rect x="316.37" y="367.99" width="17.13" height="1.61" fill="#d8d8d4"/>
<rect x="278" y="379.42" width="15" height="2.25" fill="#bcbcb8"/>
<rect x="315.4" y="379.42" width="15" height="2.25" fill="#bcbcb8"/>
<rect x="278" y="383.52" width="15" height="2.25" fill="#bcbcb8"/>
<rect x="315.4" y="383.52" width="15" height="2.25" fill="#bcbcb8"/>
<rect x="278" y="387.62" width="15" height="2.25" fill="#bcbcb8"/>
<rect x="315.4" y="387.62" width="15" height="2.25" fill="#bcbcb8"/>
<rect x="278" y="391.72" width="15" height="2.25" fill="#bcbcb8"/>
<rect x="315.4" y="391.72" width="15" height="2.25" fill="#bcbcb8"/>
<rect x="278" y="395.82" width="15" height="2.25" fill="#bcbcb8"/>
<rect x="315.4" y="395.82" width="15" height="2.25" fill="#bcbcb8"/>
<rect x="278" y="399.92" width="15" height="2.25" fill="#bcbcb8"/>
<rect x="315.4" y="399.92" width="15" height="2.25" fill="#bcbcb8"/>
<rect x="278" y="404.02" width="15" height="2.25" fill="#bcbcb8"/>
<rect x="315.4" y="404.02" width="15" height="2.25" fill="#bcbcb8"/>
<rect x="278" y="408.12" width="15" height="2.25" fill="#bcbcb8"/>
<rect x="315.4" y="408.12" width="15" height="2.25" fill="#bcbcb8"/>
<rect x="278" y="412.22" width="15" height="2.25" fill="#bcbcb8"/>
<rect x="315.4" y="412.22" width="15" height="2.25" fill="#bcbcb8"/>
<rect x="278" y="416.32" width="15" height="2.25" fill="#bcbcb8"/>
<rect x="315.4" y="416.32" width="15" height="2.25" fill="#bcbcb8"/>
<rect x="292" y="378.5" width="24.4" height="41" rx="1" fill="#151515"/>
<rect x="299" y="376.8" width="5" height="2.7" fill="#d8d8d4"/>
<rect x="306" y="376.8" width="5" height="2.7" fill="#d8d8d4"/>
<rect x="296" y="420" width="22" height="12" fill="#1a1a1a"/>
<rect x="284.4" y="434.54" width="12.5" height="3.2" fill="#e0e0dc"/>
<rect x="318" y="434.54" width="12.5" height="3.2" fill="#e0e0dc"/>
<rect x="284.4" y="442.21" width="12.5" height="3.2" fill="#e0e0dc"/>
<rect x="318" y="442.21" width="12.5" height="3.2" fill="#e0e0dc"/>
<rect x="284.4" y="449.89" width="12.5" height="3.2" fill="#e0e0dc"/>
<rect x="318" y="449.89" width="12.5" height="3.2" fill="#e0e0dc"/>
<rect x="284.4" y="457.56" width="12.5" height="3.2" fill="#e0e0dc"/>
<rect x="318" y="457.56" width="12.5" height="3.2" fill="#e0e0dc"/>
<rect x="295.9" y="432.3" width="23.1" height="30.7" rx="1" fill="#151515"/>
<rect x="300" y="430.6" width="5" height="2.4" fill="#d8d8d4"/>
<rect x="308" y="430.6" width="5" height="2.4" fill="#d8d8d4"/>
<rect x="284.9" y="467.6" width="46.4" height="18.4" rx="1.5" fill="#0c0c0c" stroke="#f2f2f2" stroke-width="1.4"/>
<rect x="286.9" y="470" width="6.24" height="13.6" fill="#5e5e5c"/>
<rect x="286.9" y="470" width="6.24" height="3.26" fill="#d8d8d4"/>
<rect x="286.9" y="480.34" width="6.24" height="3.26" fill="#d8d8d4"/>
<line x1="294.54" y1="467.6" x2="294.54" y2="486" stroke="#f2f2f2" stroke-width="1.1"/>
<rect x="295.94" y="470" width="6.24" height="13.6" fill="#8a6a50"/>
<rect x="295.94" y="470" width="6.24" height="3.26" fill="#d8d8d4"/>
<rect x="295.94" y="480.34" width="6.24" height="3.26" fill="#d8d8d4"/>
<line x1="303.58" y1="467.6" x2="303.58" y2="486" stroke="#f2f2f2" stroke-width="1.1"/>
<rect x="304.98" y="470" width="6.24" height="13.6" fill="#4c4c4a"/>
<rect x="304.98" y="470" width="6.24" height="3.26" fill="#d8d8d4"/>
<rect x="304.98" y="480.34" width="6.24" height="3.26" fill="#d8d8d4"/>
<line x1="312.62" y1="467.6" x2="312.62" y2="486" stroke="#f2f2f2" stroke-width="1.1"/>
<rect x="314.02" y="470" width="6.24" height="13.6" fill="#6c625a"/>
<rect x="314.02" y="470" width="6.24" height="3.26" fill="#d8d8d4"/>
<rect x="314.02" y="480.34" width="6.24" height="3.26" fill="#d8d8d4"/>
<line x1="321.66" y1="467.6" x2="321.66" y2="486" stroke="#f2f2f2" stroke-width="1.1"/>
<rect x="323.06" y="470" width="6.24" height="13.6" fill="#946b4c"/>
<rect x="323.06" y="470" width="6.24" height="3.26" fill="#d8d8d4"/>
<rect x="323.06" y="480.34" width="6.24" height="3.26" fill="#d8d8d4"/>
<rect x="284.9" y="487.4" width="46.4" height="19.3" rx="1.5" fill="#0c0c0c" stroke="#f2f2f2" stroke-width="1.4"/>
<rect x="286.9" y="489.8" width="6.24" height="14.5" fill="#4c4c4a"/>
<rect x="286.9" y="489.8" width="6.24" height="3.48" fill="#d8d8d4"/>
<rect x="286.9" y="500.82" width="6.24" height="3.48" fill="#d8d8d4"/>
<line x1="294.54" y1="487.4" x2="294.54" y2="506.7" stroke="#f2f2f2" stroke-width="1.1"/>
<rect x="295.94" y="489.8" width="6.24" height="14.5" fill="#6c625a"/>
<rect x="295.94" y="489.8" width="6.24" height="3.48" fill="#d8d8d4"/>
<rect x="295.94" y="500.82" width="6.24" height="3.48" fill="#d8d8d4"/>
<line x1="303.58" y1="487.4" x2="303.58" y2="506.7" stroke="#f2f2f2" stroke-width="1.1"/>
<rect x="304.98" y="489.8" width="6.24" height="14.5" fill="#946b4c"/>
<rect x="304.98" y="489.8" width="6.24" height="3.48" fill="#d8d8d4"/>
<rect x="304.98" y="500.82" width="6.24" height="3.48" fill="#d8d8d4"/>
<line x1="312.62" y1="487.4" x2="312.62" y2="506.7" stroke="#f2f2f2" stroke-width="1.1"/>
<rect x="314.02" y="489.8" width="6.24" height="14.5" fill="#7c6a5c"/>
<rect x="314.02" y="489.8" width="6.24" height="3.48" fill="#d8d8d4"/>
<rect x="314.02" y="500.82" width="6.24" height="3.48" fill="#d8d8d4"/>
<line x1="321.66" y1="487.4" x2="321.66" y2="506.7" stroke="#f2f2f2" stroke-width="1.1"/>
<rect x="323.06" y="489.8" width="6.24" height="14.5" fill="#5e5e5c"/>
<rect x="323.06" y="489.8" width="6.24" height="3.48" fill="#d8d8d4"/>
<rect x="323.06" y="500.82" width="6.24" height="3.48" fill="#d8d8d4"/>
<rect x="367" y="385.5" width="3.5" height="8.5" fill="#b8b8b4"/>
<rect x="374.5" y="385.5" width="3.5" height="8.5" fill="#b8b8b4"/>
<rect x="358" y="360.5" width="29.7" height="26" rx="1.5" fill="#efe6d2"/>
<rect x="360" y="362.5" width="25.7" height="19" rx="1" fill="#f7f0e0"/>
<rect x="358" y="381.5" width="29.7" height="5" rx="1" fill="#d9cfb8"/>
<rect x="387.5" y="386.2" width="18.5" height="11.3" rx="1.5" fill="#0c0c0c" stroke="#f2f2f2" stroke-width="1.4"/>
<rect x="389.9" y="388.2" width="13.7" height="7.3" fill="#8a6a50"/>
<rect x="389.9" y="388.2" width="3.29" height="7.3" fill="#d8d8d4"/>
<rect x="400.31" y="388.2" width="3.29" height="7.3" fill="#d8d8d4"/>
<rect x="408" y="386.2" width="18.7" height="11.3" rx="1.5" fill="#0c0c0c" stroke="#f2f2f2" stroke-width="1.4"/>
<rect x="410.4" y="388.2" width="13.9" height="7.3" fill="#7c6a5c"/>
<rect x="410.4" y="388.2" width="3.34" height="7.3" fill="#d8d8d4"/>
<rect x="420.96" y="388.2" width="3.34" height="7.3" fill="#d8d8d4"/>
<g fill="#c9c9c5">
<rect x="362.75" y="415.6" width="1.5" height="11.4" fill="#c9c9c5"/>
<rect x="362.75" y="513" width="1.5" height="12.9" fill="#c9c9c5"/>
<rect x="365.37" y="415.6" width="1.5" height="11.4" fill="#c9c9c5"/>
<rect x="365.37" y="513" width="1.5" height="12.9" fill="#c9c9c5"/>
<rect x="367.99" y="415.6" width="1.5" height="11.4" fill="#c9c9c5"/>
<rect x="367.99" y="513" width="1.5" height="12.9" fill="#c9c9c5"/>
<rect x="370.62" y="415.6" width="1.5" height="11.4" fill="#c9c9c5"/>
<rect x="370.62" y="513" width="1.5" height="12.9" fill="#c9c9c5"/>
<rect x="373.24" y="415.6" width="1.5" height="11.4" fill="#c9c9c5"/>
<rect x="373.24" y="513" width="1.5" height="12.9" fill="#c9c9c5"/>
<rect x="375.86" y="415.6" width="1.5" height="11.4" fill="#c9c9c5"/>
<rect x="375.86" y="513" width="1.5" height="12.9" fill="#c9c9c5"/>
<rect x="378.48" y="415.6" width="1.5" height="11.4" fill="#c9c9c5"/>
<rect x="378.48" y="513" width="1.5" height="12.9" fill="#c9c9c5"/>
<rect x="381.11" y="415.6" width="1.5" height="11.4" fill="#c9c9c5"/>
<rect x="381.11" y="513" width="1.5" height="12.9" fill="#c9c9c5"/>
<rect x="383.73" y="415.6" width="1.5" height="11.4" fill="#c9c9c5"/>
<rect x="383.73" y="513" width="1.5" height="12.9" fill="#c9c9c5"/>
<rect x="386.35" y="415.6" width="1.5" height="11.4" fill="#c9c9c5"/>
<rect x="386.35" y="513" width="1.5" height="12.9" fill="#c9c9c5"/>
<rect x="388.97" y="415.6" width="1.5" height="11.4" fill="#c9c9c5"/>
<rect x="388.97" y="513" width="1.5" height="12.9" fill="#c9c9c5"/>
<rect x="391.59" y="415.6" width="1.5" height="11.4" fill="#c9c9c5"/>
<rect x="391.59" y="513" width="1.5" height="12.9" fill="#c9c9c5"/>
<rect x="394.22" y="415.6" width="1.5" height="11.4" fill="#c9c9c5"/>
<rect x="394.22" y="513" width="1.5" height="12.9" fill="#c9c9c5"/>
<rect x="396.84" y="415.6" width="1.5" height="11.4" fill="#c9c9c5"/>
<rect x="396.84" y="513" width="1.5" height="12.9" fill="#c9c9c5"/>
<rect x="399.46" y="415.6" width="1.5" height="11.4" fill="#c9c9c5"/>
<rect x="399.46" y="513" width="1.5" height="12.9" fill="#c9c9c5"/>
<rect x="402.08" y="415.6" width="1.5" height="11.4" fill="#c9c9c5"/>
<rect x="402.08" y="513" width="1.5" height="12.9" fill="#c9c9c5"/>
<rect x="404.71" y="415.6" width="1.5" height="11.4" fill="#c9c9c5"/>
<rect x="404.71" y="513" width="1.5" height="12.9" fill="#c9c9c5"/>
<rect x="407.33" y="415.6" width="1.5" height="11.4" fill="#c9c9c5"/>
<rect x="407.33" y="513" width="1.5" height="12.9" fill="#c9c9c5"/>
<rect x="409.95" y="415.6" width="1.5" height="11.4" fill="#c9c9c5"/>
<rect x="409.95" y="513" width="1.5" height="12.9" fill="#c9c9c5"/>
<rect x="412.57" y="415.6" width="1.5" height="11.4" fill="#c9c9c5"/>
<rect x="412.57" y="513" width="1.5" height="12.9" fill="#c9c9c5"/>
<rect x="415.19" y="415.6" width="1.5" height="11.4" fill="#c9c9c5"/>
<rect x="415.19" y="513" width="1.5" height="12.9" fill="#c9c9c5"/>
<rect x="417.82" y="415.6" width="1.5" height="11.4" fill="#c9c9c5"/>
<rect x="417.82" y="513" width="1.5" height="12.9" fill="#c9c9c5"/>
<rect x="420.44" y="415.6" width="1.5" height="11.4" fill="#c9c9c5"/>
<rect x="420.44" y="513" width="1.5" height="12.9" fill="#c9c9c5"/>
<rect x="423.06" y="415.6" width="1.5" height="11.4" fill="#c9c9c5"/>
<rect x="423.06" y="513" width="1.5" height="12.9" fill="#c9c9c5"/>
<rect x="425.68" y="415.6" width="1.5" height="11.4" fill="#c9c9c5"/>
<rect x="425.68" y="513" width="1.5" height="12.9" fill="#c9c9c5"/>
<rect x="428.31" y="415.6" width="1.5" height="11.4" fill="#c9c9c5"/>
<rect x="428.31" y="513" width="1.5" height="12.9" fill="#c9c9c5"/>
<rect x="430.93" y="415.6" width="1.5" height="11.4" fill="#c9c9c5"/>
<rect x="430.93" y="513" width="1.5" height="12.9" fill="#c9c9c5"/>
<rect x="433.55" y="415.6" width="1.5" height="11.4" fill="#c9c9c5"/>
<rect x="433.55" y="513" width="1.5" height="12.9" fill="#c9c9c5"/>
<rect x="436.17" y="415.6" width="1.5" height="11.4" fill="#c9c9c5"/>
<rect x="436.17" y="513" width="1.5" height="12.9" fill="#c9c9c5"/>
<rect x="438.79" y="415.6" width="1.5" height="11.4" fill="#c9c9c5"/>
<rect x="438.79" y="513" width="1.5" height="12.9" fill="#c9c9c5"/>
<rect x="441.42" y="415.6" width="1.5" height="11.4" fill="#c9c9c5"/>
<rect x="441.42" y="513" width="1.5" height="12.9" fill="#c9c9c5"/>
<rect x="444.04" y="415.6" width="1.5" height="11.4" fill="#c9c9c5"/>
<rect x="444.04" y="513" width="1.5" height="12.9" fill="#c9c9c5"/>
<rect x="446.66" y="415.6" width="1.5" height="11.4" fill="#c9c9c5"/>
<rect x="446.66" y="513" width="1.5" height="12.9" fill="#c9c9c5"/>
<rect x="449.28" y="415.6" width="1.5" height="11.4" fill="#c9c9c5"/>
<rect x="449.28" y="513" width="1.5" height="12.9" fill="#c9c9c5"/>
<rect x="451.91" y="415.6" width="1.5" height="11.4" fill="#c9c9c5"/>
<rect x="451.91" y="513" width="1.5" height="12.9" fill="#c9c9c5"/>
<rect x="454.53" y="415.6" width="1.5" height="11.4" fill="#c9c9c5"/>
<rect x="454.53" y="513" width="1.5" height="12.9" fill="#c9c9c5"/>
<rect x="457.15" y="415.6" width="1.5" height="11.4" fill="#c9c9c5"/>
<rect x="457.15" y="513" width="1.5" height="12.9" fill="#c9c9c5"/>
<rect x="459.77" y="415.6" width="1.5" height="11.4" fill="#c9c9c5"/>
<rect x="459.77" y="513" width="1.5" height="12.9" fill="#c9c9c5"/>
<rect x="462.39" y="415.6" width="1.5" height="11.4" fill="#c9c9c5"/>
<rect x="462.39" y="513" width="1.5" height="12.9" fill="#c9c9c5"/>
<rect x="465.02" y="415.6" width="1.5" height="11.4" fill="#c9c9c5"/>
<rect x="465.02" y="513" width="1.5" height="12.9" fill="#c9c9c5"/>
<rect x="467.64" y="415.6" width="1.5" height="11.4" fill="#c9c9c5"/>
<rect x="467.64" y="513" width="1.5" height="12.9" fill="#c9c9c5"/>
<rect x="470.26" y="415.6" width="1.5" height="11.4" fill="#c9c9c5"/>
<rect x="470.26" y="513" width="1.5" height="12.9" fill="#c9c9c5"/>
<rect x="472.88" y="415.6" width="1.5" height="11.4" fill="#c9c9c5"/>
<rect x="472.88" y="513" width="1.5" height="12.9" fill="#c9c9c5"/>
<rect x="475.51" y="415.6" width="1.5" height="11.4" fill="#c9c9c5"/>
<rect x="475.51" y="513" width="1.5" height="12.9" fill="#c9c9c5"/>
<rect x="478.13" y="415.6" width="1.5" height="11.4" fill="#c9c9c5"/>
<rect x="478.13" y="513" width="1.5" height="12.9" fill="#c9c9c5"/>
<rect x="480.75" y="415.6" width="1.5" height="11.4" fill="#c9c9c5"/>
<rect x="480.75" y="513" width="1.5" height="12.9" fill="#c9c9c5"/>
<rect x="349.2" y="429.75" width="10.8" height="1.5" fill="#c9c9c5"/>
<rect x="484.5" y="429.75" width="12.7" height="1.5" fill="#c9c9c5"/>
<rect x="349.2" y="432.3" width="10.8" height="1.5" fill="#c9c9c5"/>
<rect x="484.5" y="432.3" width="12.7" height="1.5" fill="#c9c9c5"/>
<rect x="349.2" y="434.85" width="10.8" height="1.5" fill="#c9c9c5"/>
<rect x="484.5" y="434.85" width="12.7" height="1.5" fill="#c9c9c5"/>
<rect x="349.2" y="437.4" width="10.8" height="1.5" fill="#c9c9c5"/>
<rect x="484.5" y="437.4" width="12.7" height="1.5" fill="#c9c9c5"/>
<rect x="349.2" y="439.94" width="10.8" height="1.5" fill="#c9c9c5"/>
<rect x="484.5" y="439.94" width="12.7" height="1.5" fill="#c9c9c5"/>
<rect x="349.2" y="442.49" width="10.8" height="1.5" fill="#c9c9c5"/>
<rect x="484.5" y="442.49" width="12.7" height="1.5" fill="#c9c9c5"/>
<rect x="349.2" y="445.04" width="10.8" height="1.5" fill="#c9c9c5"/>
<rect x="484.5" y="445.04" width="12.7" height="1.5" fill="#c9c9c5"/>
<rect x="349.2" y="447.59" width="10.8" height="1.5" fill="#c9c9c5"/>
<rect x="484.5" y="447.59" width="12.7" height="1.5" fill="#c9c9c5"/>
<rect x="349.2" y="450.14" width="10.8" height="1.5" fill="#c9c9c5"/>
<rect x="484.5" y="450.14" width="12.7" height="1.5" fill="#c9c9c5"/>
<rect x="349.2" y="452.69" width="10.8" height="1.5" fill="#c9c9c5"/>
<rect x="484.5" y="452.69" width="12.7" height="1.5" fill="#c9c9c5"/>
<rect x="349.2" y="455.23" width="10.8" height="1.5" fill="#c9c9c5"/>
<rect x="484.5" y="455.23" width="12.7" height="1.5" fill="#c9c9c5"/>
<rect x="349.2" y="457.78" width="10.8" height="1.5" fill="#c9c9c5"/>
<rect x="484.5" y="457.78" width="12.7" height="1.5" fill="#c9c9c5"/>
<rect x="349.2" y="460.33" width="10.8" height="1.5" fill="#c9c9c5"/>
<rect x="484.5" y="460.33" width="12.7" height="1.5" fill="#c9c9c5"/>
<rect x="349.2" y="462.88" width="10.8" height="1.5" fill="#c9c9c5"/>
<rect x="484.5" y="462.88" width="12.7" height="1.5" fill="#c9c9c5"/>
<rect x="349.2" y="465.43" width="10.8" height="1.5" fill="#c9c9c5"/>
<rect x="484.5" y="465.43" width="12.7" height="1.5" fill="#c9c9c5"/>
<rect x="349.2" y="467.98" width="10.8" height="1.5" fill="#c9c9c5"/>
<rect x="484.5" y="467.98" width="12.7" height="1.5" fill="#c9c9c5"/>
<rect x="349.2" y="470.52" width="10.8" height="1.5" fill="#c9c9c5"/>
<rect x="484.5" y="470.52" width="12.7" height="1.5" fill="#c9c9c5"/>
<rect x="349.2" y="473.07" width="10.8" height="1.5" fill="#c9c9c5"/>
<rect x="484.5" y="473.07" width="12.7" height="1.5" fill="#c9c9c5"/>
<rect x="349.2" y="475.62" width="10.8" height="1.5" fill="#c9c9c5"/>
<rect x="484.5" y="475.62" width="12.7" height="1.5" fill="#c9c9c5"/>
<rect x="349.2" y="478.17" width="10.8" height="1.5" fill="#c9c9c5"/>
<rect x="484.5" y="478.17" width="12.7" height="1.5" fill="#c9c9c5"/>
<rect x="349.2" y="480.72" width="10.8" height="1.5" fill="#c9c9c5"/>
<rect x="484.5" y="480.72" width="12.7" height="1.5" fill="#c9c9c5"/>
<rect x="349.2" y="483.27" width="10.8" height="1.5" fill="#c9c9c5"/>
<rect x="484.5" y="483.27" width="12.7" height="1.5" fill="#c9c9c5"/>
<rect x="349.2" y="485.81" width="10.8" height="1.5" fill="#c9c9c5"/>
<rect x="484.5" y="485.81" width="12.7" height="1.5" fill="#c9c9c5"/>
<rect x="349.2" y="488.36" width="10.8" height="1.5" fill="#c9c9c5"/>
<rect x="484.5" y="488.36" width="12.7" height="1.5" fill="#c9c9c5"/>
<rect x="349.2" y="490.91" width="10.8" height="1.5" fill="#c9c9c5"/>
<rect x="484.5" y="490.91" width="12.7" height="1.5" fill="#c9c9c5"/>
<rect x="349.2" y="493.46" width="10.8" height="1.5" fill="#c9c9c5"/>
<rect x="484.5" y="493.46" width="12.7" height="1.5" fill="#c9c9c5"/>
<rect x="349.2" y="496.01" width="10.8" height="1.5" fill="#c9c9c5"/>
<rect x="484.5" y="496.01" width="12.7" height="1.5" fill="#c9c9c5"/>
<rect x="349.2" y="498.56" width="10.8" height="1.5" fill="#c9c9c5"/>
<rect x="484.5" y="498.56" width="12.7" height="1.5" fill="#c9c9c5"/>
<rect x="349.2" y="501.1" width="10.8" height="1.5" fill="#c9c9c5"/>
<rect x="484.5" y="501.1" width="12.7" height="1.5" fill="#c9c9c5"/>
<rect x="349.2" y="503.65" width="10.8" height="1.5" fill="#c9c9c5"/>
<rect x="484.5" y="503.65" width="12.7" height="1.5" fill="#c9c9c5"/>
<rect x="349.2" y="506.2" width="10.8" height="1.5" fill="#c9c9c5"/>
<rect x="484.5" y="506.2" width="12.7" height="1.5" fill="#c9c9c5"/>
<rect x="349.2" y="508.75" width="10.8" height="1.5" fill="#c9c9c5"/>
<rect x="484.5" y="508.75" width="12.7" height="1.5" fill="#c9c9c5"/>
</g>
<rect x="358.7" y="425.9" width="126.9" height="88.5" rx="2" fill="url(#gChip)"/>
<rect x="360.2" y="427.4" width="123.9" height="85.5" rx="2" fill="none" stroke="#3a3a3a" stroke-width="1"/>
<g transform="rotate(180 422 470)" fill="#5e5e5b" font-weight="normal">
<text x="413.2" y="459.3" font-size="16.6" textLength="55.7" lengthAdjust="spacingAndGlyphs">RTD2660H</text>
<text x="420.5" y="475.1" font-size="15.6" textLength="48.4" lengthAdjust="spacingAndGlyphs">KCAN9E2</text>
<text x="418" y="488.4" font-size="8.4" textLength="50.9" lengthAdjust="spacingAndGlyphs">GK49S TAIWAN</text>
</g>
<g fill="#6e6c66">
<path d="M433 492.2 L433 484.5 L437.5 480 L444.5 470.5 L448 473 L444 480 L441 483 L441 492.2 Z"/>
<path d="M465 492.2 L465 484.5 L460.5 480 L453.5 470.5 L450 473 L454 480 L457 483 L457 492.2 Z"/>
<path d="M443.5 470 L454.5 470 L456 476 L449 481 L442 476 Z"/>
</g>
<path d="M446 483.5 A3.4 3.4 0 1 0 452 483.5" fill="none" stroke="#6e6c66" stroke-width="1.3"/>
<g fill="none" stroke="#62605a" stroke-width="1">
<path d="M434.5 470 A2.5 2.5 0 0 1 437 467.5"/>
<path d="M463.5 470 A2.5 2.5 0 0 0 461 467.5"/>
<path d="M432.5 470 A4.5 4.5 0 0 1 437 465.5"/>
<path d="M465.5 470 A4.5 4.5 0 0 0 461 465.5"/>
<path d="M430.5 470 A6.5 6.5 0 0 1 437 463.5"/>
<path d="M467.5 470 A6.5 6.5 0 0 0 461 463.5"/>
</g>
<rect x="383" y="542.6" width="11.6" height="20" rx="1.5" fill="#0c0c0c" stroke="#f2f2f2" stroke-width="1.4"/>
<rect x="385" y="545" width="7.6" height="15.2" fill="#8a6a50"/>
<rect x="385" y="545" width="7.6" height="3.65" fill="#d8d8d4"/>
<rect x="385" y="556.55" width="7.6" height="3.65" fill="#d8d8d4"/>
<rect x="420.3" y="542.6" width="12" height="20" rx="1.5" fill="#0c0c0c" stroke="#f2f2f2" stroke-width="1.4"/>
<rect x="422.3" y="545" width="8" height="15.2" fill="#8a6a50"/>
<rect x="422.3" y="545" width="8" height="3.65" fill="#d8d8d4"/>
<rect x="422.3" y="556.55" width="8" height="3.65" fill="#d8d8d4"/>
<rect x="326" y="531.55" width="9" height="2.2" fill="#c8c8c4"/>
<rect x="326" y="536.6" width="9" height="2.2" fill="#c8c8c4"/>
<rect x="326" y="541.65" width="9" height="2.2" fill="#c8c8c4"/>
<rect x="326" y="546.7" width="9" height="2.2" fill="#c8c8c4"/>
<rect x="326" y="551.75" width="9" height="2.2" fill="#c8c8c4"/>
<rect x="325" y="521.54" width="9" height="7.07" fill="#9a9a96"/>
<rect x="325" y="556.89" width="9" height="7.07" fill="#9a9a96"/>
<ellipse cx="308.9" cy="518" rx="6" ry="3.2" fill="#b8b8b4"/>
<ellipse cx="308.9" cy="567.5" rx="6" ry="3.2" fill="#b8b8b4"/>
<rect x="290.8" y="517.5" width="36.2" height="50.5" rx="2.5" fill="url(#gUsb)"/>
<rect x="292.3" y="519" width="33.2" height="47.5" rx="2" fill="none" stroke="#f4f4f2" stroke-width="1"/>
<rect x="300.94" y="526.09" width="8.69" height="5.55" rx="1" fill="#2a2a2a"/>
<rect x="300.94" y="553.86" width="8.69" height="5.55" rx="1" fill="#2a2a2a"/>
<rect x="317.59" y="531.64" width="5.79" height="6.06" rx="0.5" fill="#555"/>
<rect x="317.59" y="547.8" width="5.79" height="6.06" rx="0.5" fill="#555"/>
<circle cx="337.8" cy="534" r="1" fill="#fff"/>
<text x="349.8" y="558.5" font-size="12" fill="#fff" font-weight="bold" textLength="34" lengthAdjust="spacingAndGlyphs" transform="rotate(-90 349.8 558.5)">Touch</text>
<rect x="324" y="612.8" width="29.8" height="30" rx="1" fill="#0c0c0c" stroke="#f2f2f2" stroke-width="1.6"/>
<rect x="327.5" y="616.3" width="22.8" height="23" rx="5" fill="#4e4e4e"/>
<rect x="329.5" y="618.3" width="18.8" height="19" rx="4" fill="#3a3a3a"/>
<text x="338.9" y="631.76" font-size="11" fill="#7e7e7e" text-anchor="middle" transform="rotate(-90 338.9 627.8)">C</text>
<circle cx="337" cy="631.8" r="1.6" fill="#8a8a8a"/>
<rect x="364.97" y="617.3" width="2.4" height="5.5" fill="#dadad6"/>
<rect x="364.97" y="630.8" width="2.4" height="5.5" fill="#dadad6"/>
<rect x="369.3" y="617.3" width="2.4" height="5.5" fill="#dadad6"/>
<rect x="369.3" y="630.8" width="2.4" height="5.5" fill="#dadad6"/>
<rect x="373.63" y="617.3" width="2.4" height="5.5" fill="#dadad6"/>
<rect x="373.63" y="630.8" width="2.4" height="5.5" fill="#dadad6"/>
<rect x="364" y="621.8" width="13" height="10" rx="1" fill="#151515"/>
<rect x="383" y="613.8" width="23.5" height="13" rx="1.5" fill="#0c0c0c" stroke="#f2f2f2" stroke-width="1.4"/>
<rect x="385.4" y="615.8" width="18.7" height="9" fill="#8a6a50"/>
<rect x="385.4" y="615.8" width="4.49" height="9" fill="#d8d8d4"/>
<rect x="399.61" y="615.8" width="4.49" height="9" fill="#d8d8d4"/>
<rect x="324" y="667.6" width="29.8" height="30" rx="1" fill="#0c0c0c" stroke="#f2f2f2" stroke-width="1.6"/>
<rect x="327.5" y="671.1" width="22.8" height="23" rx="5" fill="#4e4e4e"/>
<rect x="329.5" y="673.1" width="18.8" height="19" rx="4" fill="#3a3a3a"/>
<text x="338.9" y="686.56" font-size="11" fill="#7e7e7e" text-anchor="middle" transform="rotate(-90 338.9 682.6)">C</text>
<circle cx="337" cy="686.6" r="1.6" fill="#8a8a8a"/>
<rect x="364.97" y="672.1" width="2.4" height="5.5" fill="#dadad6"/>
<rect x="364.97" y="685.6" width="2.4" height="5.5" fill="#dadad6"/>
<rect x="369.3" y="672.1" width="2.4" height="5.5" fill="#dadad6"/>
<rect x="369.3" y="685.6" width="2.4" height="5.5" fill="#dadad6"/>
<rect x="373.63" y="672.1" width="2.4" height="5.5" fill="#dadad6"/>
<rect x="373.63" y="685.6" width="2.4" height="5.5" fill="#dadad6"/>
<rect x="364" y="676.6" width="13" height="10" rx="1" fill="#151515"/>
<rect x="383" y="668.6" width="23.5" height="13" rx="1.5" fill="#0c0c0c" stroke="#f2f2f2" stroke-width="1.4"/>
<rect x="385.4" y="670.6" width="18.7" height="9" fill="#8a6a50"/>
<rect x="385.4" y="670.6" width="4.49" height="9" fill="#d8d8d4"/>
<rect x="399.61" y="670.6" width="4.49" height="9" fill="#d8d8d4"/>
<rect x="388.4" y="631.5" width="13.2" height="5" fill="#5e5e5c"/>
<rect x="388.4" y="631.5" width="3.17" height="5" fill="#d8d8d4"/>
<rect x="398.43" y="631.5" width="3.17" height="5" fill="#d8d8d4"/>
<rect x="326" y="646.5" width="23" height="13" rx="1.5" fill="#0c0c0c" stroke="#f2f2f2" stroke-width="1.4"/>
<rect x="328.4" y="648.5" width="18.2" height="9" fill="#7c6a5c"/>
<rect x="328.4" y="648.5" width="4.37" height="9" fill="#d8d8d4"/>
<rect x="342.23" y="648.5" width="4.37" height="9" fill="#d8d8d4"/>
<rect x="358.5" y="648" width="19.5" height="10" rx="1.5" fill="#0c0c0c" stroke="#f2f2f2" stroke-width="1.4"/>
<rect x="360.9" y="650" width="14.7" height="6" fill="#5e5e5c"/>
<rect x="360.9" y="650" width="3.53" height="6" fill="#d8d8d4"/>
<rect x="372.07" y="650" width="3.53" height="6" fill="#d8d8d4"/>
<rect x="384" y="646.5" width="22" height="12" rx="1.5" fill="#0c0c0c" stroke="#f2f2f2" stroke-width="1.4"/>
<rect x="386.4" y="648.5" width="17.2" height="8" fill="#6c625a"/>
<rect x="386.4" y="648.5" width="4.13" height="8" fill="#d8d8d4"/>
<rect x="399.47" y="648.5" width="4.13" height="8" fill="#d8d8d4"/>
<rect x="385" y="683" width="20.5" height="10" rx="1.5" fill="#0c0c0c" stroke="#f2f2f2" stroke-width="1.4"/>
<rect x="387.4" y="685" width="15.7" height="6" fill="#5e5e5c"/>
<rect x="387.4" y="685" width="3.77" height="6" fill="#d8d8d4"/>
<rect x="399.33" y="685" width="3.77" height="6" fill="#d8d8d4"/>
<rect x="385" y="694.5" width="20.5" height="9.5" rx="1.5" fill="#0c0c0c" stroke="#f2f2f2" stroke-width="1.4"/>
<rect x="387.4" y="696.5" width="15.7" height="5.5" fill="#4c4c4a"/>
<rect x="387.4" y="696.5" width="3.77" height="5.5" fill="#d8d8d4"/>
<rect x="399.33" y="696.5" width="3.77" height="5.5" fill="#d8d8d4"/>
<rect x="385" y="705.5" width="20.5" height="7" rx="1.5" fill="#0c0c0c" stroke="#f2f2f2" stroke-width="1.4"/>
<rect x="387.4" y="707.5" width="15.7" height="3" fill="#5e5e5c"/>
<rect x="387.4" y="707.5" width="3.77" height="3" fill="#d8d8d4"/>
<rect x="399.33" y="707.5" width="3.77" height="3" fill="#d8d8d4"/>
<rect x="326" y="701" width="23" height="13" rx="1.5" fill="#0c0c0c" stroke="#f2f2f2" stroke-width="1.4"/>
<rect x="328.4" y="703" width="18.2" height="9" fill="#7c6a5c"/>
<rect x="328.4" y="703" width="4.37" height="9" fill="#d8d8d4"/>
<rect x="342.23" y="703" width="4.37" height="9" fill="#d8d8d4"/>
<rect x="358.5" y="702" width="19.5" height="10" rx="1.5" fill="#0c0c0c" stroke="#f2f2f2" stroke-width="1.4"/>
<rect x="360.9" y="704" width="14.7" height="6" fill="#5e5e5c"/>
<rect x="360.9" y="704" width="3.53" height="6" fill="#d8d8d4"/>
<rect x="372.07" y="704" width="3.53" height="6" fill="#d8d8d4"/>
<rect x="610.2" y="414" width="1.6" height="16" fill="#b4b4b0"/>
<rect x="613.32" y="414" width="1.6" height="16" fill="#b4b4b0"/>
<rect x="616.44" y="414" width="1.6" height="16" fill="#b4b4b0"/>
<rect x="619.56" y="414" width="1.6" height="16" fill="#b4b4b0"/>
<rect x="622.68" y="414" width="1.6" height="16" fill="#b4b4b0"/>
<rect x="625.8" y="414" width="1.6" height="16" fill="#b4b4b0"/>
<rect x="628.92" y="414" width="1.6" height="16" fill="#b4b4b0"/>
<rect x="632.04" y="414" width="1.6" height="16" fill="#b4b4b0"/>
<rect x="635.16" y="414" width="1.6" height="16" fill="#b4b4b0"/>
<rect x="638.28" y="414" width="1.6" height="16" fill="#b4b4b0"/>
<rect x="641.4" y="414" width="1.6" height="16" fill="#b4b4b0"/>
<rect x="644.52" y="414" width="1.6" height="16" fill="#b4b4b0"/>
<rect x="647.64" y="414" width="1.6" height="16" fill="#b4b4b0"/>
<rect x="650.76" y="414" width="1.6" height="16" fill="#b4b4b0"/>
<rect x="653.88" y="414" width="1.6" height="16" fill="#b4b4b0"/>
<rect x="657" y="414" width="1.6" height="16" fill="#b4b4b0"/>
<rect x="660.12" y="414" width="1.6" height="16" fill="#b4b4b0"/>
<rect x="663.24" y="414" width="1.6" height="16" fill="#b4b4b0"/>
<rect x="666.36" y="414" width="1.6" height="16" fill="#b4b4b0"/>
<ellipse cx="590.5" cy="378" rx="3" ry="7" fill="#c8c8c4"/>
<ellipse cx="687.5" cy="378" rx="3" ry="7" fill="#c8c8c4"/>
<rect x="589" y="400" width="100" height="28" rx="2" fill="#2a2a2a"/>
<rect x="589" y="404" width="18" height="24" rx="1.5" fill="#a6a39c"/>
<rect x="671" y="404" width="18" height="24" rx="1.5" fill="#a6a39c"/>
<rect x="594" y="416" width="12" height="8" fill="#2e2e2e"/>
<rect x="672" y="416" width="12" height="8" fill="#2e2e2e"/>
<rect x="589.8" y="404.8" width="98.4" height="22.4" rx="2" fill="none" stroke="#d8d4cc" stroke-width="1.4"/>
<rect x="591.5" y="350.5" width="95" height="61.5" rx="3" fill="url(#gHdmiC)" filter="url(#fGrain)"/>
<rect x="592.5" y="351.5" width="93" height="59.5" rx="3" fill="none" stroke="#d2cec6" stroke-width="1.6"/>
<path d="M593.5 396 L684.5 396 L668.5 420 L609.5 420 Z" fill="#8e8a82"/>
<rect x="609" y="417" width="60" height="4" fill="#77736c"/>
<rect x="603" y="359" width="16" height="34" rx="4" fill="#e8e5de"/>
<rect x="605.2" y="359" width="11.6" height="31.5" rx="3" fill="#4a4640"/>
<rect x="607.8" y="359" width="6.4" height="27" rx="2" fill="#8e8a82"/>
<rect x="660" y="359" width="16" height="34" rx="4" fill="#e8e5de"/>
<rect x="662.2" y="359" width="11.6" height="31.5" rx="3" fill="#4a4640"/>
<rect x="664.8" y="359" width="6.4" height="27" rx="2" fill="#8e8a82"/>
<rect x="596" y="396" width="10" height="7" rx="1" fill="#c9c5bd"/>
<rect x="672" y="396" width="10" height="7" rx="1" fill="#c9c5bd"/>
<rect x="513.8" y="407" width="21.3" height="22.5" rx="1.5" fill="#0c0c0c" stroke="#f2f2f2" stroke-width="1.4"/>
<rect x="516.2" y="409" width="16.5" height="7.85" fill="#5e5e5c"/>
<rect x="516.2" y="409" width="3.96" height="7.85" fill="#d8d8d4"/>
<rect x="528.74" y="409" width="3.96" height="7.85" fill="#d8d8d4"/>
<line x1="513.8" y1="418.25" x2="535.1" y2="418.25" stroke="#f2f2f2" stroke-width="1.1"/>
<rect x="516.2" y="419.65" width="16.5" height="7.85" fill="#8a6a50"/>
<rect x="516.2" y="419.65" width="3.96" height="7.85" fill="#d8d8d4"/>
<rect x="528.74" y="419.65" width="3.96" height="7.85" fill="#d8d8d4"/>
<rect x="513.8" y="431.5" width="21.3" height="12.5" rx="1.5" fill="#0c0c0c" stroke="#f2f2f2" stroke-width="1.4"/>
<rect x="516.2" y="433.5" width="16.5" height="8.5" fill="#8a6a50"/>
<rect x="516.2" y="433.5" width="3.96" height="8.5" fill="#d8d8d4"/>
<rect x="528.74" y="433.5" width="3.96" height="8.5" fill="#d8d8d4"/>
<rect x="516.9" y="448" width="15.2" height="7.4" fill="#4c4c4a"/>
<rect x="516.9" y="448" width="3.65" height="7.4" fill="#d8d8d4"/>
<rect x="528.45" y="448" width="3.65" height="7.4" fill="#d8d8d4"/>
<rect x="516.9" y="458.2" width="15.2" height="7.4" fill="#6c625a"/>
<rect x="516.9" y="458.2" width="3.65" height="7.4" fill="#d8d8d4"/>
<rect x="528.45" y="458.2" width="3.65" height="7.4" fill="#d8d8d4"/>
<rect x="516.9" y="468.4" width="15.2" height="7.4" fill="#946b4c"/>
<rect x="516.9" y="468.4" width="3.65" height="7.4" fill="#d8d8d4"/>
<rect x="528.45" y="468.4" width="3.65" height="7.4" fill="#d8d8d4"/>
<rect x="516.9" y="478.6" width="15.2" height="7.4" fill="#7c6a5c"/>
<rect x="516.9" y="478.6" width="3.65" height="7.4" fill="#d8d8d4"/>
<rect x="528.45" y="478.6" width="3.65" height="7.4" fill="#d8d8d4"/>
<rect x="513.8" y="489.5" width="21.3" height="20" rx="1.5" fill="#0c0c0c" stroke="#f2f2f2" stroke-width="1.4"/>
<rect x="516.2" y="491.5" width="16.5" height="6.6" fill="#8a6a50"/>
<rect x="516.2" y="491.5" width="3.96" height="6.6" fill="#d8d8d4"/>
<rect x="528.74" y="491.5" width="3.96" height="6.6" fill="#d8d8d4"/>
<line x1="513.8" y1="499.5" x2="535.1" y2="499.5" stroke="#f2f2f2" stroke-width="1.1"/>
<rect x="516.2" y="500.9" width="16.5" height="6.6" fill="#4c4c4a"/>
<rect x="516.2" y="500.9" width="3.96" height="6.6" fill="#d8d8d4"/>
<rect x="528.74" y="500.9" width="3.96" height="6.6" fill="#d8d8d4"/>
<rect x="513.8" y="431.5" width="21.3" height="78" rx="2" fill="none" stroke="#f2f2f2" stroke-width="1.3"/>
<rect x="555" y="436.4" width="19.9" height="10.6" rx="1.5" fill="#0c0c0c" stroke="#f2f2f2" stroke-width="1.4"/>
<rect x="557.4" y="438.4" width="15.1" height="6.6" fill="#5e5e5c"/>
<rect x="557.4" y="438.4" width="3.62" height="6.6" fill="#d8d8d4"/>
<rect x="568.88" y="438.4" width="3.62" height="6.6" fill="#d8d8d4"/>
<rect x="545.4" y="448.5" width="9.6" height="16.1" rx="1.5" fill="#0c0c0c" stroke="#f2f2f2" stroke-width="1.4"/>
<rect x="547.4" y="450.9" width="5.6" height="11.3" fill="#5e5e5c"/>
<rect x="547.4" y="450.9" width="5.6" height="2.71" fill="#d8d8d4"/>
<rect x="547.4" y="459.49" width="5.6" height="2.71" fill="#d8d8d4"/>
<rect x="556.5" y="448.5" width="18.4" height="7.5" rx="1.5" fill="#0c0c0c" stroke="#f2f2f2" stroke-width="1.4"/>
<rect x="558.9" y="450.5" width="13.6" height="3.5" fill="#6c625a"/>
<rect x="558.9" y="450.5" width="3.26" height="3.5" fill="#d8d8d4"/>
<rect x="569.24" y="450.5" width="3.26" height="3.5" fill="#d8d8d4"/>
<rect x="556.5" y="457.5" width="18.4" height="7.1" rx="1.5" fill="#0c0c0c" stroke="#f2f2f2" stroke-width="1.4"/>
<rect x="558.9" y="459.5" width="13.6" height="3.1" fill="#4c4c4a"/>
<rect x="558.9" y="459.5" width="3.26" height="3.1" fill="#d8d8d4"/>
<rect x="569.24" y="459.5" width="3.26" height="3.1" fill="#d8d8d4"/>
<rect x="537.2" y="471" width="11" height="3" fill="#e0e0dc"/>
<rect x="572.6" y="471" width="11" height="3" fill="#e0e0dc"/>
<rect x="537.2" y="479" width="11" height="3" fill="#e0e0dc"/>
<rect x="572.6" y="479" width="11" height="3" fill="#e0e0dc"/>
<rect x="537.2" y="487" width="11" height="3" fill="#e0e0dc"/>
<rect x="572.6" y="487" width="11" height="3" fill="#e0e0dc"/>
<rect x="537.2" y="495" width="11" height="3" fill="#e0e0dc"/>
<rect x="572.6" y="495" width="11" height="3" fill="#e0e0dc"/>
<rect x="547.2" y="468.5" width="26.4" height="32" rx="1" fill="#151515"/>
<rect x="587.2" y="454.9" width="22.3" height="26.4" rx="2" fill="#0c0c0c" stroke="#f2f2f2" stroke-width="1.4"/>
<rect x="590.5" y="458.5" width="15.5" height="19" rx="1" fill="#8e8e8c"/>
<rect x="595.5" y="464" width="5.5" height="7" fill="#a89088"/>
<circle cx="586.5" cy="454" r="1" fill="#fff"/>
<rect x="609.5" y="460.8" width="64.1" height="20.5" rx="1.5" fill="#0c0c0c" stroke="#f2f2f2" stroke-width="1.4"/>
<rect x="611.5" y="463.2" width="6.19" height="15.7" fill="#5e5e5c"/>
<rect x="611.5" y="463.2" width="6.19" height="3.77" fill="#d8d8d4"/>
<rect x="611.5" y="475.13" width="6.19" height="3.77" fill="#d8d8d4"/>
<line x1="619.09" y1="460.8" x2="619.09" y2="481.3" stroke="#f2f2f2" stroke-width="1.1"/>
<rect x="620.49" y="463.2" width="6.19" height="15.7" fill="#8a6a50"/>
<rect x="620.49" y="463.2" width="6.19" height="3.77" fill="#d8d8d4"/>
<rect x="620.49" y="475.13" width="6.19" height="3.77" fill="#d8d8d4"/>
<line x1="628.07" y1="460.8" x2="628.07" y2="481.3" stroke="#f2f2f2" stroke-width="1.1"/>
<rect x="629.47" y="463.2" width="6.19" height="15.7" fill="#4c4c4a"/>
<rect x="629.47" y="463.2" width="6.19" height="3.77" fill="#d8d8d4"/>
<rect x="629.47" y="475.13" width="6.19" height="3.77" fill="#d8d8d4"/>
<line x1="637.06" y1="460.8" x2="637.06" y2="481.3" stroke="#f2f2f2" stroke-width="1.1"/>
<rect x="638.46" y="463.2" width="6.19" height="15.7" fill="#6c625a"/>
<rect x="638.46" y="463.2" width="6.19" height="3.77" fill="#d8d8d4"/>
<rect x="638.46" y="475.13" width="6.19" height="3.77" fill="#d8d8d4"/>
<line x1="646.04" y1="460.8" x2="646.04" y2="481.3" stroke="#f2f2f2" stroke-width="1.1"/>
<rect x="647.44" y="463.2" width="6.19" height="15.7" fill="#946b4c"/>
<rect x="647.44" y="463.2" width="6.19" height="3.77" fill="#d8d8d4"/>
<rect x="647.44" y="475.13" width="6.19" height="3.77" fill="#d8d8d4"/>
<line x1="655.03" y1="460.8" x2="655.03" y2="481.3" stroke="#f2f2f2" stroke-width="1.1"/>
<rect x="656.43" y="463.2" width="6.19" height="15.7" fill="#7c6a5c"/>
<rect x="656.43" y="463.2" width="6.19" height="3.77" fill="#d8d8d4"/>
<rect x="656.43" y="475.13" width="6.19" height="3.77" fill="#d8d8d4"/>
<line x1="664.01" y1="460.8" x2="664.01" y2="481.3" stroke="#f2f2f2" stroke-width="1.1"/>
<rect x="665.41" y="463.2" width="6.19" height="15.7" fill="#5e5e5c"/>
<rect x="665.41" y="463.2" width="6.19" height="3.77" fill="#d8d8d4"/>
<rect x="665.41" y="475.13" width="6.19" height="3.77" fill="#d8d8d4"/>
<rect x="586.4" y="485.1" width="128.2" height="21.8" rx="1.5" fill="#0c0c0c" stroke="#f2f2f2" stroke-width="1.4"/>
<rect x="588.4" y="487.5" width="6.97" height="17" fill="#7c6a5c"/>
<rect x="588.4" y="487.5" width="6.97" height="4.08" fill="#d8d8d4"/>
<rect x="588.4" y="500.42" width="6.97" height="4.08" fill="#d8d8d4"/>
<line x1="596.77" y1="485.1" x2="596.77" y2="506.9" stroke="#f2f2f2" stroke-width="1.1"/>
<rect x="598.17" y="487.5" width="6.97" height="17" fill="#5e5e5c"/>
<rect x="598.17" y="487.5" width="6.97" height="4.08" fill="#d8d8d4"/>
<rect x="598.17" y="500.42" width="6.97" height="4.08" fill="#d8d8d4"/>
<line x1="606.54" y1="485.1" x2="606.54" y2="506.9" stroke="#f2f2f2" stroke-width="1.1"/>
<rect x="607.94" y="487.5" width="6.97" height="17" fill="#8a6a50"/>
<rect x="607.94" y="487.5" width="6.97" height="4.08" fill="#d8d8d4"/>
<rect x="607.94" y="500.42" width="6.97" height="4.08" fill="#d8d8d4"/>
<line x1="616.31" y1="485.1" x2="616.31" y2="506.9" stroke="#f2f2f2" stroke-width="1.1"/>
<rect x="617.71" y="487.5" width="6.97" height="17" fill="#4c4c4a"/>
<rect x="617.71" y="487.5" width="6.97" height="4.08" fill="#d8d8d4"/>
<rect x="617.71" y="500.42" width="6.97" height="4.08" fill="#d8d8d4"/>
<line x1="626.08" y1="485.1" x2="626.08" y2="506.9" stroke="#f2f2f2" stroke-width="1.1"/>
<rect x="627.48" y="487.5" width="6.97" height="17" fill="#6c625a"/>
<rect x="627.48" y="487.5" width="6.97" height="4.08" fill="#d8d8d4"/>
<rect x="627.48" y="500.42" width="6.97" height="4.08" fill="#d8d8d4"/>
<line x1="635.85" y1="485.1" x2="635.85" y2="506.9" stroke="#f2f2f2" stroke-width="1.1"/>
<rect x="637.25" y="487.5" width="6.97" height="17" fill="#946b4c"/>
<rect x="637.25" y="487.5" width="6.97" height="4.08" fill="#d8d8d4"/>
<rect x="637.25" y="500.42" width="6.97" height="4.08" fill="#d8d8d4"/>
<line x1="645.62" y1="485.1" x2="645.62" y2="506.9" stroke="#f2f2f2" stroke-width="1.1"/>
<rect x="647.02" y="487.5" width="6.97" height="17" fill="#7c6a5c"/>
<rect x="647.02" y="487.5" width="6.97" height="4.08" fill="#d8d8d4"/>
<rect x="647.02" y="500.42" width="6.97" height="4.08" fill="#d8d8d4"/>
<line x1="655.38" y1="485.1" x2="655.38" y2="506.9" stroke="#f2f2f2" stroke-width="1.1"/>
<rect x="656.78" y="487.5" width="6.97" height="17" fill="#5e5e5c"/>
<rect x="656.78" y="487.5" width="6.97" height="4.08" fill="#d8d8d4"/>
<rect x="656.78" y="500.42" width="6.97" height="4.08" fill="#d8d8d4"/>
<line x1="665.15" y1="485.1" x2="665.15" y2="506.9" stroke="#f2f2f2" stroke-width="1.1"/>
<rect x="666.55" y="487.5" width="6.97" height="17" fill="#8a6a50"/>
<rect x="666.55" y="487.5" width="6.97" height="4.08" fill="#d8d8d4"/>
<rect x="666.55" y="500.42" width="6.97" height="4.08" fill="#d8d8d4"/>
<line x1="674.92" y1="485.1" x2="674.92" y2="506.9" stroke="#f2f2f2" stroke-width="1.1"/>
<rect x="676.32" y="487.5" width="6.97" height="17" fill="#4c4c4a"/>
<rect x="676.32" y="487.5" width="6.97" height="4.08" fill="#d8d8d4"/>
<rect x="676.32" y="500.42" width="6.97" height="4.08" fill="#d8d8d4"/>
<line x1="684.69" y1="485.1" x2="684.69" y2="506.9" stroke="#f2f2f2" stroke-width="1.1"/>
<rect x="686.09" y="487.5" width="6.97" height="17" fill="#6c625a"/>
<rect x="686.09" y="487.5" width="6.97" height="4.08" fill="#d8d8d4"/>
<rect x="686.09" y="500.42" width="6.97" height="4.08" fill="#d8d8d4"/>
<line x1="694.46" y1="485.1" x2="694.46" y2="506.9" stroke="#f2f2f2" stroke-width="1.1"/>
<rect x="695.86" y="487.5" width="6.97" height="17" fill="#946b4c"/>
<rect x="695.86" y="487.5" width="6.97" height="4.08" fill="#d8d8d4"/>
<rect x="695.86" y="500.42" width="6.97" height="4.08" fill="#d8d8d4"/>
<line x1="704.23" y1="485.1" x2="704.23" y2="506.9" stroke="#f2f2f2" stroke-width="1.1"/>
<rect x="705.63" y="487.5" width="6.97" height="17" fill="#7c6a5c"/>
<rect x="705.63" y="487.5" width="6.97" height="4.08" fill="#d8d8d4"/>
<rect x="705.63" y="500.42" width="6.97" height="4.08" fill="#d8d8d4"/>
<rect x="679.75" y="459.5" width="3.5" height="4.5" fill="#e0e0dc"/>
<rect x="679.75" y="477" width="3.5" height="4.5" fill="#e0e0dc"/>
<rect x="686.75" y="459.5" width="3.5" height="4.5" fill="#e0e0dc"/>
<rect x="686.75" y="477" width="3.5" height="4.5" fill="#e0e0dc"/>
<rect x="678" y="463" width="14" height="15" rx="1" fill="#151515"/>
<rect x="696.7" y="463.3" width="19.3" height="8.7" rx="1.5" fill="#0c0c0c" stroke="#f2f2f2" stroke-width="1.4"/>
<rect x="699.1" y="465.3" width="14.5" height="4.7" fill="#5e5e5c"/>
<rect x="699.1" y="465.3" width="3.48" height="4.7" fill="#d8d8d4"/>
<rect x="710.12" y="465.3" width="3.48" height="4.7" fill="#d8d8d4"/>
<rect x="696.7" y="473.5" width="19.3" height="9.1" rx="1.5" fill="#0c0c0c" stroke="#f2f2f2" stroke-width="1.4"/>
<rect x="699.1" y="475.5" width="14.5" height="5.1" fill="#946b4c"/>
<rect x="699.1" y="475.5" width="3.48" height="5.1" fill="#d8d8d4"/>
<rect x="710.12" y="475.5" width="3.48" height="5.1" fill="#d8d8d4"/>
<text x="517" y="517.4" font-size="5.8" fill="#fff" font-weight="bold" transform="rotate(180 521.5 515)">50</text>
<text x="675.5" y="517.6" font-size="5.6" fill="#fff" font-weight="bold">1</text>
<path d="M681 521.5 L689 525.5 L681 529.5" fill="none" stroke="#fff" stroke-width="1.5"/>
<rect x="499.4" y="679.7" width="197.5" height="31.9" rx="1" fill="#2c2c2c"/>
<rect x="501" y="681" width="9.5" height="29" fill="#4a4a4a"/>
<rect x="689.5" y="681" width="6.5" height="29" fill="#4a4a4a"/>
<path d="M518.8 557 L678.7 557 L678.7 655 L689.2 667.3 L689.2 709.4 L511 709.4 L511 662 L518.8 655 Z" fill="#e89c24"/>
<path d="M518.8 557 L678.7 557 L678.7 655 L689.2 667.3 L689.2 709.4 L511 709.4 L511 662 L518.8 655 Z" fill="url(#pFlex)"/>
<path d="M518.8 590 L678.7 578 L678.7 612 L518.8 636 Z" fill="#7a3c00" opacity="0.28"/>
<path d="M511 664 L545 664 L552 672 L552 709 L511 709 Z" fill="#eaa024"/>
<path d="M616 662 L630 662 L634 672 L646 709 L608 709 L608 690 L616 682 Z" fill="#eaa024"/>
<path d="M521 560 L521 655 M524 560 L524 600" stroke="#f0b040" stroke-width="1.6" fill="none"/>
<g fill="none" stroke="#8a4a08" stroke-width="1">
<path d="M618 655 L632 676 L643 709"/>
<path d="M626.06 655 L640.06 675.38 L651.06 709"/>
<path d="M634.12 655 L648.12 674.76 L659.12 709"/>
<path d="M642.18 655 L656.18 674.14 L667.18 709"/>
<path d="M650.24 655 L664.24 673.52 L675.24 709"/>
<path d="M658.3 655 L672.3 672.9 L683.3 709"/>
<path d="M666.36 655 L680.36 672.28 L691.36 709"/>
<path d="M560 660 L560 672 L572 684 L574 709"/>
<path d="M566.16 660 L566.16 674.8 L578.16 686.8 L580.16 709"/>
<path d="M572.32 660 L572.32 677.6 L584.32 689.6 L586.32 709"/>
<path d="M578.48 660 L578.48 680.4 L590.48 692.4 L592.48 709"/>
<path d="M584.64 660 L584.64 683.2 L596.64 695.2 L598.64 709"/>
<path d="M590.8 660 L590.8 686 L602.8 698 L604.8 709"/>
</g>
<rect x="521.8" y="520.8" width="1.4" height="10.2" fill="#bdbdb9"/>
<rect x="524.43" y="520.8" width="1.4" height="10.2" fill="#bdbdb9"/>
<rect x="527.06" y="520.8" width="1.4" height="10.2" fill="#bdbdb9"/>
<rect x="529.69" y="520.8" width="1.4" height="10.2" fill="#bdbdb9"/>
<rect x="532.32" y="520.8" width="1.4" height="10.2" fill="#bdbdb9"/>
<rect x="534.95" y="520.8" width="1.4" height="10.2" fill="#bdbdb9"/>
<rect x="537.58" y="520.8" width="1.4" height="10.2" fill="#bdbdb9"/>
<rect x="540.21" y="520.8" width="1.4" height="10.2" fill="#bdbdb9"/>
<rect x="542.84" y="520.8" width="1.4" height="10.2" fill="#bdbdb9"/>
<rect x="545.47" y="520.8" width="1.4" height="10.2" fill="#bdbdb9"/>
<rect x="548.11" y="520.8" width="1.4" height="10.2" fill="#bdbdb9"/>
<rect x="550.74" y="520.8" width="1.4" height="10.2" fill="#bdbdb9"/>
<rect x="553.37" y="520.8" width="1.4" height="10.2" fill="#bdbdb9"/>
<rect x="556" y="520.8" width="1.4" height="10.2" fill="#bdbdb9"/>
<rect x="558.63" y="520.8" width="1.4" height="10.2" fill="#bdbdb9"/>
<rect x="561.26" y="520.8" width="1.4" height="10.2" fill="#bdbdb9"/>
<rect x="563.89" y="520.8" width="1.4" height="10.2" fill="#bdbdb9"/>
<rect x="566.52" y="520.8" width="1.4" height="10.2" fill="#bdbdb9"/>
<rect x="569.15" y="520.8" width="1.4" height="10.2" fill="#bdbdb9"/>
<rect x="571.78" y="520.8" width="1.4" height="10.2" fill="#bdbdb9"/>
<rect x="574.41" y="520.8" width="1.4" height="10.2" fill="#bdbdb9"/>
<rect x="577.04" y="520.8" width="1.4" height="10.2" fill="#bdbdb9"/>
<rect x="579.67" y="520.8" width="1.4" height="10.2" fill="#bdbdb9"/>
<rect x="582.3" y="520.8" width="1.4" height="10.2" fill="#bdbdb9"/>
<rect x="584.93" y="520.8" width="1.4" height="10.2" fill="#bdbdb9"/>
<rect x="587.56" y="520.8" width="1.4" height="10.2" fill="#bdbdb9"/>
<rect x="590.19" y="520.8" width="1.4" height="10.2" fill="#bdbdb9"/>
<rect x="592.82" y="520.8" width="1.4" height="10.2" fill="#bdbdb9"/>
<rect x="595.45" y="520.8" width="1.4" height="10.2" fill="#bdbdb9"/>
<rect x="598.08" y="520.8" width="1.4" height="10.2" fill="#bdbdb9"/>
<rect x="600.72" y="520.8" width="1.4" height="10.2" fill="#bdbdb9"/>
<rect x="603.35" y="520.8" width="1.4" height="10.2" fill="#bdbdb9"/>
<rect x="605.98" y="520.8" width="1.4" height="10.2" fill="#bdbdb9"/>
<rect x="608.61" y="520.8" width="1.4" height="10.2" fill="#bdbdb9"/>
<rect x="611.24" y="520.8" width="1.4" height="10.2" fill="#bdbdb9"/>
<rect x="613.87" y="520.8" width="1.4" height="10.2" fill="#bdbdb9"/>
<rect x="616.5" y="520.8" width="1.4" height="10.2" fill="#bdbdb9"/>
<rect x="619.13" y="520.8" width="1.4" height="10.2" fill="#bdbdb9"/>
<rect x="621.76" y="520.8" width="1.4" height="10.2" fill="#bdbdb9"/>
<rect x="624.39" y="520.8" width="1.4" height="10.2" fill="#bdbdb9"/>
<rect x="627.02" y="520.8" width="1.4" height="10.2" fill="#bdbdb9"/>
<rect x="629.65" y="520.8" width="1.4" height="10.2" fill="#bdbdb9"/>
<rect x="632.28" y="520.8" width="1.4" height="10.2" fill="#bdbdb9"/>
<rect x="634.91" y="520.8" width="1.4" height="10.2" fill="#bdbdb9"/>
<rect x="637.54" y="520.8" width="1.4" height="10.2" fill="#bdbdb9"/>
<rect x="640.17" y="520.8" width="1.4" height="10.2" fill="#bdbdb9"/>
<rect x="642.8" y="520.8" width="1.4" height="10.2" fill="#bdbdb9"/>
<rect x="645.43" y="520.8" width="1.4" height="10.2" fill="#bdbdb9"/>
<rect x="648.06" y="520.8" width="1.4" height="10.2" fill="#bdbdb9"/>
<rect x="650.69" y="520.8" width="1.4" height="10.2" fill="#bdbdb9"/>
<rect x="653.33" y="520.8" width="1.4" height="10.2" fill="#bdbdb9"/>
<rect x="655.96" y="520.8" width="1.4" height="10.2" fill="#bdbdb9"/>
<rect x="658.59" y="520.8" width="1.4" height="10.2" fill="#bdbdb9"/>
<rect x="661.22" y="520.8" width="1.4" height="10.2" fill="#bdbdb9"/>
<rect x="663.85" y="520.8" width="1.4" height="10.2" fill="#bdbdb9"/>
<rect x="666.48" y="520.8" width="1.4" height="10.2" fill="#bdbdb9"/>
<rect x="669.11" y="520.8" width="1.4" height="10.2" fill="#bdbdb9"/>
<rect x="671.74" y="520.8" width="1.4" height="10.2" fill="#bdbdb9"/>
<rect x="674.37" y="520.8" width="1.4" height="10.2" fill="#bdbdb9"/>
<rect x="677" y="520.8" width="1.4" height="10.2" fill="#bdbdb9"/>
<rect x="501.4" y="528.9" width="17.4" height="19.1" rx="1.5" fill="#c4c4c2"/>
<rect x="680.5" y="528.9" width="16.8" height="19.1" rx="1.5" fill="#c4c4c2"/>
<rect x="504.5" y="532" width="11.5" height="13" fill="#9a9a98"/>
<rect x="683.5" y="532" width="11.5" height="13" fill="#9a9a98"/>
<rect x="501.4" y="547" width="17.4" height="15.4" rx="1.5" fill="#3c3c3c"/>
<rect x="680.5" y="547" width="16.8" height="15.4" rx="1.5" fill="#3c3c3c"/>
<rect x="518.3" y="529.6" width="162.7" height="25" fill="#e8e2d8"/>
<rect x="518.3" y="552" width="162.7" height="4.8" fill="#b4aea2"/>
<rect x="777.5" y="385.6" width="3.5" height="8.5" fill="#b8b8b4"/>
<rect x="785" y="385.6" width="3.5" height="8.5" fill="#b8b8b4"/>
<rect x="768.5" y="358.6" width="29.1" height="28" rx="1.5" fill="#efe6d2"/>
<rect x="770.5" y="360.6" width="25.1" height="21" rx="1" fill="#f7f0e0"/>
<rect x="768.5" y="381.6" width="29.1" height="5" rx="1" fill="#d9cfb8"/>
<rect x="727" y="412" width="13" height="3" fill="#e0e0dc"/>
<rect x="759.8" y="412" width="13" height="3" fill="#e0e0dc"/>
<rect x="727" y="420" width="13" height="3" fill="#e0e0dc"/>
<rect x="759.8" y="420" width="13" height="3" fill="#e0e0dc"/>
<rect x="727" y="428" width="13" height="3" fill="#e0e0dc"/>
<rect x="759.8" y="428" width="13" height="3" fill="#e0e0dc"/>
<rect x="727" y="436" width="13" height="3" fill="#e0e0dc"/>
<rect x="759.8" y="436" width="13" height="3" fill="#e0e0dc"/>
<rect x="739" y="409.5" width="21.8" height="32" rx="1" fill="#151515"/>
<rect x="745" y="407.8" width="5" height="2.2" fill="#d8d8d4"/>
<rect x="752" y="407.8" width="5" height="2.2" fill="#d8d8d4"/>
<rect x="782.6" y="408.2" width="20.4" height="37.2" rx="1.5" fill="#0c0c0c" stroke="#f2f2f2" stroke-width="1.4"/>
<rect x="785" y="410.2" width="15.6" height="6.2" fill="#7c6a5c"/>
<rect x="785" y="410.2" width="3.74" height="6.2" fill="#d8d8d4"/>
<rect x="796.86" y="410.2" width="3.74" height="6.2" fill="#d8d8d4"/>
<line x1="782.6" y1="417.8" x2="803" y2="417.8" stroke="#f2f2f2" stroke-width="1.1"/>
<rect x="785" y="419.2" width="15.6" height="6.2" fill="#5e5e5c"/>
<rect x="785" y="419.2" width="3.74" height="6.2" fill="#d8d8d4"/>
<rect x="796.86" y="419.2" width="3.74" height="6.2" fill="#d8d8d4"/>
<line x1="782.6" y1="426.8" x2="803" y2="426.8" stroke="#f2f2f2" stroke-width="1.1"/>
<rect x="785" y="428.2" width="15.6" height="6.2" fill="#8a6a50"/>
<rect x="785" y="428.2" width="3.74" height="6.2" fill="#d8d8d4"/>
<rect x="796.86" y="428.2" width="3.74" height="6.2" fill="#d8d8d4"/>
<line x1="782.6" y1="435.8" x2="803" y2="435.8" stroke="#f2f2f2" stroke-width="1.1"/>
<rect x="785" y="437.2" width="15.6" height="6.2" fill="#4c4c4a"/>
<rect x="785" y="437.2" width="3.74" height="6.2" fill="#d8d8d4"/>
<rect x="796.86" y="437.2" width="3.74" height="6.2" fill="#d8d8d4"/>
<rect x="724.9" y="446.7" width="91" height="20.5" rx="1.5" fill="#0c0c0c" stroke="#f2f2f2" stroke-width="1.4"/>
<rect x="726.9" y="449.1" width="6.18" height="15.7" fill="#8a6a50"/>
<rect x="726.9" y="449.1" width="6.18" height="3.77" fill="#d8d8d4"/>
<rect x="726.9" y="461.03" width="6.18" height="3.77" fill="#d8d8d4"/>
<line x1="734.48" y1="446.7" x2="734.48" y2="467.2" stroke="#f2f2f2" stroke-width="1.1"/>
<rect x="735.88" y="449.1" width="6.18" height="15.7" fill="#4c4c4a"/>
<rect x="735.88" y="449.1" width="6.18" height="3.77" fill="#d8d8d4"/>
<rect x="735.88" y="461.03" width="6.18" height="3.77" fill="#d8d8d4"/>
<line x1="743.46" y1="446.7" x2="743.46" y2="467.2" stroke="#f2f2f2" stroke-width="1.1"/>
<rect x="744.86" y="449.1" width="6.18" height="15.7" fill="#6c625a"/>
<rect x="744.86" y="449.1" width="6.18" height="3.77" fill="#d8d8d4"/>
<rect x="744.86" y="461.03" width="6.18" height="3.77" fill="#d8d8d4"/>
<line x1="752.44" y1="446.7" x2="752.44" y2="467.2" stroke="#f2f2f2" stroke-width="1.1"/>
<rect x="753.84" y="449.1" width="6.18" height="15.7" fill="#946b4c"/>
<rect x="753.84" y="449.1" width="6.18" height="3.77" fill="#d8d8d4"/>
<rect x="753.84" y="461.03" width="6.18" height="3.77" fill="#d8d8d4"/>
<line x1="761.42" y1="446.7" x2="761.42" y2="467.2" stroke="#f2f2f2" stroke-width="1.1"/>
<rect x="762.82" y="449.1" width="6.18" height="15.7" fill="#7c6a5c"/>
<rect x="762.82" y="449.1" width="6.18" height="3.77" fill="#d8d8d4"/>
<rect x="762.82" y="461.03" width="6.18" height="3.77" fill="#d8d8d4"/>
<line x1="770.4" y1="446.7" x2="770.4" y2="467.2" stroke="#f2f2f2" stroke-width="1.1"/>
<rect x="771.8" y="449.1" width="6.18" height="15.7" fill="#5e5e5c"/>
<rect x="771.8" y="449.1" width="6.18" height="3.77" fill="#d8d8d4"/>
<rect x="771.8" y="461.03" width="6.18" height="3.77" fill="#d8d8d4"/>
<line x1="779.38" y1="446.7" x2="779.38" y2="467.2" stroke="#f2f2f2" stroke-width="1.1"/>
<rect x="780.78" y="449.1" width="6.18" height="15.7" fill="#8a6a50"/>
<rect x="780.78" y="449.1" width="6.18" height="3.77" fill="#d8d8d4"/>
<rect x="780.78" y="461.03" width="6.18" height="3.77" fill="#d8d8d4"/>
<line x1="788.36" y1="446.7" x2="788.36" y2="467.2" stroke="#f2f2f2" stroke-width="1.1"/>
<rect x="789.76" y="449.1" width="6.18" height="15.7" fill="#4c4c4a"/>
<rect x="789.76" y="449.1" width="6.18" height="3.77" fill="#d8d8d4"/>
<rect x="789.76" y="461.03" width="6.18" height="3.77" fill="#d8d8d4"/>
<line x1="797.34" y1="446.7" x2="797.34" y2="467.2" stroke="#f2f2f2" stroke-width="1.1"/>
<rect x="798.74" y="449.1" width="6.18" height="15.7" fill="#6c625a"/>
<rect x="798.74" y="449.1" width="6.18" height="3.77" fill="#d8d8d4"/>
<rect x="798.74" y="461.03" width="6.18" height="3.77" fill="#d8d8d4"/>
<line x1="806.32" y1="446.7" x2="806.32" y2="467.2" stroke="#f2f2f2" stroke-width="1.1"/>
<rect x="807.72" y="449.1" width="6.18" height="15.7" fill="#946b4c"/>
<rect x="807.72" y="449.1" width="6.18" height="3.77" fill="#d8d8d4"/>
<rect x="807.72" y="461.03" width="6.18" height="3.77" fill="#d8d8d4"/>
<rect x="724.9" y="467.2" width="11.5" height="55.1" rx="1.5" fill="#0c0c0c" stroke="#f2f2f2" stroke-width="1.4"/>
<rect x="727.3" y="469.2" width="6.7" height="7.98" fill="#5e5e5c"/>
<rect x="727.3" y="469.2" width="1.61" height="7.98" fill="#d8d8d4"/>
<rect x="732.39" y="469.2" width="1.61" height="7.98" fill="#d8d8d4"/>
<line x1="724.9" y1="478.58" x2="736.4" y2="478.58" stroke="#f2f2f2" stroke-width="1.1"/>
<rect x="727.3" y="479.98" width="6.7" height="7.98" fill="#8a6a50"/>
<rect x="727.3" y="479.98" width="1.61" height="7.98" fill="#d8d8d4"/>
<rect x="732.39" y="479.98" width="1.61" height="7.98" fill="#d8d8d4"/>
<line x1="724.9" y1="489.36" x2="736.4" y2="489.36" stroke="#f2f2f2" stroke-width="1.1"/>
<rect x="727.3" y="490.76" width="6.7" height="7.98" fill="#4c4c4a"/>
<rect x="727.3" y="490.76" width="1.61" height="7.98" fill="#d8d8d4"/>
<rect x="732.39" y="490.76" width="1.61" height="7.98" fill="#d8d8d4"/>
<line x1="724.9" y1="500.14" x2="736.4" y2="500.14" stroke="#f2f2f2" stroke-width="1.1"/>
<rect x="727.3" y="501.54" width="6.7" height="7.98" fill="#6c625a"/>
<rect x="727.3" y="501.54" width="1.61" height="7.98" fill="#d8d8d4"/>
<rect x="732.39" y="501.54" width="1.61" height="7.98" fill="#d8d8d4"/>
<line x1="724.9" y1="510.92" x2="736.4" y2="510.92" stroke="#f2f2f2" stroke-width="1.1"/>
<rect x="727.3" y="512.32" width="6.7" height="7.98" fill="#946b4c"/>
<rect x="727.3" y="512.32" width="1.61" height="7.98" fill="#d8d8d4"/>
<rect x="732.39" y="512.32" width="1.61" height="7.98" fill="#d8d8d4"/>
<rect x="726" y="462" width="9.5" height="8" fill="#0c0c0c"/>
<rect x="727.2" y="458" width="7" height="18" fill="#8a6a50"/>
<rect x="727.2" y="458" width="7" height="4.32" fill="#d8d8d4"/>
<rect x="727.2" y="471.68" width="7" height="4.32" fill="#d8d8d4"/>
<rect x="754.58" y="479.8" width="3.6" height="11.5" fill="#dcdcd8"/>
<rect x="754.58" y="512.3" width="3.6" height="11.5" fill="#dcdcd8"/>
<rect x="763.74" y="479.8" width="3.6" height="11.5" fill="#dcdcd8"/>
<rect x="763.74" y="512.3" width="3.6" height="11.5" fill="#dcdcd8"/>
<rect x="772.89" y="479.8" width="3.6" height="11.5" fill="#dcdcd8"/>
<rect x="772.89" y="512.3" width="3.6" height="11.5" fill="#dcdcd8"/>
<rect x="782.05" y="479.8" width="3.6" height="11.5" fill="#dcdcd8"/>
<rect x="782.05" y="512.3" width="3.6" height="11.5" fill="#dcdcd8"/>
<rect x="791.21" y="479.8" width="3.6" height="11.5" fill="#dcdcd8"/>
<rect x="791.21" y="512.3" width="3.6" height="11.5" fill="#dcdcd8"/>
<rect x="800.36" y="479.8" width="3.6" height="11.5" fill="#dcdcd8"/>
<rect x="800.36" y="512.3" width="3.6" height="11.5" fill="#dcdcd8"/>
<rect x="809.52" y="479.8" width="3.6" height="11.5" fill="#dcdcd8"/>
<rect x="809.52" y="512.3" width="3.6" height="11.5" fill="#dcdcd8"/>
<rect x="751.8" y="490.3" width="64.1" height="23" rx="1" fill="#1b1b1b"/>
<circle cx="815.5" cy="483" r="1.6" fill="#fff"/>
<path d="M797 497 L807 497 L807 509 L799 509 A6 6 0 0 1 797 503 Z" fill="#4e4e4e"/>
<rect x="776" y="496" width="18" height="14" fill="#2c2c2c"/>
<path d="M723 543 L723 538.5 L727 538.5 M738 538.5 L742 538.5 L742 543" stroke="#f2f2f2" stroke-width="1.3" fill="none"/>
<rect x="729.5" y="536.5" width="6" height="5.5" fill="#d8d8d4"/>
<rect x="724.5" y="553" width="6" height="6" fill="#d8d8d4"/>
<rect x="735.5" y="553" width="6" height="6" fill="#d8d8d4"/>
<circle cx="722.5" cy="556" r="1" fill="#fff"/>
<rect x="748" y="536.4" width="16" height="33.1" rx="1.5" fill="#0c0c0c" stroke="#f2f2f2" stroke-width="1.4"/>
<rect x="750" y="538.8" width="12" height="28.3" fill="#8a6a50"/>
<rect x="750" y="538.8" width="12" height="6.79" fill="#d8d8d4"/>
<rect x="750" y="560.31" width="12" height="6.79" fill="#d8d8d4"/>
<rect x="765.5" y="536.4" width="10.5" height="22.6" rx="1.5" fill="#0c0c0c" stroke="#f2f2f2" stroke-width="1.4"/>
<rect x="767.5" y="538.8" width="6.5" height="17.8" fill="#5e5e5c"/>
<rect x="767.5" y="538.8" width="6.5" height="4.27" fill="#d8d8d4"/>
<rect x="767.5" y="552.33" width="6.5" height="4.27" fill="#d8d8d4"/>
<rect x="777.5" y="536.4" width="10.5" height="22.6" rx="1.5" fill="#0c0c0c" stroke="#f2f2f2" stroke-width="1.4"/>
<rect x="779.5" y="538.8" width="6.5" height="17.8" fill="#4c4c4a"/>
<rect x="779.5" y="538.8" width="6.5" height="4.27" fill="#d8d8d4"/>
<rect x="779.5" y="552.33" width="6.5" height="4.27" fill="#d8d8d4"/>
<rect x="789.5" y="536.4" width="10.5" height="22.6" rx="1.5" fill="#0c0c0c" stroke="#f2f2f2" stroke-width="1.4"/>
<rect x="791.5" y="538.8" width="6.5" height="17.8" fill="#6c625a"/>
<rect x="791.5" y="538.8" width="6.5" height="4.27" fill="#d8d8d4"/>
<rect x="791.5" y="552.33" width="6.5" height="4.27" fill="#d8d8d4"/>
<rect x="801.5" y="536.4" width="8" height="22.6" rx="1.5" fill="#0c0c0c" stroke="#f2f2f2" stroke-width="1.4"/>
<rect x="803.5" y="538.8" width="4" height="17.8" fill="#5e5e5c"/>
<rect x="803.5" y="538.8" width="4" height="4.27" fill="#d8d8d4"/>
<rect x="803.5" y="552.33" width="4" height="4.27" fill="#d8d8d4"/>
<rect x="811" y="536.4" width="15" height="33.1" rx="1.5" fill="#0c0c0c" stroke="#f2f2f2" stroke-width="1.4"/>
<rect x="813" y="538.8" width="11" height="28.3" fill="#8a6a50"/>
<rect x="813" y="538.8" width="11" height="6.79" fill="#d8d8d4"/>
<rect x="813" y="560.31" width="11" height="6.79" fill="#d8d8d4"/>
<rect x="766" y="556" width="10" height="20" rx="1.5" fill="#0c0c0c" stroke="#f2f2f2" stroke-width="1.4"/>
<rect x="768" y="558.4" width="6" height="15.2" fill="#946b4c"/>
<rect x="768" y="558.4" width="6" height="3.65" fill="#d8d8d4"/>
<rect x="768" y="569.95" width="6" height="3.65" fill="#d8d8d4"/>
<rect x="798.5" y="556" width="10" height="20" rx="1.5" fill="#0c0c0c" stroke="#f2f2f2" stroke-width="1.4"/>
<rect x="800.5" y="558.4" width="6" height="15.2" fill="#946b4c"/>
<rect x="800.5" y="558.4" width="6" height="3.65" fill="#d8d8d4"/>
<rect x="800.5" y="569.95" width="6" height="3.65" fill="#d8d8d4"/>
<rect x="778" y="560" width="19" height="12" fill="#161616"/>
<rect x="784" y="556" width="6" height="5" fill="#d8d8d4"/>
<rect x="779" y="571" width="6" height="6" fill="#d8d8d4"/>
<rect x="790" y="571" width="6" height="6" fill="#d8d8d4"/>
<rect x="723" y="582.6" width="76" height="10.2" rx="1.5" fill="#0c0c0c" stroke="#f2f2f2" stroke-width="1.4"/>
<rect x="725" y="585" width="15.9" height="5.4" fill="#5e5e5c"/>
<rect x="725" y="585" width="15.9" height="1.3" fill="#d8d8d4"/>
<rect x="725" y="589.1" width="15.9" height="1.3" fill="#d8d8d4"/>
<line x1="742.3" y1="582.6" x2="742.3" y2="592.8" stroke="#f2f2f2" stroke-width="1.1"/>
<rect x="743.7" y="585" width="15.9" height="5.4" fill="#8a6a50"/>
<rect x="743.7" y="585" width="15.9" height="1.3" fill="#d8d8d4"/>
<rect x="743.7" y="589.1" width="15.9" height="1.3" fill="#d8d8d4"/>
<line x1="761" y1="582.6" x2="761" y2="592.8" stroke="#f2f2f2" stroke-width="1.1"/>
<rect x="762.4" y="585" width="15.9" height="5.4" fill="#4c4c4a"/>
<rect x="762.4" y="585" width="15.9" height="1.3" fill="#d8d8d4"/>
<rect x="762.4" y="589.1" width="15.9" height="1.3" fill="#d8d8d4"/>
<line x1="779.7" y1="582.6" x2="779.7" y2="592.8" stroke="#f2f2f2" stroke-width="1.1"/>
<rect x="781.1" y="585" width="15.9" height="5.4" fill="#6c625a"/>
<rect x="781.1" y="585" width="15.9" height="1.3" fill="#d8d8d4"/>
<rect x="781.1" y="589.1" width="15.9" height="1.3" fill="#d8d8d4"/>
<rect x="726" y="585" width="70" height="5.4" fill="#0c0c0c"/>
<rect x="725.6" y="585.2" width="15" height="5.1" fill="#555"/>
<rect x="725.6" y="585.2" width="3.6" height="5.1" fill="#d8d8d4"/>
<rect x="737" y="585.2" width="3.6" height="5.1" fill="#d8d8d4"/>
<rect x="744.4" y="585.2" width="15" height="5.1" fill="#555"/>
<rect x="744.4" y="585.2" width="3.6" height="5.1" fill="#d8d8d4"/>
<rect x="755.8" y="585.2" width="3.6" height="5.1" fill="#d8d8d4"/>
<rect x="763.2" y="585.2" width="15" height="5.1" fill="#555"/>
<rect x="763.2" y="585.2" width="3.6" height="5.1" fill="#d8d8d4"/>
<rect x="774.6" y="585.2" width="3.6" height="5.1" fill="#d8d8d4"/>
<rect x="782" y="585.2" width="15" height="5.1" fill="#555"/>
<rect x="782" y="585.2" width="3.6" height="5.1" fill="#d8d8d4"/>
<rect x="793.4" y="585.2" width="3.6" height="5.1" fill="#d8d8d4"/>
<text x="869.7" y="392.3" font-size="18.5" fill="#fff" font-weight="bold" text-anchor="middle">+</text>
<text x="868.8" y="442.3" font-size="22" fill="#fff" font-weight="bold" text-anchor="middle" transform="rotate(90 868.8 442.3) translate(0 6)">-</text>
<rect x="860.4" y="394.8" width="37.5" height="41.4" rx="1.5" fill="#e9e9e7"/>
<rect x="866" y="398" width="23" height="35" rx="1" fill="#f5f5f3"/>
<rect x="888" y="398" width="6" height="10" fill="#dcdcda"/>
<rect x="888" y="423" width="6" height="10" fill="#dcdcda"/>
<rect x="892" y="408" width="6.5" height="15" fill="#111"/>
<rect x="861.5" y="396" width="3.5" height="39" fill="#d4d4d2"/>
<circle cx="876.5" cy="409.5" r="1.5" fill="#b8b8b6"/>
<circle cx="876.5" cy="421.5" r="1.5" fill="#b8b8b6"/>
<path d="M911 416.4 C913 408.5 921 406 926.6 410.5 C931 414.5 931 418.5 926.6 422.3 C921 426.8 913 424.3 911 416.4 Z" fill="#d3d7d6" transform="rotate(238 911 416.4)"/>
<path d="M911 416.4 C913 408.5 921 406 926.6 410.5 C931 414.5 931 418.5 926.6 422.3 C921 426.8 913 424.3 911 416.4 Z" fill="#d3d7d6" transform="rotate(0 911 416.4)"/>
<path d="M911 416.4 C913 408.5 921 406 926.6 410.5 C931 414.5 931 418.5 926.6 422.3 C921 426.8 913 424.3 911 416.4 Z" fill="#d3d7d6" transform="rotate(122 911 416.4)"/>
<circle cx="911" cy="416.4" r="1.6" fill="#8e9290"/>
<rect x="841.5" y="461.5" width="44.3" height="38.6" rx="1" fill="#0c0c0c" stroke="#f2f2f2" stroke-width="1.6"/>
<rect x="845" y="465" width="37.3" height="31.6" rx="5" fill="#4e4e4e"/>
<rect x="847" y="467" width="33.3" height="27.6" rx="4" fill="#3a3a3a"/>
<text x="863.65" y="485.3" font-size="12.5" fill="#7e7e7e" text-anchor="middle" transform="rotate(180 863.65 480.8)">220</text>
<rect x="842.3" y="503" width="47.7" height="18.6" rx="2" fill="#0c0c0c" stroke="#f2f2f2" stroke-width="1.4"/>
<rect x="845" y="505.5" width="42.5" height="13.7" rx="2" fill="#d2d2ce"/>
<rect x="853" y="505.5" width="26" height="13.7" fill="#2a2a2a"/>
<rect x="888.8" y="467.3" width="14.2" height="32.7" rx="1.5" fill="#0c0c0c" stroke="#f2f2f2" stroke-width="1.4"/>
<rect x="890.8" y="469.7" width="10.2" height="27.9" fill="#8a6a50"/>
<rect x="890.8" y="469.7" width="10.2" height="6.7" fill="#d8d8d4"/>
<rect x="890.8" y="490.9" width="10.2" height="6.7" fill="#d8d8d4"/>
<rect x="893" y="505.4" width="8" height="14.2" fill="#946b4c"/>
<rect x="893" y="505.4" width="8" height="3.41" fill="#d8d8d4"/>
<rect x="893" y="516.19" width="8" height="3.41" fill="#d8d8d4"/>
<rect x="846" y="527.95" width="7" height="2.6" fill="#e0e0dc"/>
<rect x="863" y="527.95" width="7" height="2.6" fill="#e0e0dc"/>
<rect x="846" y="533.45" width="7" height="2.6" fill="#e0e0dc"/>
<rect x="863" y="533.45" width="7" height="2.6" fill="#e0e0dc"/>
<rect x="846" y="538.95" width="7" height="2.6" fill="#e0e0dc"/>
<rect x="863" y="538.95" width="7" height="2.6" fill="#e0e0dc"/>
<rect x="852" y="526.5" width="12" height="16.5" rx="1" fill="#151515"/>
<rect x="873" y="523" width="20" height="20.5" rx="1.5" fill="#0c0c0c" stroke="#f2f2f2" stroke-width="1.4"/>
<rect x="875" y="525.4" width="6.6" height="15.7" fill="#5e5e5c"/>
<rect x="875" y="525.4" width="6.6" height="3.77" fill="#d8d8d4"/>
<rect x="875" y="537.33" width="6.6" height="3.77" fill="#d8d8d4"/>
<line x1="883" y1="523" x2="883" y2="543.5" stroke="#f2f2f2" stroke-width="1.1"/>
<rect x="884.4" y="525.4" width="6.6" height="15.7" fill="#8a6a50"/>
<rect x="884.4" y="525.4" width="6.6" height="3.77" fill="#d8d8d4"/>
<rect x="884.4" y="537.33" width="6.6" height="3.77" fill="#d8d8d4"/>
<rect x="899" y="526" width="15" height="15" fill="#161616"/>
<rect x="896" y="524.5" width="6" height="5" fill="#d8d8d4"/>
<rect x="896" y="538" width="6" height="5" fill="#d8d8d4"/>
<rect x="911" y="531" width="6" height="6" fill="#d8d8d4"/>
<rect x="841.5" y="547.5" width="27.5" height="16.5" rx="1.5" fill="#0c0c0c" stroke="#f2f2f2" stroke-width="1.4"/>
<rect x="843.9" y="549.5" width="22.7" height="12.5" fill="#4c4c4a"/>
<rect x="843.9" y="549.5" width="5.45" height="12.5" fill="#d8d8d4"/>
<rect x="861.15" y="549.5" width="5.45" height="12.5" fill="#d8d8d4"/>
<rect x="871" y="547.5" width="30" height="16.5" rx="1.5" fill="#0c0c0c" stroke="#f2f2f2" stroke-width="1.4"/>
<rect x="873.4" y="549.5" width="25.2" height="12.5" fill="#4c4c4a"/>
<rect x="873.4" y="549.5" width="6.05" height="12.5" fill="#d8d8d4"/>
<rect x="892.55" y="549.5" width="6.05" height="12.5" fill="#d8d8d4"/>
<rect x="903" y="547.5" width="17" height="16.5" rx="1.5" fill="#0c0c0c" stroke="#f2f2f2" stroke-width="1.4"/>
<rect x="905" y="549.9" width="5.1" height="11.7" fill="#4c4c4a"/>
<rect x="905" y="549.9" width="5.1" height="2.81" fill="#d8d8d4"/>
<rect x="905" y="558.79" width="5.1" height="2.81" fill="#d8d8d4"/>
<line x1="911.5" y1="547.5" x2="911.5" y2="564" stroke="#f2f2f2" stroke-width="1.1"/>
<rect x="912.9" y="549.9" width="5.1" height="11.7" fill="#6c625a"/>
<rect x="912.9" y="549.9" width="5.1" height="2.81" fill="#d8d8d4"/>
<rect x="912.9" y="558.79" width="5.1" height="2.81" fill="#d8d8d4"/>
<rect x="941.5" y="511" width="32.9" height="16.3" rx="1.5" fill="#0c0c0c" stroke="#f2f2f2" stroke-width="1.4"/>
<rect x="943.9" y="513" width="28.1" height="12.3" fill="#8a6a50"/>
<rect x="943.9" y="513" width="6.74" height="12.3" fill="#d8d8d4"/>
<rect x="965.26" y="513" width="6.74" height="12.3" fill="#d8d8d4"/>
<rect x="930" y="528.7" width="44.4" height="38.6" rx="1" fill="#0c0c0c" stroke="#f2f2f2" stroke-width="1.6"/>
<rect x="933.5" y="532.2" width="37.4" height="31.6" rx="5" fill="#4e4e4e"/>
<rect x="935.5" y="534.2" width="33.4" height="27.6" rx="4" fill="#3a3a3a"/>
<text x="952.2" y="552.5" font-size="12.5" fill="#7e7e7e" text-anchor="middle" transform="rotate(180 952.2 548)">100</text>
<rect x="952" y="577" width="14" height="17" fill="#141414"/>
<rect x="946" y="577.8" width="5.5" height="2.4" fill="#e0e0dc"/>
<rect x="946" y="584.3" width="5.5" height="2.4" fill="#e0e0dc"/>
<rect x="946" y="590.8" width="5.5" height="2.4" fill="#e0e0dc"/>
<rect x="966" y="579" width="4" height="3" fill="#e0e0dc"/>
<rect x="966" y="590" width="4" height="3" fill="#e0e0dc"/>
<circle cx="949" cy="573.5" r="1" fill="#fff"/>
<rect x="857.2" y="583.5" width="20.8" height="12.5" rx="1.5" fill="#0c0c0c" stroke="#f2f2f2" stroke-width="1.4"/>
<rect x="859.6" y="585.5" width="16" height="8.5" fill="#8a6a50"/>
<rect x="859.6" y="585.5" width="3.84" height="8.5" fill="#d8d8d4"/>
<rect x="871.76" y="585.5" width="3.84" height="8.5" fill="#d8d8d4"/>
<rect x="881.5" y="583" width="30" height="16" rx="1.5" fill="#0c0c0c" stroke="#f2f2f2" stroke-width="1.4"/>
<rect x="883.9" y="585" width="25.2" height="12" fill="#946b4c"/>
<rect x="883.9" y="585" width="6.05" height="12" fill="#d8d8d4"/>
<rect x="903.05" y="585" width="6.05" height="12" fill="#d8d8d4"/>
<rect x="914" y="586" width="21" height="12" rx="1.5" fill="#0c0c0c" stroke="#f2f2f2" stroke-width="1.4"/>
<rect x="916.4" y="588" width="16.2" height="8" fill="#8a6a50"/>
<rect x="916.4" y="588" width="3.89" height="8" fill="#d8d8d4"/>
<rect x="928.71" y="588" width="3.89" height="8" fill="#d8d8d4"/>
<rect x="862.5" y="605.5" width="109.1" height="44.5" rx="1" fill="none" stroke="#f2f2f2" stroke-width="1.3" stroke-dasharray="0"/>
<rect x="863.5" y="606.5" width="14.5" height="42.5" fill="#0c0c0c" stroke="#f2f2f2" stroke-width="1.2"/>
<rect x="866.5" y="609.5" width="8.5" height="36.5" fill="#1a1a1a"/>
<rect x="866.5" y="609.5" width="8.5" height="8.76" fill="#d8d8d4"/>
<rect x="866.5" y="637.24" width="8.5" height="8.76" fill="#d8d8d4"/>
<rect x="879.5" y="600.2" width="17.2" height="47.2" rx="1" fill="#0c0c0c" stroke="#f2f2f2" stroke-width="1.2"/>
<rect x="881.5" y="603" width="13.2" height="41.5" rx="2" fill="#d0d0cc"/>
<rect x="881.5" y="611" width="13.2" height="25.5" fill="#2b2b2b"/>
<rect x="898.1" y="600.2" width="17.2" height="47.2" rx="1" fill="#0c0c0c" stroke="#f2f2f2" stroke-width="1.2"/>
<rect x="900.1" y="603" width="13.2" height="41.5" rx="2" fill="#d0d0cc"/>
<rect x="900.1" y="611" width="13.2" height="25.5" fill="#2b2b2b"/>
<rect x="916.7" y="600.2" width="17.2" height="47.2" rx="1" fill="#0c0c0c" stroke="#f2f2f2" stroke-width="1.2"/>
<rect x="918.7" y="603" width="13.2" height="41.5" rx="2" fill="#d0d0cc"/>
<rect x="918.7" y="611" width="13.2" height="25.5" fill="#2b2b2b"/>
<rect x="938" y="603" width="14" height="17.5" rx="1.5" fill="#0c0c0c" stroke="#f2f2f2" stroke-width="1.4"/>
<rect x="940" y="605.4" width="10" height="12.7" fill="#8a6a50"/>
<rect x="940" y="605.4" width="10" height="3.05" fill="#d8d8d4"/>
<rect x="940" y="615.05" width="10" height="3.05" fill="#d8d8d4"/>
<rect x="953.5" y="603" width="8.5" height="17.5" rx="1.5" fill="#0c0c0c" stroke="#f2f2f2" stroke-width="1.4"/>
<rect x="955.5" y="605.4" width="4.5" height="12.7" fill="#5e5e5c"/>
<rect x="955.5" y="605.4" width="4.5" height="3.05" fill="#d8d8d4"/>
<rect x="955.5" y="615.05" width="4.5" height="3.05" fill="#d8d8d4"/>
<rect x="963.5" y="603" width="8.1" height="17.5" rx="1.5" fill="#0c0c0c" stroke="#f2f2f2" stroke-width="1.4"/>
<rect x="965.5" y="605.4" width="4.1" height="12.7" fill="#6c625a"/>
<rect x="965.5" y="605.4" width="4.1" height="3.05" fill="#d8d8d4"/>
<rect x="965.5" y="615.05" width="4.1" height="3.05" fill="#d8d8d4"/>
<rect x="940" y="623.5" width="13.5" height="26.5" rx="1.5" fill="#0c0c0c" stroke="#f2f2f2" stroke-width="1.4"/>
<rect x="942" y="625.9" width="9.5" height="21.7" fill="#8a6a50"/>
<rect x="942" y="625.9" width="9.5" height="5.21" fill="#d8d8d4"/>
<rect x="942" y="642.39" width="9.5" height="5.21" fill="#d8d8d4"/>
<rect x="956" y="621.5" width="15.6" height="40.5" rx="1.5" fill="#0c0c0c" stroke="#f2f2f2" stroke-width="1.4"/>
<rect x="958" y="623.9" width="11.6" height="35.7" fill="#4c4c4a"/>
<rect x="958" y="623.9" width="11.6" height="8.57" fill="#d8d8d4"/>
<rect x="958" y="651.03" width="11.6" height="8.57" fill="#d8d8d4"/>
<rect x="959.5" y="634" width="9" height="16" fill="#141414"/>
<rect x="900" y="655.5" width="21" height="11" rx="1.5" fill="#0c0c0c" stroke="#f2f2f2" stroke-width="1.4"/>
<rect x="902.4" y="657.5" width="16.2" height="7" fill="#8a6a50"/>
<rect x="902.4" y="657.5" width="3.89" height="7" fill="#d8d8d4"/>
<rect x="914.71" y="657.5" width="3.89" height="7" fill="#d8d8d4"/>
<rect x="925.5" y="654" width="29.5" height="15" rx="1.5" fill="#0c0c0c" stroke="#f2f2f2" stroke-width="1.4"/>
<rect x="927.9" y="656" width="24.7" height="11" fill="#946b4c"/>
<rect x="927.9" y="656" width="5.93" height="11" fill="#d8d8d4"/>
<rect x="946.67" y="656" width="5.93" height="11" fill="#d8d8d4"/>
<text x="998.2" y="444.6" font-size="12.6" fill="#fff" font-weight="bold" textLength="114" lengthAdjust="spacingAndGlyphs" transform="rotate(90 998.2 444.6)">Backlight / Volume</text>
<rect x="1018" y="477" width="2" height="33" fill="#e6e6e6"/>
<rect x="1013" y="489.5" width="5" height="8" fill="#e6e6e6"/>
<rect x="1093.6" y="441.7" width="8.8" height="13.3" fill="#cfcfcf"/>
<rect x="1093.6" y="534.6" width="8.8" height="13.8" fill="#cfcfcf"/>
<path d="M1097.6 447 Q1080 432.5 1058.5 431.8" fill="none" stroke="#fff" stroke-width="3.6" stroke-linecap="round" stroke-linejoin="round"/>
<path d="M1066.6 424.8 L1057.2 431.7 L1065.2 438.8" fill="none" stroke="#fff" stroke-width="3.6" stroke-linecap="round" stroke-linejoin="round"/>
<path d="M1097.6 543.8 Q1080 557 1057.3 557.7" fill="none" stroke="#fff" stroke-width="3.6" stroke-linecap="round" stroke-linejoin="round"/>
<path d="M1065.2 551.2 L1055.9 557.8 L1063.9 565" fill="none" stroke="#fff" stroke-width="3.6" stroke-linecap="round" stroke-linejoin="round"/>
<text x="1043.6" y="436" font-size="18.5" fill="#fff" font-weight="bold" text-anchor="middle">+</text>
<text x="1046.3" y="565.2" font-size="19" fill="#fff" font-weight="bold" text-anchor="middle">-</text>
<circle cx="1069.4" cy="494.4" r="49" fill="#171717"/>
<circle cx="1069.4" cy="494.4" r="48.3" fill="none" stroke="#0a0a0a" stroke-width="1.6" stroke-dasharray="1.6 1.6"/>
<circle cx="1069.4" cy="494.4" r="36" fill="#0b0b0b"/>
<path d="M1088.6 469.5 L1093.5 479.5 L1088.6 480.5 Z M1088.6 519.5 L1093.5 509.5 L1088.6 508.5 Z" fill="#c9d2d6"/>
<rect x="1030" y="454.6" width="6" height="78.4" fill="none" stroke="#e9e9e9" stroke-width="1.4" stroke-dasharray="3 2"/>
<rect x="1028" y="473" width="5.5" height="9" fill="#d9d9d5"/>
<rect x="1028" y="487.5" width="5.5" height="9" fill="#d9d9d5"/>
<rect x="1028" y="502" width="5.5" height="9" fill="#d9d9d5"/>
<path d="M1033 456 L1072.6 456 L1076.5 473 Q1089.6 480 1089.6 494.5 Q1089.6 509 1076.5 516.5 L1072.6 532.2 L1033 532.2 Z" fill="url(#gCopper)"/>
<path d="M1072.5 474 L1081.2 494.6 L1072.5 514.5" fill="none" stroke="#caa090" stroke-width="1.2"/>
<path d="M1069.3 476.5 L1077.6 494.6 L1069.3 512.5" fill="none" stroke="#b48474" stroke-width="1"/>
<rect x="1040" y="455.2" width="31" height="3.4" fill="#a08e86"/>
<rect x="1040" y="529.6" width="31" height="3.4" fill="#a08e86"/>
<text x="1024.9" y="629" font-size="12.3" fill="#fff" font-weight="bold" textLength="56.5" lengthAdjust="spacingAndGlyphs">Earphone</text>
<path d="M1093.5 637.6 L1019.6 637.6 L1019.6 676" fill="none" stroke="#e8e8e8" stroke-width="1.4"/>
<rect x="1104" y="643.5" width="9.8" height="29.3" rx="3" fill="#1d1d1d"/>
<rect x="1021.5" y="639.5" width="84.5" height="38.5" rx="1" fill="#191919"/>
<rect x="1021.5" y="639.5" width="84.5" height="6.5" fill="#232323"/>
<circle cx="1040" cy="642.5" r="1.4" fill="#080808"/>
<rect x="1035.9" y="662.6" width="12" height="11" rx="1" fill="#d6d6d2"/>
<rect x="1037.9" y="665" width="8" height="6.6" fill="#5a5a58"/>
<rect x="1061.2" y="662.6" width="12" height="11" rx="1" fill="#d6d6d2"/>
<rect x="1063.2" y="665" width="8" height="6.6" fill="#5a5a58"/>
<rect x="1079.8" y="662.6" width="12" height="11" rx="1" fill="#d6d6d2"/>
<rect x="1081.8" y="665" width="8" height="6.6" fill="#5a5a58"/>
<circle cx="105.1" cy="191.4" r="19.3" fill="#17110f" stroke="#b9b5af" stroke-width="1.5"/>
<circle cx="103.1" cy="190.5" r="17.2" fill="url(#gRed)"/>
<circle cx="1080.9" cy="192.6" r="19.3" fill="#17110f" stroke="#b9b5af" stroke-width="1.5"/>
<circle cx="1082.6" cy="191.7" r="17.2" fill="url(#gRed)"/>
<circle cx="452.3" cy="381.2" r="19.8" fill="#0a0908"/>
<circle cx="452.3" cy="380.6" r="19" fill="url(#gGold)"/>
<circle cx="819.8" cy="381.2" r="19.8" fill="#0a0908"/>
<circle cx="819.8" cy="380.6" r="19" fill="url(#gGold)"/>
<circle cx="449.6" cy="693.5" r="19.8" fill="#0a0908"/>
<circle cx="449.6" cy="692.9" r="19" fill="url(#gGold)"/>
<circle cx="816.8" cy="693.5" r="19.8" fill="#0a0908"/>
<circle cx="816.8" cy="692.9" r="19" fill="url(#gGold)"/>
<circle cx="103.6" cy="771.1" r="19.3" fill="#1b1a19" stroke="#c4c4c4" stroke-width="1.6"/>
<circle cx="100.8" cy="772.5" r="17.2" fill="url(#gSilver)"/>
<circle cx="1075.2" cy="772.2" r="19.3" fill="#1b1a19" stroke="#c4c4c4" stroke-width="1.6"/>
<circle cx="1078.4" cy="774.4" r="17.2" fill="url(#gSilver)"/>
<text x="469" y="735.3" font-size="23.6" fill="#fff" font-weight="bold" textLength="265" lengthAdjust="spacingAndGlyphs">7inch HDMI Display-H</text>
<text x="619.2" y="757.4" font-size="13.8" fill="#fff" font-weight="bold" textLength="111.8" lengthAdjust="spacingAndGlyphs">1024X600 Pixel</text>
<text x="620.7" y="780.9" font-size="13.8" fill="#fff" font-weight="bold" textLength="71.8" lengthAdjust="spacingAndGlyphs">USB Touch</text>
<text x="622.4" y="795.9" font-size="10" fill="#fff" font-weight="bold" textLength="32" lengthAdjust="spacingAndGlyphs">Rev0.2</text>
<text transform="translate(471.4 780.4) scale(0.617 1)" font-size="35" letter-spacing="12" fill="#fff">CE</text>
<text x="515.1" y="778" font-size="26.4" fill="#fff" font-weight="bold" textLength="51.7" lengthAdjust="spacingAndGlyphs">RoHS</text>
<path d="M574.8 752.8 L602.4 780 M602.4 752.8 L574.8 780" stroke="#fff" fill="none" stroke-linecap="round" stroke-width="2"/>
<path d="M581.5 759.5 L596.5 759.5 L595 775.8 L583 775.8 Z" stroke="#fff" fill="none" stroke-linecap="round" stroke-width="1.8"/>
<path d="M579.5 757.3 L598.5 757.3 M585.5 754.6 L592.5 754.6" stroke="#fff" fill="none" stroke-linecap="round" stroke-width="1.8"/>
<circle cx="594.4" cy="777.6" r="2" fill="#fff"/>
<rect x="575" y="784.8" width="27.7" height="7.5" fill="#fff"/>
</g>
</svg></body></html>
